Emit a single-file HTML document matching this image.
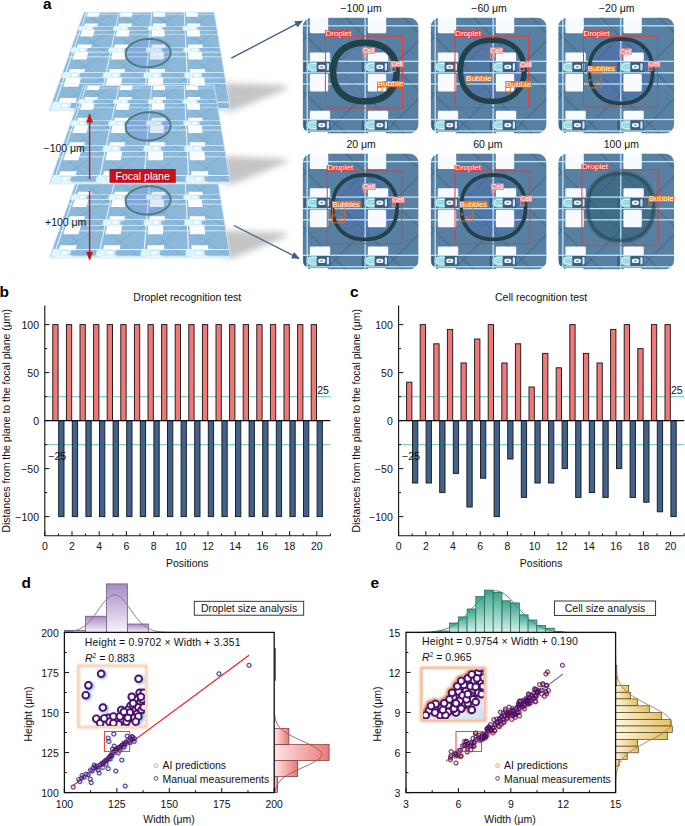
<!DOCTYPE html>
<html><head><meta charset="utf-8"><style>
html,body{margin:0;padding:0;background:#fff;}
#root{position:relative;width:685px;height:826px;overflow:hidden;background:#fff;font-family:"Liberation Sans",sans-serif;}
svg{position:absolute;left:0;top:0;}
</style></head><body><div id="root">
<svg width="685" height="826" viewBox="0 0 685 826" font-family="Liberation Sans">
<line x1="44.80" y1="396.60" x2="330.40" y2="396.60" stroke="#7fd3c4" stroke-width="1.1"/>
<line x1="44.80" y1="444.60" x2="330.40" y2="444.60" stroke="#7fd3c4" stroke-width="1.1"/>
<rect x="52.80" y="324.60" width="5.30" height="96.00" fill="#f07878" stroke="#1a1a1a" stroke-width="0.95"/>
<rect x="58.70" y="420.60" width="5.30" height="96.00" fill="#40628c" stroke="#1a1a1a" stroke-width="0.95"/>
<rect x="66.40" y="324.60" width="5.30" height="96.00" fill="#f07878" stroke="#1a1a1a" stroke-width="0.95"/>
<rect x="72.30" y="420.60" width="5.30" height="96.00" fill="#40628c" stroke="#1a1a1a" stroke-width="0.95"/>
<rect x="80.00" y="324.60" width="5.30" height="96.00" fill="#f07878" stroke="#1a1a1a" stroke-width="0.95"/>
<rect x="85.90" y="420.60" width="5.30" height="96.00" fill="#40628c" stroke="#1a1a1a" stroke-width="0.95"/>
<rect x="93.60" y="324.60" width="5.30" height="96.00" fill="#f07878" stroke="#1a1a1a" stroke-width="0.95"/>
<rect x="99.50" y="420.60" width="5.30" height="96.00" fill="#40628c" stroke="#1a1a1a" stroke-width="0.95"/>
<rect x="107.20" y="324.60" width="5.30" height="96.00" fill="#f07878" stroke="#1a1a1a" stroke-width="0.95"/>
<rect x="113.10" y="420.60" width="5.30" height="96.00" fill="#40628c" stroke="#1a1a1a" stroke-width="0.95"/>
<rect x="120.80" y="324.60" width="5.30" height="96.00" fill="#f07878" stroke="#1a1a1a" stroke-width="0.95"/>
<rect x="126.70" y="420.60" width="5.30" height="96.00" fill="#40628c" stroke="#1a1a1a" stroke-width="0.95"/>
<rect x="134.40" y="324.60" width="5.30" height="96.00" fill="#f07878" stroke="#1a1a1a" stroke-width="0.95"/>
<rect x="140.30" y="420.60" width="5.30" height="96.00" fill="#40628c" stroke="#1a1a1a" stroke-width="0.95"/>
<rect x="148.00" y="324.60" width="5.30" height="96.00" fill="#f07878" stroke="#1a1a1a" stroke-width="0.95"/>
<rect x="153.90" y="420.60" width="5.30" height="96.00" fill="#40628c" stroke="#1a1a1a" stroke-width="0.95"/>
<rect x="161.60" y="324.60" width="5.30" height="96.00" fill="#f07878" stroke="#1a1a1a" stroke-width="0.95"/>
<rect x="167.50" y="420.60" width="5.30" height="96.00" fill="#40628c" stroke="#1a1a1a" stroke-width="0.95"/>
<rect x="175.20" y="324.60" width="5.30" height="96.00" fill="#f07878" stroke="#1a1a1a" stroke-width="0.95"/>
<rect x="181.10" y="420.60" width="5.30" height="96.00" fill="#40628c" stroke="#1a1a1a" stroke-width="0.95"/>
<rect x="188.80" y="324.60" width="5.30" height="96.00" fill="#f07878" stroke="#1a1a1a" stroke-width="0.95"/>
<rect x="194.70" y="420.60" width="5.30" height="96.00" fill="#40628c" stroke="#1a1a1a" stroke-width="0.95"/>
<rect x="202.40" y="324.60" width="5.30" height="96.00" fill="#f07878" stroke="#1a1a1a" stroke-width="0.95"/>
<rect x="208.30" y="420.60" width="5.30" height="96.00" fill="#40628c" stroke="#1a1a1a" stroke-width="0.95"/>
<rect x="216.00" y="324.60" width="5.30" height="96.00" fill="#f07878" stroke="#1a1a1a" stroke-width="0.95"/>
<rect x="221.90" y="420.60" width="5.30" height="96.00" fill="#40628c" stroke="#1a1a1a" stroke-width="0.95"/>
<rect x="229.60" y="324.60" width="5.30" height="96.00" fill="#f07878" stroke="#1a1a1a" stroke-width="0.95"/>
<rect x="235.50" y="420.60" width="5.30" height="96.00" fill="#40628c" stroke="#1a1a1a" stroke-width="0.95"/>
<rect x="243.20" y="324.60" width="5.30" height="96.00" fill="#f07878" stroke="#1a1a1a" stroke-width="0.95"/>
<rect x="249.10" y="420.60" width="5.30" height="96.00" fill="#40628c" stroke="#1a1a1a" stroke-width="0.95"/>
<rect x="256.80" y="324.60" width="5.30" height="96.00" fill="#f07878" stroke="#1a1a1a" stroke-width="0.95"/>
<rect x="262.70" y="420.60" width="5.30" height="96.00" fill="#40628c" stroke="#1a1a1a" stroke-width="0.95"/>
<rect x="270.40" y="324.60" width="5.30" height="96.00" fill="#f07878" stroke="#1a1a1a" stroke-width="0.95"/>
<rect x="276.30" y="420.60" width="5.30" height="96.00" fill="#40628c" stroke="#1a1a1a" stroke-width="0.95"/>
<rect x="284.00" y="324.60" width="5.30" height="96.00" fill="#f07878" stroke="#1a1a1a" stroke-width="0.95"/>
<rect x="289.90" y="420.60" width="5.30" height="96.00" fill="#40628c" stroke="#1a1a1a" stroke-width="0.95"/>
<rect x="297.60" y="324.60" width="5.30" height="96.00" fill="#f07878" stroke="#1a1a1a" stroke-width="0.95"/>
<rect x="303.50" y="420.60" width="5.30" height="96.00" fill="#40628c" stroke="#1a1a1a" stroke-width="0.95"/>
<rect x="311.20" y="324.60" width="5.30" height="96.00" fill="#f07878" stroke="#1a1a1a" stroke-width="0.95"/>
<rect x="317.10" y="420.60" width="5.30" height="96.00" fill="#40628c" stroke="#1a1a1a" stroke-width="0.95"/>
<line x1="44.80" y1="420.60" x2="330.40" y2="420.60" stroke="#111" stroke-width="1.1"/>
<line x1="44.80" y1="305.40" x2="44.80" y2="535.80" stroke="#111" stroke-width="1.1"/>
<line x1="44.30" y1="535.80" x2="330.40" y2="535.80" stroke="#111" stroke-width="1.1"/>
<line x1="44.80" y1="516.60" x2="49.40" y2="516.60" stroke="#111" stroke-width="1"/>
<text transform="translate(39.00,520.80) scale(1.03,1)" font-size="10.2" text-anchor="end" font-weight="normal" fill="#111" letter-spacing="0" >−100</text>
<line x1="44.80" y1="492.60" x2="47.20" y2="492.60" stroke="#111" stroke-width="1"/>
<line x1="44.80" y1="468.60" x2="49.40" y2="468.60" stroke="#111" stroke-width="1"/>
<text transform="translate(39.00,472.80) scale(1.03,1)" font-size="10.2" text-anchor="end" font-weight="normal" fill="#111" letter-spacing="0" >−50</text>
<line x1="44.80" y1="444.60" x2="47.20" y2="444.60" stroke="#111" stroke-width="1"/>
<line x1="44.80" y1="420.60" x2="49.40" y2="420.60" stroke="#111" stroke-width="1"/>
<text transform="translate(39.00,424.80) scale(1.03,1)" font-size="10.2" text-anchor="end" font-weight="normal" fill="#111" letter-spacing="0" >0</text>
<line x1="44.80" y1="396.60" x2="47.20" y2="396.60" stroke="#111" stroke-width="1"/>
<line x1="44.80" y1="372.60" x2="49.40" y2="372.60" stroke="#111" stroke-width="1"/>
<text transform="translate(39.00,376.80) scale(1.03,1)" font-size="10.2" text-anchor="end" font-weight="normal" fill="#111" letter-spacing="0" >50</text>
<line x1="44.80" y1="348.60" x2="47.20" y2="348.60" stroke="#111" stroke-width="1"/>
<line x1="44.80" y1="324.60" x2="49.40" y2="324.60" stroke="#111" stroke-width="1"/>
<text transform="translate(39.00,328.80) scale(1.03,1)" font-size="10.2" text-anchor="end" font-weight="normal" fill="#111" letter-spacing="0" >100</text>
<line x1="44.80" y1="535.80" x2="44.80" y2="531.20" stroke="#111" stroke-width="1"/>
<text transform="translate(44.80,550.20) scale(1.03,1)" font-size="10.2" text-anchor="middle" font-weight="normal" fill="#111" letter-spacing="0" >0</text>
<line x1="58.40" y1="535.80" x2="58.40" y2="533.40" stroke="#111" stroke-width="1"/>
<line x1="72.00" y1="535.80" x2="72.00" y2="531.20" stroke="#111" stroke-width="1"/>
<text transform="translate(72.00,550.20) scale(1.03,1)" font-size="10.2" text-anchor="middle" font-weight="normal" fill="#111" letter-spacing="0" >2</text>
<line x1="85.60" y1="535.80" x2="85.60" y2="533.40" stroke="#111" stroke-width="1"/>
<line x1="99.20" y1="535.80" x2="99.20" y2="531.20" stroke="#111" stroke-width="1"/>
<text transform="translate(99.20,550.20) scale(1.03,1)" font-size="10.2" text-anchor="middle" font-weight="normal" fill="#111" letter-spacing="0" >4</text>
<line x1="112.80" y1="535.80" x2="112.80" y2="533.40" stroke="#111" stroke-width="1"/>
<line x1="126.40" y1="535.80" x2="126.40" y2="531.20" stroke="#111" stroke-width="1"/>
<text transform="translate(126.40,550.20) scale(1.03,1)" font-size="10.2" text-anchor="middle" font-weight="normal" fill="#111" letter-spacing="0" >6</text>
<line x1="140.00" y1="535.80" x2="140.00" y2="533.40" stroke="#111" stroke-width="1"/>
<line x1="153.60" y1="535.80" x2="153.60" y2="531.20" stroke="#111" stroke-width="1"/>
<text transform="translate(153.60,550.20) scale(1.03,1)" font-size="10.2" text-anchor="middle" font-weight="normal" fill="#111" letter-spacing="0" >8</text>
<line x1="167.20" y1="535.80" x2="167.20" y2="533.40" stroke="#111" stroke-width="1"/>
<line x1="180.80" y1="535.80" x2="180.80" y2="531.20" stroke="#111" stroke-width="1"/>
<text transform="translate(180.80,550.20) scale(1.03,1)" font-size="10.2" text-anchor="middle" font-weight="normal" fill="#111" letter-spacing="0" >10</text>
<line x1="194.40" y1="535.80" x2="194.40" y2="533.40" stroke="#111" stroke-width="1"/>
<line x1="208.00" y1="535.80" x2="208.00" y2="531.20" stroke="#111" stroke-width="1"/>
<text transform="translate(208.00,550.20) scale(1.03,1)" font-size="10.2" text-anchor="middle" font-weight="normal" fill="#111" letter-spacing="0" >12</text>
<line x1="221.60" y1="535.80" x2="221.60" y2="533.40" stroke="#111" stroke-width="1"/>
<line x1="235.20" y1="535.80" x2="235.20" y2="531.20" stroke="#111" stroke-width="1"/>
<text transform="translate(235.20,550.20) scale(1.03,1)" font-size="10.2" text-anchor="middle" font-weight="normal" fill="#111" letter-spacing="0" >14</text>
<line x1="248.80" y1="535.80" x2="248.80" y2="533.40" stroke="#111" stroke-width="1"/>
<line x1="262.40" y1="535.80" x2="262.40" y2="531.20" stroke="#111" stroke-width="1"/>
<text transform="translate(262.40,550.20) scale(1.03,1)" font-size="10.2" text-anchor="middle" font-weight="normal" fill="#111" letter-spacing="0" >16</text>
<line x1="276.00" y1="535.80" x2="276.00" y2="533.40" stroke="#111" stroke-width="1"/>
<line x1="289.60" y1="535.80" x2="289.60" y2="531.20" stroke="#111" stroke-width="1"/>
<text transform="translate(289.60,550.20) scale(1.03,1)" font-size="10.2" text-anchor="middle" font-weight="normal" fill="#111" letter-spacing="0" >18</text>
<line x1="303.20" y1="535.80" x2="303.20" y2="533.40" stroke="#111" stroke-width="1"/>
<line x1="316.80" y1="535.80" x2="316.80" y2="531.20" stroke="#111" stroke-width="1"/>
<text transform="translate(316.80,550.20) scale(1.03,1)" font-size="10.2" text-anchor="middle" font-weight="normal" fill="#111" letter-spacing="0" >20</text>
<line x1="330.40" y1="535.80" x2="330.40" y2="533.40" stroke="#111" stroke-width="1"/>
<text transform="translate(328.90,394.10) scale(1.03,1)" font-size="10.2" text-anchor="end" font-weight="normal" fill="#111" letter-spacing="0" >25</text>
<text transform="translate(48.40,460.20) scale(1.03,1)" font-size="10.2" text-anchor="start" font-weight="normal" fill="#111" letter-spacing="0" >−25</text>
<text transform="translate(187.30,301.20) scale(1.03,1)" font-size="10.2" text-anchor="middle" font-weight="normal" fill="#111" letter-spacing="0" >Droplet recognition test</text>
<text transform="translate(187.30,566.80) scale(1.03,1)" font-size="10.2" text-anchor="middle" font-weight="normal" fill="#111" letter-spacing="0" >Positions</text>
<text transform="translate(-0.60,297.10) scale(1.03,1)" font-size="15" text-anchor="start" font-weight="bold" fill="#000" letter-spacing="0" >b</text>
<text transform="translate(9.60,420.80) rotate(-90) scale(1.03,1)" font-size="10.2" text-anchor="middle" fill="#111" letter-spacing="0">Distances from the plane to the focal plane (μm)</text>
<line x1="398.60" y1="396.60" x2="684.20" y2="396.60" stroke="#7fd3c4" stroke-width="1.1"/>
<line x1="398.60" y1="444.60" x2="684.20" y2="444.60" stroke="#7fd3c4" stroke-width="1.1"/>
<rect x="406.60" y="382.20" width="5.30" height="38.40" fill="#f07878" stroke="#1a1a1a" stroke-width="0.95"/>
<rect x="412.50" y="420.60" width="5.30" height="62.40" fill="#40628c" stroke="#1a1a1a" stroke-width="0.95"/>
<rect x="420.20" y="324.60" width="5.30" height="96.00" fill="#f07878" stroke="#1a1a1a" stroke-width="0.95"/>
<rect x="426.10" y="420.60" width="5.30" height="62.40" fill="#40628c" stroke="#1a1a1a" stroke-width="0.95"/>
<rect x="433.80" y="343.80" width="5.30" height="76.80" fill="#f07878" stroke="#1a1a1a" stroke-width="0.95"/>
<rect x="439.70" y="420.60" width="5.30" height="72.00" fill="#40628c" stroke="#1a1a1a" stroke-width="0.95"/>
<rect x="447.40" y="329.40" width="5.30" height="91.20" fill="#f07878" stroke="#1a1a1a" stroke-width="0.95"/>
<rect x="453.30" y="420.60" width="5.30" height="52.80" fill="#40628c" stroke="#1a1a1a" stroke-width="0.95"/>
<rect x="461.00" y="363.00" width="5.30" height="57.60" fill="#f07878" stroke="#1a1a1a" stroke-width="0.95"/>
<rect x="466.90" y="420.60" width="5.30" height="86.40" fill="#40628c" stroke="#1a1a1a" stroke-width="0.95"/>
<rect x="474.60" y="339.00" width="5.30" height="81.60" fill="#f07878" stroke="#1a1a1a" stroke-width="0.95"/>
<rect x="480.50" y="420.60" width="5.30" height="57.60" fill="#40628c" stroke="#1a1a1a" stroke-width="0.95"/>
<rect x="488.20" y="324.60" width="5.30" height="96.00" fill="#f07878" stroke="#1a1a1a" stroke-width="0.95"/>
<rect x="494.10" y="420.60" width="5.30" height="96.00" fill="#40628c" stroke="#1a1a1a" stroke-width="0.95"/>
<rect x="501.80" y="363.00" width="5.30" height="57.60" fill="#f07878" stroke="#1a1a1a" stroke-width="0.95"/>
<rect x="507.70" y="420.60" width="5.30" height="38.40" fill="#40628c" stroke="#1a1a1a" stroke-width="0.95"/>
<rect x="515.40" y="343.80" width="5.30" height="76.80" fill="#f07878" stroke="#1a1a1a" stroke-width="0.95"/>
<rect x="521.30" y="420.60" width="5.30" height="76.80" fill="#40628c" stroke="#1a1a1a" stroke-width="0.95"/>
<rect x="529.00" y="387.00" width="5.30" height="33.60" fill="#f07878" stroke="#1a1a1a" stroke-width="0.95"/>
<rect x="534.90" y="420.60" width="5.30" height="62.40" fill="#40628c" stroke="#1a1a1a" stroke-width="0.95"/>
<rect x="542.60" y="353.40" width="5.30" height="67.20" fill="#f07878" stroke="#1a1a1a" stroke-width="0.95"/>
<rect x="548.50" y="420.60" width="5.30" height="62.40" fill="#40628c" stroke="#1a1a1a" stroke-width="0.95"/>
<rect x="556.20" y="367.80" width="5.30" height="52.80" fill="#f07878" stroke="#1a1a1a" stroke-width="0.95"/>
<rect x="562.10" y="420.60" width="5.30" height="48.00" fill="#40628c" stroke="#1a1a1a" stroke-width="0.95"/>
<rect x="569.80" y="324.60" width="5.30" height="96.00" fill="#f07878" stroke="#1a1a1a" stroke-width="0.95"/>
<rect x="575.70" y="420.60" width="5.30" height="76.80" fill="#40628c" stroke="#1a1a1a" stroke-width="0.95"/>
<rect x="583.40" y="353.40" width="5.30" height="67.20" fill="#f07878" stroke="#1a1a1a" stroke-width="0.95"/>
<rect x="589.30" y="420.60" width="5.30" height="72.00" fill="#40628c" stroke="#1a1a1a" stroke-width="0.95"/>
<rect x="597.00" y="363.00" width="5.30" height="57.60" fill="#f07878" stroke="#1a1a1a" stroke-width="0.95"/>
<rect x="602.90" y="420.60" width="5.30" height="76.80" fill="#40628c" stroke="#1a1a1a" stroke-width="0.95"/>
<rect x="610.60" y="329.40" width="5.30" height="91.20" fill="#f07878" stroke="#1a1a1a" stroke-width="0.95"/>
<rect x="616.50" y="420.60" width="5.30" height="48.00" fill="#40628c" stroke="#1a1a1a" stroke-width="0.95"/>
<rect x="624.20" y="324.60" width="5.30" height="96.00" fill="#f07878" stroke="#1a1a1a" stroke-width="0.95"/>
<rect x="630.10" y="420.60" width="5.30" height="76.80" fill="#40628c" stroke="#1a1a1a" stroke-width="0.95"/>
<rect x="637.80" y="348.60" width="5.30" height="72.00" fill="#f07878" stroke="#1a1a1a" stroke-width="0.95"/>
<rect x="643.70" y="420.60" width="5.30" height="81.60" fill="#40628c" stroke="#1a1a1a" stroke-width="0.95"/>
<rect x="651.40" y="324.60" width="5.30" height="96.00" fill="#f07878" stroke="#1a1a1a" stroke-width="0.95"/>
<rect x="657.30" y="420.60" width="5.30" height="91.20" fill="#40628c" stroke="#1a1a1a" stroke-width="0.95"/>
<rect x="665.00" y="324.60" width="5.30" height="96.00" fill="#f07878" stroke="#1a1a1a" stroke-width="0.95"/>
<rect x="670.90" y="420.60" width="5.30" height="96.00" fill="#40628c" stroke="#1a1a1a" stroke-width="0.95"/>
<line x1="398.60" y1="420.60" x2="684.20" y2="420.60" stroke="#111" stroke-width="1.1"/>
<line x1="398.60" y1="305.40" x2="398.60" y2="535.80" stroke="#111" stroke-width="1.1"/>
<line x1="398.10" y1="535.80" x2="684.20" y2="535.80" stroke="#111" stroke-width="1.1"/>
<line x1="398.60" y1="516.60" x2="403.20" y2="516.60" stroke="#111" stroke-width="1"/>
<text transform="translate(392.80,520.80) scale(1.03,1)" font-size="10.2" text-anchor="end" font-weight="normal" fill="#111" letter-spacing="0" >−100</text>
<line x1="398.60" y1="492.60" x2="401.00" y2="492.60" stroke="#111" stroke-width="1"/>
<line x1="398.60" y1="468.60" x2="403.20" y2="468.60" stroke="#111" stroke-width="1"/>
<text transform="translate(392.80,472.80) scale(1.03,1)" font-size="10.2" text-anchor="end" font-weight="normal" fill="#111" letter-spacing="0" >−50</text>
<line x1="398.60" y1="444.60" x2="401.00" y2="444.60" stroke="#111" stroke-width="1"/>
<line x1="398.60" y1="420.60" x2="403.20" y2="420.60" stroke="#111" stroke-width="1"/>
<text transform="translate(392.80,424.80) scale(1.03,1)" font-size="10.2" text-anchor="end" font-weight="normal" fill="#111" letter-spacing="0" >0</text>
<line x1="398.60" y1="396.60" x2="401.00" y2="396.60" stroke="#111" stroke-width="1"/>
<line x1="398.60" y1="372.60" x2="403.20" y2="372.60" stroke="#111" stroke-width="1"/>
<text transform="translate(392.80,376.80) scale(1.03,1)" font-size="10.2" text-anchor="end" font-weight="normal" fill="#111" letter-spacing="0" >50</text>
<line x1="398.60" y1="348.60" x2="401.00" y2="348.60" stroke="#111" stroke-width="1"/>
<line x1="398.60" y1="324.60" x2="403.20" y2="324.60" stroke="#111" stroke-width="1"/>
<text transform="translate(392.80,328.80) scale(1.03,1)" font-size="10.2" text-anchor="end" font-weight="normal" fill="#111" letter-spacing="0" >100</text>
<line x1="398.60" y1="535.80" x2="398.60" y2="531.20" stroke="#111" stroke-width="1"/>
<text transform="translate(398.60,550.20) scale(1.03,1)" font-size="10.2" text-anchor="middle" font-weight="normal" fill="#111" letter-spacing="0" >0</text>
<line x1="412.20" y1="535.80" x2="412.20" y2="533.40" stroke="#111" stroke-width="1"/>
<line x1="425.80" y1="535.80" x2="425.80" y2="531.20" stroke="#111" stroke-width="1"/>
<text transform="translate(425.80,550.20) scale(1.03,1)" font-size="10.2" text-anchor="middle" font-weight="normal" fill="#111" letter-spacing="0" >2</text>
<line x1="439.40" y1="535.80" x2="439.40" y2="533.40" stroke="#111" stroke-width="1"/>
<line x1="453.00" y1="535.80" x2="453.00" y2="531.20" stroke="#111" stroke-width="1"/>
<text transform="translate(453.00,550.20) scale(1.03,1)" font-size="10.2" text-anchor="middle" font-weight="normal" fill="#111" letter-spacing="0" >4</text>
<line x1="466.60" y1="535.80" x2="466.60" y2="533.40" stroke="#111" stroke-width="1"/>
<line x1="480.20" y1="535.80" x2="480.20" y2="531.20" stroke="#111" stroke-width="1"/>
<text transform="translate(480.20,550.20) scale(1.03,1)" font-size="10.2" text-anchor="middle" font-weight="normal" fill="#111" letter-spacing="0" >6</text>
<line x1="493.80" y1="535.80" x2="493.80" y2="533.40" stroke="#111" stroke-width="1"/>
<line x1="507.40" y1="535.80" x2="507.40" y2="531.20" stroke="#111" stroke-width="1"/>
<text transform="translate(507.40,550.20) scale(1.03,1)" font-size="10.2" text-anchor="middle" font-weight="normal" fill="#111" letter-spacing="0" >8</text>
<line x1="521.00" y1="535.80" x2="521.00" y2="533.40" stroke="#111" stroke-width="1"/>
<line x1="534.60" y1="535.80" x2="534.60" y2="531.20" stroke="#111" stroke-width="1"/>
<text transform="translate(534.60,550.20) scale(1.03,1)" font-size="10.2" text-anchor="middle" font-weight="normal" fill="#111" letter-spacing="0" >10</text>
<line x1="548.20" y1="535.80" x2="548.20" y2="533.40" stroke="#111" stroke-width="1"/>
<line x1="561.80" y1="535.80" x2="561.80" y2="531.20" stroke="#111" stroke-width="1"/>
<text transform="translate(561.80,550.20) scale(1.03,1)" font-size="10.2" text-anchor="middle" font-weight="normal" fill="#111" letter-spacing="0" >12</text>
<line x1="575.40" y1="535.80" x2="575.40" y2="533.40" stroke="#111" stroke-width="1"/>
<line x1="589.00" y1="535.80" x2="589.00" y2="531.20" stroke="#111" stroke-width="1"/>
<text transform="translate(589.00,550.20) scale(1.03,1)" font-size="10.2" text-anchor="middle" font-weight="normal" fill="#111" letter-spacing="0" >14</text>
<line x1="602.60" y1="535.80" x2="602.60" y2="533.40" stroke="#111" stroke-width="1"/>
<line x1="616.20" y1="535.80" x2="616.20" y2="531.20" stroke="#111" stroke-width="1"/>
<text transform="translate(616.20,550.20) scale(1.03,1)" font-size="10.2" text-anchor="middle" font-weight="normal" fill="#111" letter-spacing="0" >16</text>
<line x1="629.80" y1="535.80" x2="629.80" y2="533.40" stroke="#111" stroke-width="1"/>
<line x1="643.40" y1="535.80" x2="643.40" y2="531.20" stroke="#111" stroke-width="1"/>
<text transform="translate(643.40,550.20) scale(1.03,1)" font-size="10.2" text-anchor="middle" font-weight="normal" fill="#111" letter-spacing="0" >18</text>
<line x1="657.00" y1="535.80" x2="657.00" y2="533.40" stroke="#111" stroke-width="1"/>
<line x1="670.60" y1="535.80" x2="670.60" y2="531.20" stroke="#111" stroke-width="1"/>
<text transform="translate(670.60,550.20) scale(1.03,1)" font-size="10.2" text-anchor="middle" font-weight="normal" fill="#111" letter-spacing="0" >20</text>
<line x1="684.20" y1="535.80" x2="684.20" y2="533.40" stroke="#111" stroke-width="1"/>
<text transform="translate(682.70,394.10) scale(1.03,1)" font-size="10.2" text-anchor="end" font-weight="normal" fill="#111" letter-spacing="0" >25</text>
<text transform="translate(402.20,460.20) scale(1.03,1)" font-size="10.2" text-anchor="start" font-weight="normal" fill="#111" letter-spacing="0" >−25</text>
<text transform="translate(541.10,301.20) scale(1.03,1)" font-size="10.2" text-anchor="middle" font-weight="normal" fill="#111" letter-spacing="0" >Cell recognition test</text>
<text transform="translate(541.10,566.80) scale(1.03,1)" font-size="10.2" text-anchor="middle" font-weight="normal" fill="#111" letter-spacing="0" >Positions</text>
<text transform="translate(350.00,297.10) scale(1.03,1)" font-size="15" text-anchor="start" font-weight="bold" fill="#000" letter-spacing="0" >c</text>
<text transform="translate(360.00,420.80) rotate(-90) scale(1.03,1)" font-size="10.2" text-anchor="middle" fill="#111" letter-spacing="0">Distances from the plane to the focal plane (μm)</text>
<defs>
<linearGradient id="pdtop" x1="0" y1="1" x2="0" y2="0"><stop offset="0" stop-color="#f7f2fa"/><stop offset="1" stop-color="#a68bc3"/></linearGradient>
<linearGradient id="pdrt" x1="0" y1="0" x2="1" y2="0"><stop offset="0" stop-color="#fde6e6"/><stop offset="1" stop-color="#e77a78"/></linearGradient>
<filter id="pdblur" x="-50%" y="-50%" width="200%" height="200%"><feGaussianBlur stdDeviation="1.2"/></filter>
<filter id="pdbblur" x="-20%" y="-20%" width="140%" height="140%"><feGaussianBlur stdDeviation="0.8"/></filter>
<clipPath id="pdinclip"><rect x="79.9" y="667.2" width="65.0" height="58.5"/></clipPath>
</defs>
<rect x="64.40" y="630.40" width="20.98" height="2.00" fill="url(#pdtop)" stroke="#5e4a72" stroke-width="0.7"/>
<rect x="85.38" y="616.20" width="20.98" height="16.20" fill="url(#pdtop)" stroke="#5e4a72" stroke-width="0.7"/>
<rect x="106.36" y="583.90" width="20.98" height="48.50" fill="url(#pdtop)" stroke="#5e4a72" stroke-width="0.7"/>
<rect x="127.34" y="624.00" width="20.98" height="8.40" fill="url(#pdtop)" stroke="#5e4a72" stroke-width="0.7"/>
<polyline points="64.40,632.13 65.40,632.07 66.40,632.00 67.40,631.92 68.40,631.82 69.40,631.70 70.40,631.57 71.40,631.42 72.40,631.24 73.40,631.03 74.40,630.80 75.40,630.53 76.40,630.23 77.40,629.88 78.40,629.49 79.40,629.06 80.40,628.57 81.40,628.03 82.40,627.44 83.40,626.78 84.40,626.07 85.40,625.29 86.40,624.44 87.40,623.54 88.40,622.56 89.40,621.52 90.40,620.42 91.40,619.26 92.40,618.04 93.40,616.77 94.40,615.45 95.40,614.10 96.40,612.71 97.40,611.30 98.40,609.88 99.40,608.46 100.40,607.04 101.40,605.65 102.40,604.29 103.40,602.97 104.40,601.71 105.40,600.53 106.40,599.43 107.40,598.42 108.40,597.52 109.40,596.73 110.40,596.07 111.40,595.54 112.40,595.15 113.40,594.91 114.40,594.80 115.40,594.85 116.40,595.04 117.40,595.37 118.40,595.85 119.40,596.45 120.40,597.19 121.40,598.05 122.40,599.01 123.40,600.08 124.40,601.23 125.40,602.46 126.40,603.75 127.40,605.10 128.40,606.48 129.40,607.89 130.40,609.31 131.40,610.73 132.40,612.15 133.40,613.55 134.40,614.92 135.40,616.25 136.40,617.54 137.40,618.78 138.40,619.96 139.40,621.09 140.40,622.15 141.40,623.15 142.40,624.09 143.40,624.96 144.40,625.76 145.40,626.50 146.40,627.18 147.40,627.80 148.40,628.36 149.40,628.87 150.40,629.32 151.40,629.73 152.40,630.09 153.40,630.41 154.40,630.70 155.40,630.94 156.40,631.16 157.40,631.35 158.40,631.51 159.40,631.65 160.40,631.77 161.40,631.88 162.40,631.97 163.40,632.04 164.40,632.10 165.40,632.16 166.40,632.20 167.40,632.24 168.40,632.27 169.40,632.29 170.40,632.31 171.40,632.33 172.40,632.34 173.40,632.36 174.40,632.37 175.40,632.37 176.40,632.38 177.40,632.38 178.40,632.39 179.40,632.39 180.40,632.39 181.40,632.39 182.40,632.40 183.40,632.40 184.40,632.40" fill="none" stroke="#7a6590" stroke-width="0.9"/>
<rect x="274.20" y="776.58" width="3.20" height="16.02" fill="url(#pdrt)" stroke="#7a3030" stroke-width="0.7"/>
<rect x="274.20" y="760.56" width="23.50" height="16.02" fill="url(#pdrt)" stroke="#7a3030" stroke-width="0.7"/>
<rect x="274.20" y="744.54" width="54.90" height="16.02" fill="url(#pdrt)" stroke="#7a3030" stroke-width="0.7"/>
<rect x="274.20" y="728.52" width="14.70" height="16.02" fill="url(#pdrt)" stroke="#7a3030" stroke-width="0.7"/>
<rect x="274.20" y="664.44" width="1.30" height="16.02" fill="url(#pdrt)" stroke="#7a3030" stroke-width="0.7"/>
<rect x="274.20" y="648.42" width="1.30" height="16.02" fill="url(#pdrt)" stroke="#7a3030" stroke-width="0.7"/>
<polyline points="274.20,690.00 274.20,691.00 274.20,692.00 274.20,693.00 274.20,694.00 274.20,695.00 274.20,696.00 274.20,697.00 274.20,698.00 274.21,699.00 274.21,700.00 274.21,701.00 274.21,702.00 274.22,703.00 274.23,704.00 274.23,705.00 274.25,706.00 274.26,707.00 274.28,708.00 274.31,709.00 274.34,710.00 274.38,711.00 274.43,712.00 274.50,713.00 274.58,714.00 274.68,715.00 274.81,716.00 274.96,717.00 275.14,718.00 275.37,719.00 275.63,720.00 275.95,721.00 276.33,722.00 276.77,723.00 277.28,724.00 277.88,725.00 278.57,726.00 279.35,727.00 280.24,728.00 281.24,729.00 282.36,730.00 283.60,731.00 284.96,732.00 286.45,733.00 288.07,734.00 289.80,735.00 291.65,736.00 293.59,737.00 295.63,738.00 297.75,739.00 299.92,740.00 302.12,741.00 304.34,742.00 306.54,743.00 308.69,744.00 310.77,745.00 312.75,746.00 314.60,747.00 316.28,748.00 317.77,749.00 319.06,750.00 320.10,751.00 320.90,752.00 321.43,753.00 321.68,754.00 321.65,755.00 321.34,756.00 320.76,757.00 319.91,758.00 318.82,759.00 317.49,760.00 315.96,761.00 314.24,762.00 312.36,763.00 310.36,764.00 308.27,765.00 306.10,766.00 303.90,767.00 301.68,768.00 299.48,769.00 297.32,770.00 295.22,771.00 293.20,772.00 291.27,773.00 289.44,774.00 287.73,775.00 286.15,776.00 284.68,777.00 283.34,778.00 282.13,779.00 281.03,780.00 280.06,781.00 279.19,782.00 278.42,783.00 277.76,784.00 277.18,785.00 276.68,786.00 276.25,787.00 275.88,788.00 275.58,789.00 275.32,790.00 275.10,791.00 274.92,792.00" fill="none" stroke="#a85050" stroke-width="0.9"/>
<rect x="64.4" y="632.4" width="209.79999999999998" height="160.20000000000005" fill="#fff"/>
<line x1="72.79" y1="785.79" x2="249.02" y2="655.23" stroke="#f01c1c" stroke-width="1.1"/>
<circle cx="73.90" cy="787.30" r="2.0" fill="none" stroke="#6aaee6" stroke-width="0.85"/>
<circle cx="79.50" cy="779.70" r="2.0" fill="none" stroke="#6aaee6" stroke-width="0.85"/>
<circle cx="80.50" cy="781.90" r="2.0" fill="none" stroke="#6aaee6" stroke-width="0.85"/>
<circle cx="82.90" cy="775.70" r="2.0" fill="none" stroke="#6aaee6" stroke-width="0.85"/>
<circle cx="82.50" cy="778.30" r="2.0" fill="none" stroke="#6aaee6" stroke-width="0.85"/>
<circle cx="88.90" cy="774.90" r="2.0" fill="none" stroke="#6aaee6" stroke-width="0.85"/>
<circle cx="90.90" cy="779.30" r="2.0" fill="none" stroke="#6aaee6" stroke-width="0.85"/>
<circle cx="91.90" cy="782.90" r="2.0" fill="none" stroke="#6aaee6" stroke-width="0.85"/>
<circle cx="91.30" cy="770.30" r="2.0" fill="none" stroke="#6aaee6" stroke-width="0.85"/>
<circle cx="92.90" cy="771.30" r="2.0" fill="none" stroke="#6aaee6" stroke-width="0.85"/>
<circle cx="94.90" cy="765.30" r="2.0" fill="none" stroke="#6aaee6" stroke-width="0.85"/>
<circle cx="96.90" cy="768.30" r="2.0" fill="none" stroke="#6aaee6" stroke-width="0.85"/>
<circle cx="98.90" cy="770.30" r="2.0" fill="none" stroke="#6aaee6" stroke-width="0.85"/>
<circle cx="99.90" cy="773.30" r="2.0" fill="none" stroke="#6aaee6" stroke-width="0.85"/>
<circle cx="100.90" cy="765.30" r="2.0" fill="none" stroke="#6aaee6" stroke-width="0.85"/>
<circle cx="102.90" cy="763.30" r="2.0" fill="none" stroke="#6aaee6" stroke-width="0.85"/>
<circle cx="104.90" cy="762.30" r="2.0" fill="none" stroke="#6aaee6" stroke-width="0.85"/>
<circle cx="106.90" cy="761.30" r="2.0" fill="none" stroke="#6aaee6" stroke-width="0.85"/>
<circle cx="108.90" cy="759.30" r="2.0" fill="none" stroke="#6aaee6" stroke-width="0.85"/>
<circle cx="109.90" cy="757.30" r="2.0" fill="none" stroke="#6aaee6" stroke-width="0.85"/>
<circle cx="111.90" cy="755.30" r="2.0" fill="none" stroke="#6aaee6" stroke-width="0.85"/>
<circle cx="112.90" cy="753.30" r="2.0" fill="none" stroke="#6aaee6" stroke-width="0.85"/>
<circle cx="114.90" cy="751.30" r="2.0" fill="none" stroke="#6aaee6" stroke-width="0.85"/>
<circle cx="116.90" cy="749.30" r="2.0" fill="none" stroke="#6aaee6" stroke-width="0.85"/>
<circle cx="118.90" cy="748.30" r="2.0" fill="none" stroke="#6aaee6" stroke-width="0.85"/>
<circle cx="120.90" cy="747.30" r="2.0" fill="none" stroke="#6aaee6" stroke-width="0.85"/>
<circle cx="122.90" cy="745.30" r="2.0" fill="none" stroke="#6aaee6" stroke-width="0.85"/>
<circle cx="124.90" cy="743.30" r="2.0" fill="none" stroke="#6aaee6" stroke-width="0.85"/>
<circle cx="126.90" cy="742.30" r="2.0" fill="none" stroke="#6aaee6" stroke-width="0.85"/>
<circle cx="128.90" cy="740.30" r="2.0" fill="none" stroke="#6aaee6" stroke-width="0.85"/>
<circle cx="130.90" cy="738.30" r="2.0" fill="none" stroke="#6aaee6" stroke-width="0.85"/>
<circle cx="132.90" cy="737.30" r="2.0" fill="none" stroke="#6aaee6" stroke-width="0.85"/>
<circle cx="133.90" cy="739.30" r="2.0" fill="none" stroke="#6aaee6" stroke-width="0.85"/>
<circle cx="134.90" cy="741.70" r="2.0" fill="none" stroke="#6aaee6" stroke-width="0.85"/>
<circle cx="108.90" cy="768.90" r="2.0" fill="none" stroke="#6aaee6" stroke-width="0.85"/>
<circle cx="116.50" cy="771.30" r="2.0" fill="none" stroke="#6aaee6" stroke-width="0.85"/>
<circle cx="122.50" cy="760.30" r="2.0" fill="none" stroke="#6aaee6" stroke-width="0.85"/>
<circle cx="125.90" cy="786.30" r="2.0" fill="none" stroke="#6aaee6" stroke-width="0.85"/>
<circle cx="108.90" cy="738.30" r="2.0" fill="none" stroke="#6aaee6" stroke-width="0.85"/>
<circle cx="109.50" cy="741.70" r="2.0" fill="none" stroke="#6aaee6" stroke-width="0.85"/>
<circle cx="114.50" cy="734.30" r="2.0" fill="none" stroke="#6aaee6" stroke-width="0.85"/>
<circle cx="114.90" cy="746.30" r="2.0" fill="none" stroke="#6aaee6" stroke-width="0.85"/>
<circle cx="127.90" cy="736.30" r="2.0" fill="none" stroke="#6aaee6" stroke-width="0.85"/>
<circle cx="132.90" cy="736.70" r="2.0" fill="none" stroke="#6aaee6" stroke-width="0.85"/>
<circle cx="95.90" cy="766.90" r="2.0" fill="none" stroke="#6aaee6" stroke-width="0.85"/>
<circle cx="97.90" cy="766.30" r="2.0" fill="none" stroke="#6aaee6" stroke-width="0.85"/>
<circle cx="101.90" cy="764.90" r="2.0" fill="none" stroke="#6aaee6" stroke-width="0.85"/>
<circle cx="103.90" cy="763.70" r="2.0" fill="none" stroke="#6aaee6" stroke-width="0.85"/>
<circle cx="105.90" cy="760.90" r="2.0" fill="none" stroke="#6aaee6" stroke-width="0.85"/>
<circle cx="107.90" cy="759.70" r="2.0" fill="none" stroke="#6aaee6" stroke-width="0.85"/>
<circle cx="110.90" cy="756.90" r="2.0" fill="none" stroke="#6aaee6" stroke-width="0.85"/>
<circle cx="112.50" cy="756.50" r="2.0" fill="none" stroke="#6aaee6" stroke-width="0.85"/>
<circle cx="113.90" cy="752.90" r="2.0" fill="none" stroke="#6aaee6" stroke-width="0.85"/>
<circle cx="115.90" cy="750.30" r="2.0" fill="none" stroke="#6aaee6" stroke-width="0.85"/>
<circle cx="117.90" cy="749.70" r="2.0" fill="none" stroke="#6aaee6" stroke-width="0.85"/>
<circle cx="119.90" cy="747.70" r="2.0" fill="none" stroke="#6aaee6" stroke-width="0.85"/>
<circle cx="121.90" cy="746.30" r="2.0" fill="none" stroke="#6aaee6" stroke-width="0.85"/>
<circle cx="123.90" cy="744.90" r="2.0" fill="none" stroke="#6aaee6" stroke-width="0.85"/>
<circle cx="125.90" cy="744.30" r="2.0" fill="none" stroke="#6aaee6" stroke-width="0.85"/>
<circle cx="129.90" cy="741.70" r="2.0" fill="none" stroke="#6aaee6" stroke-width="0.85"/>
<circle cx="131.90" cy="739.70" r="2.0" fill="none" stroke="#6aaee6" stroke-width="0.85"/>
<circle cx="113.30" cy="749.30" r="2.0" fill="none" stroke="#6aaee6" stroke-width="0.85"/>
<circle cx="118.90" cy="753.30" r="2.0" fill="none" stroke="#6aaee6" stroke-width="0.85"/>
<circle cx="120.90" cy="750.30" r="2.0" fill="none" stroke="#6aaee6" stroke-width="0.85"/>
<circle cx="124.90" cy="747.30" r="2.0" fill="none" stroke="#6aaee6" stroke-width="0.85"/>
<circle cx="110.90" cy="759.30" r="2.0" fill="none" stroke="#6aaee6" stroke-width="0.85"/>
<circle cx="106.90" cy="764.30" r="2.0" fill="none" stroke="#6aaee6" stroke-width="0.85"/>
<circle cx="103.30" cy="767.70" r="2.0" fill="none" stroke="#6aaee6" stroke-width="0.85"/>
<circle cx="130.90" cy="742.90" r="2.0" fill="none" stroke="#6aaee6" stroke-width="0.85"/>
<circle cx="135.30" cy="738.90" r="2.0" fill="none" stroke="#6aaee6" stroke-width="0.85"/>
<circle cx="84.90" cy="777.30" r="2.0" fill="none" stroke="#6aaee6" stroke-width="0.85"/>
<circle cx="86.90" cy="774.30" r="2.0" fill="none" stroke="#6aaee6" stroke-width="0.85"/>
<circle cx="93.90" cy="768.30" r="2.0" fill="none" stroke="#6aaee6" stroke-width="0.85"/>
<circle cx="219.71" cy="674.03" r="2.0" fill="none" stroke="#6aaee6" stroke-width="0.85"/>
<circle cx="249.71" cy="665.54" r="2.0" fill="none" stroke="#6aaee6" stroke-width="0.85"/>
<circle cx="73.00" cy="787.00" r="2.0" fill="none" stroke="#4b0f6e" stroke-width="0.85"/>
<circle cx="78.60" cy="779.40" r="2.0" fill="none" stroke="#4b0f6e" stroke-width="0.85"/>
<circle cx="79.60" cy="781.60" r="2.0" fill="none" stroke="#4b0f6e" stroke-width="0.85"/>
<circle cx="82.00" cy="775.40" r="2.0" fill="none" stroke="#4b0f6e" stroke-width="0.85"/>
<circle cx="81.60" cy="778.00" r="2.0" fill="none" stroke="#4b0f6e" stroke-width="0.85"/>
<circle cx="88.00" cy="774.60" r="2.0" fill="none" stroke="#4b0f6e" stroke-width="0.85"/>
<circle cx="90.00" cy="779.00" r="2.0" fill="none" stroke="#4b0f6e" stroke-width="0.85"/>
<circle cx="91.00" cy="782.60" r="2.0" fill="none" stroke="#4b0f6e" stroke-width="0.85"/>
<circle cx="90.40" cy="770.00" r="2.0" fill="none" stroke="#4b0f6e" stroke-width="0.85"/>
<circle cx="92.00" cy="771.00" r="2.0" fill="none" stroke="#4b0f6e" stroke-width="0.85"/>
<circle cx="94.00" cy="765.00" r="2.0" fill="none" stroke="#4b0f6e" stroke-width="0.85"/>
<circle cx="96.00" cy="768.00" r="2.0" fill="none" stroke="#4b0f6e" stroke-width="0.85"/>
<circle cx="98.00" cy="770.00" r="2.0" fill="none" stroke="#4b0f6e" stroke-width="0.85"/>
<circle cx="99.00" cy="773.00" r="2.0" fill="none" stroke="#4b0f6e" stroke-width="0.85"/>
<circle cx="100.00" cy="765.00" r="2.0" fill="none" stroke="#4b0f6e" stroke-width="0.85"/>
<circle cx="102.00" cy="763.00" r="2.0" fill="none" stroke="#4b0f6e" stroke-width="0.85"/>
<circle cx="104.00" cy="762.00" r="2.0" fill="none" stroke="#4b0f6e" stroke-width="0.85"/>
<circle cx="106.00" cy="761.00" r="2.0" fill="none" stroke="#4b0f6e" stroke-width="0.85"/>
<circle cx="108.00" cy="759.00" r="2.0" fill="none" stroke="#4b0f6e" stroke-width="0.85"/>
<circle cx="109.00" cy="757.00" r="2.0" fill="none" stroke="#4b0f6e" stroke-width="0.85"/>
<circle cx="111.00" cy="755.00" r="2.0" fill="none" stroke="#4b0f6e" stroke-width="0.85"/>
<circle cx="112.00" cy="753.00" r="2.0" fill="none" stroke="#4b0f6e" stroke-width="0.85"/>
<circle cx="114.00" cy="751.00" r="2.0" fill="none" stroke="#4b0f6e" stroke-width="0.85"/>
<circle cx="116.00" cy="749.00" r="2.0" fill="none" stroke="#4b0f6e" stroke-width="0.85"/>
<circle cx="118.00" cy="748.00" r="2.0" fill="none" stroke="#4b0f6e" stroke-width="0.85"/>
<circle cx="120.00" cy="747.00" r="2.0" fill="none" stroke="#4b0f6e" stroke-width="0.85"/>
<circle cx="122.00" cy="745.00" r="2.0" fill="none" stroke="#4b0f6e" stroke-width="0.85"/>
<circle cx="124.00" cy="743.00" r="2.0" fill="none" stroke="#4b0f6e" stroke-width="0.85"/>
<circle cx="126.00" cy="742.00" r="2.0" fill="none" stroke="#4b0f6e" stroke-width="0.85"/>
<circle cx="128.00" cy="740.00" r="2.0" fill="none" stroke="#4b0f6e" stroke-width="0.85"/>
<circle cx="130.00" cy="738.00" r="2.0" fill="none" stroke="#4b0f6e" stroke-width="0.85"/>
<circle cx="132.00" cy="737.00" r="2.0" fill="none" stroke="#4b0f6e" stroke-width="0.85"/>
<circle cx="133.00" cy="739.00" r="2.0" fill="none" stroke="#4b0f6e" stroke-width="0.85"/>
<circle cx="134.00" cy="741.40" r="2.0" fill="none" stroke="#4b0f6e" stroke-width="0.85"/>
<circle cx="108.00" cy="768.60" r="2.0" fill="none" stroke="#4b0f6e" stroke-width="0.85"/>
<circle cx="115.60" cy="771.00" r="2.0" fill="none" stroke="#4b0f6e" stroke-width="0.85"/>
<circle cx="121.60" cy="760.00" r="2.0" fill="none" stroke="#4b0f6e" stroke-width="0.85"/>
<circle cx="125.00" cy="786.00" r="2.0" fill="none" stroke="#4b0f6e" stroke-width="0.85"/>
<circle cx="108.00" cy="738.00" r="2.0" fill="none" stroke="#4b0f6e" stroke-width="0.85"/>
<circle cx="108.60" cy="741.40" r="2.0" fill="none" stroke="#4b0f6e" stroke-width="0.85"/>
<circle cx="113.60" cy="734.00" r="2.0" fill="none" stroke="#4b0f6e" stroke-width="0.85"/>
<circle cx="114.00" cy="746.00" r="2.0" fill="none" stroke="#4b0f6e" stroke-width="0.85"/>
<circle cx="127.00" cy="736.00" r="2.0" fill="none" stroke="#4b0f6e" stroke-width="0.85"/>
<circle cx="132.00" cy="736.40" r="2.0" fill="none" stroke="#4b0f6e" stroke-width="0.85"/>
<circle cx="95.00" cy="766.60" r="2.0" fill="none" stroke="#4b0f6e" stroke-width="0.85"/>
<circle cx="97.00" cy="766.00" r="2.0" fill="none" stroke="#4b0f6e" stroke-width="0.85"/>
<circle cx="101.00" cy="764.60" r="2.0" fill="none" stroke="#4b0f6e" stroke-width="0.85"/>
<circle cx="103.00" cy="763.40" r="2.0" fill="none" stroke="#4b0f6e" stroke-width="0.85"/>
<circle cx="105.00" cy="760.60" r="2.0" fill="none" stroke="#4b0f6e" stroke-width="0.85"/>
<circle cx="107.00" cy="759.40" r="2.0" fill="none" stroke="#4b0f6e" stroke-width="0.85"/>
<circle cx="110.00" cy="756.60" r="2.0" fill="none" stroke="#4b0f6e" stroke-width="0.85"/>
<circle cx="111.60" cy="756.20" r="2.0" fill="none" stroke="#4b0f6e" stroke-width="0.85"/>
<circle cx="113.00" cy="752.60" r="2.0" fill="none" stroke="#4b0f6e" stroke-width="0.85"/>
<circle cx="115.00" cy="750.00" r="2.0" fill="none" stroke="#4b0f6e" stroke-width="0.85"/>
<circle cx="117.00" cy="749.40" r="2.0" fill="none" stroke="#4b0f6e" stroke-width="0.85"/>
<circle cx="119.00" cy="747.40" r="2.0" fill="none" stroke="#4b0f6e" stroke-width="0.85"/>
<circle cx="121.00" cy="746.00" r="2.0" fill="none" stroke="#4b0f6e" stroke-width="0.85"/>
<circle cx="123.00" cy="744.60" r="2.0" fill="none" stroke="#4b0f6e" stroke-width="0.85"/>
<circle cx="125.00" cy="744.00" r="2.0" fill="none" stroke="#4b0f6e" stroke-width="0.85"/>
<circle cx="129.00" cy="741.40" r="2.0" fill="none" stroke="#4b0f6e" stroke-width="0.85"/>
<circle cx="131.00" cy="739.40" r="2.0" fill="none" stroke="#4b0f6e" stroke-width="0.85"/>
<circle cx="112.40" cy="749.00" r="2.0" fill="none" stroke="#4b0f6e" stroke-width="0.85"/>
<circle cx="118.00" cy="753.00" r="2.0" fill="none" stroke="#4b0f6e" stroke-width="0.85"/>
<circle cx="120.00" cy="750.00" r="2.0" fill="none" stroke="#4b0f6e" stroke-width="0.85"/>
<circle cx="124.00" cy="747.00" r="2.0" fill="none" stroke="#4b0f6e" stroke-width="0.85"/>
<circle cx="110.00" cy="759.00" r="2.0" fill="none" stroke="#4b0f6e" stroke-width="0.85"/>
<circle cx="106.00" cy="764.00" r="2.0" fill="none" stroke="#4b0f6e" stroke-width="0.85"/>
<circle cx="102.40" cy="767.40" r="2.0" fill="none" stroke="#4b0f6e" stroke-width="0.85"/>
<circle cx="130.00" cy="742.60" r="2.0" fill="none" stroke="#4b0f6e" stroke-width="0.85"/>
<circle cx="134.40" cy="738.60" r="2.0" fill="none" stroke="#4b0f6e" stroke-width="0.85"/>
<circle cx="84.00" cy="777.00" r="2.0" fill="none" stroke="#4b0f6e" stroke-width="0.85"/>
<circle cx="86.00" cy="774.00" r="2.0" fill="none" stroke="#4b0f6e" stroke-width="0.85"/>
<circle cx="93.00" cy="768.00" r="2.0" fill="none" stroke="#4b0f6e" stroke-width="0.85"/>
<circle cx="218.81" cy="673.73" r="2.0" fill="none" stroke="#4b0f6e" stroke-width="0.85"/>
<circle cx="248.81" cy="665.24" r="2.0" fill="none" stroke="#4b0f6e" stroke-width="0.85"/>
<rect x="104.4" y="731.6" width="25.299999999999983" height="19.799999999999955" fill="none" stroke="#e8282a" stroke-width="0.9"/>
<rect x="78.55" y="665.90" width="67.65" height="61.10" fill="#ffffff" stroke="#f7c8a6" stroke-width="2.70" filter="url(#pdbblur)"/>
<g clip-path="url(#pdinclip)">

<circle cx="102.34" cy="674.60" r="4.9" fill="#8cc0ee" opacity="0.9" filter="url(#pdblur)"/>
<circle cx="89.59" cy="686.16" r="4.9" fill="#8cc0ee" opacity="0.9" filter="url(#pdblur)"/>
<circle cx="86.97" cy="696.01" r="4.9" fill="#8cc0ee" opacity="0.9" filter="url(#pdblur)"/>
<circle cx="139.78" cy="679.59" r="4.9" fill="#8cc0ee" opacity="0.9" filter="url(#pdblur)"/>
<circle cx="104.05" cy="708.36" r="4.9" fill="#8cc0ee" opacity="0.9" filter="url(#pdblur)"/>
<circle cx="97.48" cy="719.53" r="4.9" fill="#8cc0ee" opacity="0.9" filter="url(#pdblur)"/>
<circle cx="109.30" cy="718.61" r="4.9" fill="#8cc0ee" opacity="0.9" filter="url(#pdblur)"/>
<circle cx="118.50" cy="719.92" r="4.9" fill="#8cc0ee" opacity="0.9" filter="url(#pdblur)"/>
<circle cx="122.44" cy="710.73" r="4.9" fill="#8cc0ee" opacity="0.9" filter="url(#pdblur)"/>
<circle cx="131.64" cy="706.79" r="4.9" fill="#8cc0ee" opacity="0.9" filter="url(#pdblur)"/>
<circle cx="136.89" cy="700.22" r="4.9" fill="#8cc0ee" opacity="0.9" filter="url(#pdblur)"/>
<circle cx="141.49" cy="702.84" r="4.9" fill="#8cc0ee" opacity="0.9" filter="url(#pdblur)"/>
<circle cx="140.84" cy="693.65" r="4.9" fill="#8cc0ee" opacity="0.9" filter="url(#pdblur)"/>
<circle cx="144.78" cy="693.65" r="4.9" fill="#8cc0ee" opacity="0.9" filter="url(#pdblur)"/>
<circle cx="134.27" cy="715.98" r="4.9" fill="#8cc0ee" opacity="0.9" filter="url(#pdblur)"/>
<circle cx="132.95" cy="725.18" r="4.9" fill="#8cc0ee" opacity="0.9" filter="url(#pdblur)"/>
<circle cx="106.67" cy="724.52" r="4.9" fill="#8cc0ee" opacity="0.9" filter="url(#pdblur)"/>
<circle cx="117.19" cy="722.55" r="4.9" fill="#8cc0ee" opacity="0.9" filter="url(#pdblur)"/>
<circle cx="126.38" cy="715.98" r="4.9" fill="#8cc0ee" opacity="0.9" filter="url(#pdblur)"/>
<circle cx="129.01" cy="710.73" r="4.9" fill="#8cc0ee" opacity="0.9" filter="url(#pdblur)"/>
<circle cx="136.89" cy="710.73" r="4.9" fill="#8cc0ee" opacity="0.9" filter="url(#pdblur)"/>
<circle cx="139.52" cy="708.10" r="4.9" fill="#8cc0ee" opacity="0.9" filter="url(#pdblur)"/>
<circle cx="143.46" cy="700.22" r="4.9" fill="#8cc0ee" opacity="0.9" filter="url(#pdblur)"/>
<circle cx="138.21" cy="714.67" r="4.9" fill="#8cc0ee" opacity="0.9" filter="url(#pdblur)"/>
<circle cx="123.76" cy="721.24" r="4.9" fill="#8cc0ee" opacity="0.9" filter="url(#pdblur)"/>
<circle cx="114.56" cy="717.30" r="4.9" fill="#8cc0ee" opacity="0.9" filter="url(#pdblur)"/>
<circle cx="110.62" cy="722.55" r="4.9" fill="#8cc0ee" opacity="0.9" filter="url(#pdblur)"/>
<circle cx="101.42" cy="723.87" r="4.9" fill="#8cc0ee" opacity="0.9" filter="url(#pdblur)"/>
<circle cx="134.27" cy="704.16" r="4.9" fill="#8cc0ee" opacity="0.9" filter="url(#pdblur)"/>
<circle cx="142.15" cy="697.59" r="4.9" fill="#8cc0ee" opacity="0.9" filter="url(#pdblur)"/>
<circle cx="127.70" cy="722.55" r="4.9" fill="#8cc0ee" opacity="0.9" filter="url(#pdblur)"/>
<circle cx="121.13" cy="717.30" r="4.9" fill="#8cc0ee" opacity="0.9" filter="url(#pdblur)"/>
<circle cx="130.98" cy="713.36" r="4.9" fill="#8cc0ee" opacity="0.9" filter="url(#pdblur)"/>
<circle cx="135.58" cy="718.61" r="4.9" fill="#8cc0ee" opacity="0.9" filter="url(#pdblur)"/>
<circle cx="139.52" cy="717.30" r="4.9" fill="#8cc0ee" opacity="0.9" filter="url(#pdblur)"/>
<circle cx="142.81" cy="710.73" r="4.9" fill="#8cc0ee" opacity="0.9" filter="url(#pdblur)"/>
<circle cx="125.07" cy="712.70" r="4.9" fill="#8cc0ee" opacity="0.9" filter="url(#pdblur)"/>
<circle cx="119.81" cy="725.18" r="4.9" fill="#8cc0ee" opacity="0.9" filter="url(#pdblur)"/>
<circle cx="114.56" cy="723.87" r="4.9" fill="#8cc0ee" opacity="0.9" filter="url(#pdblur)"/>
<circle cx="105.36" cy="719.27" r="4.9" fill="#8cc0ee" opacity="0.9" filter="url(#pdblur)"/>
<circle cx="129.01" cy="718.61" r="4.9" fill="#8cc0ee" opacity="0.9" filter="url(#pdblur)"/>
<circle cx="136.89" cy="722.55" r="4.9" fill="#8cc0ee" opacity="0.9" filter="url(#pdblur)"/>
<circle cx="144.78" cy="708.10" r="4.9" fill="#8cc0ee" opacity="0.9" filter="url(#pdblur)"/>
<circle cx="132.95" cy="697.59" r="4.9" fill="#8cc0ee" opacity="0.9" filter="url(#pdblur)"/>
<circle cx="101.14" cy="673.80" r="3.35" fill="#fff" stroke="#4b0f6e" stroke-width="1.9"/>
<circle cx="88.39" cy="685.36" r="3.35" fill="#fff" stroke="#4b0f6e" stroke-width="1.9"/>
<circle cx="85.77" cy="695.21" r="3.35" fill="#fff" stroke="#4b0f6e" stroke-width="1.9"/>
<circle cx="138.58" cy="678.79" r="3.35" fill="#fff" stroke="#4b0f6e" stroke-width="1.9"/>
<circle cx="102.85" cy="707.56" r="3.35" fill="#fff" stroke="#4b0f6e" stroke-width="1.9"/>
<circle cx="96.28" cy="718.73" r="3.35" fill="#fff" stroke="#4b0f6e" stroke-width="1.9"/>
<circle cx="108.10" cy="717.81" r="3.35" fill="#fff" stroke="#4b0f6e" stroke-width="1.9"/>
<circle cx="117.30" cy="719.12" r="3.35" fill="#fff" stroke="#4b0f6e" stroke-width="1.9"/>
<circle cx="121.24" cy="709.93" r="3.35" fill="#fff" stroke="#4b0f6e" stroke-width="1.9"/>
<circle cx="130.44" cy="705.99" r="3.35" fill="#fff" stroke="#4b0f6e" stroke-width="1.9"/>
<circle cx="135.69" cy="699.42" r="3.35" fill="#fff" stroke="#4b0f6e" stroke-width="1.9"/>
<circle cx="140.29" cy="702.04" r="3.35" fill="#fff" stroke="#4b0f6e" stroke-width="1.9"/>
<circle cx="139.64" cy="692.85" r="3.35" fill="#fff" stroke="#4b0f6e" stroke-width="1.9"/>
<circle cx="143.58" cy="692.85" r="3.35" fill="#fff" stroke="#4b0f6e" stroke-width="1.9"/>
<circle cx="133.07" cy="715.18" r="3.35" fill="#fff" stroke="#4b0f6e" stroke-width="1.9"/>
<circle cx="131.75" cy="724.38" r="3.35" fill="#fff" stroke="#4b0f6e" stroke-width="1.9"/>
<circle cx="105.47" cy="723.72" r="3.35" fill="#fff" stroke="#4b0f6e" stroke-width="1.9"/>
<circle cx="115.99" cy="721.75" r="3.35" fill="#fff" stroke="#4b0f6e" stroke-width="1.9"/>
<circle cx="125.18" cy="715.18" r="3.35" fill="#fff" stroke="#4b0f6e" stroke-width="1.9"/>
<circle cx="127.81" cy="709.93" r="3.35" fill="#fff" stroke="#4b0f6e" stroke-width="1.9"/>
<circle cx="135.69" cy="709.93" r="3.35" fill="#fff" stroke="#4b0f6e" stroke-width="1.9"/>
<circle cx="138.32" cy="707.30" r="3.35" fill="#fff" stroke="#4b0f6e" stroke-width="1.9"/>
<circle cx="142.26" cy="699.42" r="3.35" fill="#fff" stroke="#4b0f6e" stroke-width="1.9"/>
<circle cx="137.01" cy="713.87" r="3.35" fill="#fff" stroke="#4b0f6e" stroke-width="1.9"/>
<circle cx="122.56" cy="720.44" r="3.35" fill="#fff" stroke="#4b0f6e" stroke-width="1.9"/>
<circle cx="113.36" cy="716.50" r="3.35" fill="#fff" stroke="#4b0f6e" stroke-width="1.9"/>
<circle cx="109.42" cy="721.75" r="3.35" fill="#fff" stroke="#4b0f6e" stroke-width="1.9"/>
<circle cx="100.22" cy="723.07" r="3.35" fill="#fff" stroke="#4b0f6e" stroke-width="1.9"/>
<circle cx="133.07" cy="703.36" r="3.35" fill="#fff" stroke="#4b0f6e" stroke-width="1.9"/>
<circle cx="140.95" cy="696.79" r="3.35" fill="#fff" stroke="#4b0f6e" stroke-width="1.9"/>
<circle cx="126.50" cy="721.75" r="3.35" fill="#fff" stroke="#4b0f6e" stroke-width="1.9"/>
<circle cx="119.93" cy="716.50" r="3.35" fill="#fff" stroke="#4b0f6e" stroke-width="1.9"/>
<circle cx="129.78" cy="712.56" r="3.35" fill="#fff" stroke="#4b0f6e" stroke-width="1.9"/>
<circle cx="134.38" cy="717.81" r="3.35" fill="#fff" stroke="#4b0f6e" stroke-width="1.9"/>
<circle cx="138.32" cy="716.50" r="3.35" fill="#fff" stroke="#4b0f6e" stroke-width="1.9"/>
<circle cx="141.61" cy="709.93" r="3.35" fill="#fff" stroke="#4b0f6e" stroke-width="1.9"/>
<circle cx="123.87" cy="711.90" r="3.35" fill="#fff" stroke="#4b0f6e" stroke-width="1.9"/>
<circle cx="118.61" cy="724.38" r="3.35" fill="#fff" stroke="#4b0f6e" stroke-width="1.9"/>
<circle cx="113.36" cy="723.07" r="3.35" fill="#fff" stroke="#4b0f6e" stroke-width="1.9"/>
<circle cx="104.16" cy="718.47" r="3.35" fill="#fff" stroke="#4b0f6e" stroke-width="1.9"/>
<circle cx="127.81" cy="717.81" r="3.35" fill="#fff" stroke="#4b0f6e" stroke-width="1.9"/>
<circle cx="135.69" cy="721.75" r="3.35" fill="#fff" stroke="#4b0f6e" stroke-width="1.9"/>
<circle cx="143.58" cy="707.30" r="3.35" fill="#fff" stroke="#4b0f6e" stroke-width="1.9"/>
<circle cx="131.75" cy="696.79" r="3.35" fill="#fff" stroke="#4b0f6e" stroke-width="1.9"/>
</g>
<rect x="64.4" y="632.4" width="209.79999999999998" height="160.20000000000005" fill="none" stroke="#111" stroke-width="1.3"/>
<line x1="64.40" y1="792.60" x2="64.40" y2="788.00" stroke="#111" stroke-width="1"/>
<text transform="translate(64.40,807.70) scale(1.03,1)" font-size="10.2" text-anchor="middle" font-weight="normal" fill="#111" letter-spacing="0" >100</text>
<line x1="90.62" y1="792.60" x2="90.62" y2="790.20" stroke="#111" stroke-width="1"/>
<line x1="116.85" y1="792.60" x2="116.85" y2="788.00" stroke="#111" stroke-width="1"/>
<text transform="translate(116.85,807.70) scale(1.03,1)" font-size="10.2" text-anchor="middle" font-weight="normal" fill="#111" letter-spacing="0" >125</text>
<line x1="143.07" y1="792.60" x2="143.07" y2="790.20" stroke="#111" stroke-width="1"/>
<line x1="169.30" y1="792.60" x2="169.30" y2="788.00" stroke="#111" stroke-width="1"/>
<text transform="translate(169.30,807.70) scale(1.03,1)" font-size="10.2" text-anchor="middle" font-weight="normal" fill="#111" letter-spacing="0" >150</text>
<line x1="195.52" y1="792.60" x2="195.52" y2="790.20" stroke="#111" stroke-width="1"/>
<line x1="221.75" y1="792.60" x2="221.75" y2="788.00" stroke="#111" stroke-width="1"/>
<text transform="translate(221.75,807.70) scale(1.03,1)" font-size="10.2" text-anchor="middle" font-weight="normal" fill="#111" letter-spacing="0" >175</text>
<line x1="247.97" y1="792.60" x2="247.97" y2="790.20" stroke="#111" stroke-width="1"/>
<line x1="274.20" y1="792.60" x2="274.20" y2="788.00" stroke="#111" stroke-width="1"/>
<text transform="translate(274.20,807.70) scale(1.03,1)" font-size="10.2" text-anchor="middle" font-weight="normal" fill="#111" letter-spacing="0" >200</text>
<line x1="64.40" y1="792.60" x2="69.00" y2="792.60" stroke="#111" stroke-width="1"/>
<text transform="translate(58.80,796.70) scale(1.03,1)" font-size="10.2" text-anchor="end" font-weight="normal" fill="#111" letter-spacing="0" >100</text>
<line x1="64.40" y1="772.58" x2="66.80" y2="772.58" stroke="#111" stroke-width="1"/>
<line x1="64.40" y1="752.55" x2="69.00" y2="752.55" stroke="#111" stroke-width="1"/>
<text transform="translate(58.80,756.65) scale(1.03,1)" font-size="10.2" text-anchor="end" font-weight="normal" fill="#111" letter-spacing="0" >125</text>
<line x1="64.40" y1="732.52" x2="66.80" y2="732.52" stroke="#111" stroke-width="1"/>
<line x1="64.40" y1="712.50" x2="69.00" y2="712.50" stroke="#111" stroke-width="1"/>
<text transform="translate(58.80,716.60) scale(1.03,1)" font-size="10.2" text-anchor="end" font-weight="normal" fill="#111" letter-spacing="0" >150</text>
<line x1="64.40" y1="692.48" x2="66.80" y2="692.48" stroke="#111" stroke-width="1"/>
<line x1="64.40" y1="672.45" x2="69.00" y2="672.45" stroke="#111" stroke-width="1"/>
<text transform="translate(58.80,676.55) scale(1.03,1)" font-size="10.2" text-anchor="end" font-weight="normal" fill="#111" letter-spacing="0" >175</text>
<line x1="64.40" y1="652.42" x2="66.80" y2="652.42" stroke="#111" stroke-width="1"/>
<line x1="64.40" y1="632.40" x2="69.00" y2="632.40" stroke="#111" stroke-width="1"/>
<text transform="translate(58.80,636.50) scale(1.03,1)" font-size="10.2" text-anchor="end" font-weight="normal" fill="#111" letter-spacing="0" >200</text>
<text transform="translate(84.80,646.00) scale(1.03,1)" font-size="10.2" text-anchor="start" font-weight="normal" fill="#111" letter-spacing="0.14" >Height = 0.9702 × Width + 3.351</text>
<text transform="translate(85.00,662.00) scale(1.03,1)" font-size="10.2" fill="#111"><tspan font-style="italic">R</tspan><tspan font-size="6.5" dy="-3.8">2</tspan><tspan dy="3.8"> = 0.883</tspan></text>
<circle cx="156.00" cy="765.60" r="1.9" fill="none" stroke="#6aaee6" stroke-width="0.8"/>
<circle cx="156.00" cy="778.40" r="1.9" fill="none" stroke="#4b0f6e" stroke-width="0.8"/>
<text transform="translate(162.50,769.10) scale(1.03,1)" font-size="10.2" text-anchor="start" font-weight="normal" fill="#111" letter-spacing="0" >AI predictions</text>
<text transform="translate(162.50,782.60) scale(1.03,1)" font-size="10.2" text-anchor="start" font-weight="normal" fill="#111" letter-spacing="0" >Manual measurements</text>
<text transform="translate(169.00,823.00) scale(1.03,1)" font-size="10.2" text-anchor="middle" font-weight="normal" fill="#111" letter-spacing="0" >Width (μm)</text>
<text transform="translate(31.50,714.00) rotate(-90) scale(1.03,1)" font-size="10.2" text-anchor="middle" fill="#111" letter-spacing="0">Height (μm)</text>
<rect x="194.3" y="601.3" width="109.39999999999998" height="13.900000000000091" fill="#fff" stroke="#222" stroke-width="0.9"/>
<text transform="translate(249.00,611.60) scale(1.03,1)" font-size="10.2" text-anchor="middle" font-weight="normal" fill="#111" letter-spacing="0" >Droplet size analysis</text>
<text transform="translate(21.40,587.70) scale(1.03,1)" font-size="15" text-anchor="start" font-weight="bold" fill="#000" letter-spacing="0" >d</text>
<defs>
<linearGradient id="petop" x1="0" y1="1" x2="0" y2="0"><stop offset="0" stop-color="#d8f3ec"/><stop offset="1" stop-color="#3aa78e"/></linearGradient>
<linearGradient id="pert" x1="0" y1="0" x2="1" y2="0"><stop offset="0" stop-color="#fff7e4"/><stop offset="1" stop-color="#e6bf5e"/></linearGradient>
<filter id="peblur" x="-50%" y="-50%" width="200%" height="200%"><feGaussianBlur stdDeviation="1.2"/></filter>
<filter id="pebblur" x="-20%" y="-20%" width="140%" height="140%"><feGaussianBlur stdDeviation="0.8"/></filter>
<clipPath id="peinclip"><rect x="423.1" y="669.5" width="60.5" height="49.60000000000002"/></clipPath>
</defs>
<rect x="440.90" y="631.00" width="8.70" height="1.40" fill="url(#petop)" stroke="#2e5a50" stroke-width="0.7"/>
<rect x="449.60" y="623.00" width="8.70" height="9.40" fill="url(#petop)" stroke="#2e5a50" stroke-width="0.7"/>
<rect x="458.30" y="616.90" width="8.80" height="15.50" fill="url(#petop)" stroke="#2e5a50" stroke-width="0.7"/>
<rect x="467.10" y="609.00" width="8.70" height="23.40" fill="url(#petop)" stroke="#2e5a50" stroke-width="0.7"/>
<rect x="475.80" y="596.60" width="8.70" height="35.80" fill="url(#petop)" stroke="#2e5a50" stroke-width="0.7"/>
<rect x="484.50" y="590.10" width="8.70" height="42.30" fill="url(#petop)" stroke="#2e5a50" stroke-width="0.7"/>
<rect x="493.20" y="592.40" width="8.80" height="40.00" fill="url(#petop)" stroke="#2e5a50" stroke-width="0.7"/>
<rect x="502.00" y="600.80" width="8.70" height="31.60" fill="url(#petop)" stroke="#2e5a50" stroke-width="0.7"/>
<rect x="510.70" y="602.90" width="8.70" height="29.50" fill="url(#petop)" stroke="#2e5a50" stroke-width="0.7"/>
<rect x="519.40" y="614.80" width="8.70" height="17.60" fill="url(#petop)" stroke="#2e5a50" stroke-width="0.7"/>
<rect x="528.10" y="620.00" width="8.80" height="12.40" fill="url(#petop)" stroke="#2e5a50" stroke-width="0.7"/>
<rect x="536.90" y="625.40" width="8.70" height="7.00" fill="url(#petop)" stroke="#2e5a50" stroke-width="0.7"/>
<rect x="545.60" y="628.20" width="8.70" height="4.20" fill="url(#petop)" stroke="#2e5a50" stroke-width="0.7"/>
<rect x="554.30" y="631.40" width="8.70" height="1.00" fill="url(#petop)" stroke="#2e5a50" stroke-width="0.7"/>
<rect x="432.20" y="631.60" width="8.70" height="0.80" fill="url(#petop)" stroke="#2e5a50" stroke-width="0.7"/>
<polyline points="406.00,632.39 407.00,632.38 408.00,632.38 409.00,632.38 410.00,632.37 411.00,632.37 412.00,632.36 413.00,632.35 414.00,632.35 415.00,632.34 416.00,632.33 417.00,632.31 418.00,632.30 419.00,632.28 420.00,632.26 421.00,632.24 422.00,632.22 423.00,632.19 424.00,632.15 425.00,632.11 426.00,632.07 427.00,632.02 428.00,631.97 429.00,631.91 430.00,631.84 431.00,631.76 432.00,631.67 433.00,631.57 434.00,631.46 435.00,631.34 436.00,631.20 437.00,631.05 438.00,630.89 439.00,630.70 440.00,630.50 441.00,630.28 442.00,630.03 443.00,629.77 444.00,629.48 445.00,629.16 446.00,628.82 447.00,628.45 448.00,628.05 449.00,627.62 450.00,627.16 451.00,626.67 452.00,626.14 453.00,625.58 454.00,624.98 455.00,624.34 456.00,623.67 457.00,622.95 458.00,622.21 459.00,621.42 460.00,620.60 461.00,619.74 462.00,618.85 463.00,617.92 464.00,616.96 465.00,615.97 466.00,614.96 467.00,613.91 468.00,612.84 469.00,611.76 470.00,610.65 471.00,609.54 472.00,608.41 473.00,607.28 474.00,606.15 475.00,605.02 476.00,603.91 477.00,602.80 478.00,601.72 479.00,600.66 480.00,599.63 481.00,598.63 482.00,597.67 483.00,596.76 484.00,595.90 485.00,595.09 486.00,594.34 487.00,593.65 488.00,593.03 489.00,592.48 490.00,592.00 491.00,591.60 492.00,591.28 493.00,591.04 494.00,590.88 495.00,590.81 496.00,590.82 497.00,590.91 498.00,591.08 499.00,591.34 500.00,591.68 501.00,592.09 502.00,592.58 503.00,593.15 504.00,593.78 505.00,594.48 506.00,595.24 507.00,596.06 508.00,596.94 509.00,597.86 510.00,598.83 511.00,599.83 512.00,600.87 513.00,601.93 514.00,603.02 515.00,604.13 516.00,605.25 517.00,606.38 518.00,607.51 519.00,608.64 520.00,609.76 521.00,610.88 522.00,611.98 523.00,613.06 524.00,614.12 525.00,615.16 526.00,616.17 527.00,617.16 528.00,618.11 529.00,619.03 530.00,619.92 531.00,620.77 532.00,621.58 533.00,622.36 534.00,623.10 535.00,623.80 536.00,624.47 537.00,625.10 538.00,625.69 539.00,626.25 540.00,626.77 541.00,627.26 542.00,627.71 543.00,628.14 544.00,628.53 545.00,628.89 546.00,629.23 547.00,629.54 548.00,629.82 549.00,630.08 550.00,630.32 551.00,630.54 552.00,630.74 553.00,630.92 554.00,631.08 555.00,631.23 556.00,631.36 557.00,631.48 558.00,631.59 559.00,631.69 560.00,631.77 561.00,631.85 562.00,631.92 563.00,631.98 564.00,632.03 565.00,632.08 566.00,632.12 567.00,632.16 568.00,632.19 569.00,632.22 570.00,632.25 571.00,632.27 572.00,632.29 573.00,632.30 574.00,632.32 575.00,632.33 576.00,632.34 577.00,632.35 578.00,632.36 579.00,632.36 580.00,632.37 581.00,632.37 582.00,632.38 583.00,632.38 584.00,632.38 585.00,632.39 586.00,632.39 587.00,632.39 588.00,632.39 589.00,632.39 590.00,632.39 591.00,632.40 592.00,632.40 593.00,632.40 594.00,632.40 595.00,632.40 596.00,632.40 597.00,632.40 598.00,632.40 599.00,632.40 600.00,632.40 601.00,632.40 602.00,632.40 603.00,632.40 604.00,632.40 605.00,632.40 606.00,632.40 607.00,632.40 608.00,632.40 609.00,632.40 610.00,632.40" fill="none" stroke="#2f8f7b" stroke-width="0.9"/>
<rect x="615.60" y="685.40" width="13.10" height="6.90" fill="url(#pert)" stroke="#4e4128" stroke-width="0.7"/>
<rect x="615.60" y="692.30" width="15.00" height="6.60" fill="url(#pert)" stroke="#4e4128" stroke-width="0.7"/>
<rect x="615.60" y="698.90" width="21.90" height="6.90" fill="url(#pert)" stroke="#4e4128" stroke-width="0.7"/>
<rect x="615.60" y="705.80" width="33.70" height="6.70" fill="url(#pert)" stroke="#4e4128" stroke-width="0.7"/>
<rect x="615.60" y="712.50" width="45.90" height="7.00" fill="url(#pert)" stroke="#4e4128" stroke-width="0.7"/>
<rect x="615.60" y="719.50" width="55.30" height="6.50" fill="url(#pert)" stroke="#4e4128" stroke-width="0.7"/>
<rect x="615.60" y="726.00" width="56.70" height="6.60" fill="url(#pert)" stroke="#4e4128" stroke-width="0.7"/>
<rect x="615.60" y="732.60" width="52.10" height="6.90" fill="url(#pert)" stroke="#4e4128" stroke-width="0.7"/>
<rect x="615.60" y="739.50" width="21.90" height="6.70" fill="url(#pert)" stroke="#4e4128" stroke-width="0.7"/>
<rect x="615.60" y="746.20" width="23.00" height="6.60" fill="url(#pert)" stroke="#4e4128" stroke-width="0.7"/>
<rect x="615.60" y="752.80" width="11.60" height="6.60" fill="url(#pert)" stroke="#4e4128" stroke-width="0.7"/>
<rect x="615.60" y="759.40" width="3.50" height="6.70" fill="url(#pert)" stroke="#4e4128" stroke-width="0.7"/>
<rect x="615.60" y="665.40" width="1.20" height="6.70" fill="url(#pert)" stroke="#4e4128" stroke-width="0.7"/>
<rect x="615.60" y="672.10" width="1.20" height="6.70" fill="url(#pert)" stroke="#4e4128" stroke-width="0.7"/>
<rect x="615.60" y="678.80" width="1.20" height="6.60" fill="url(#pert)" stroke="#4e4128" stroke-width="0.7"/>
<polyline points="615.63,655.00 615.64,656.00 615.65,657.00 615.66,658.00 615.67,659.00 615.69,660.00 615.71,661.00 615.73,662.00 615.76,663.00 615.79,664.00 615.83,665.00 615.88,666.00 615.93,667.00 616.00,668.00 616.08,669.00 616.17,670.00 616.28,671.00 616.40,672.00 616.55,673.00 616.71,674.00 616.90,675.00 617.12,676.00 617.37,677.00 617.65,678.00 617.97,679.00 618.34,680.00 618.74,681.00 619.20,682.00 619.71,683.00 620.27,684.00 620.90,685.00 621.59,686.00 622.35,687.00 623.18,688.00 624.08,689.00 625.06,690.00 626.12,691.00 627.26,692.00 628.48,693.00 629.79,694.00 631.17,695.00 632.63,696.00 634.17,697.00 635.79,698.00 637.47,699.00 639.21,700.00 641.01,701.00 642.86,702.00 644.75,703.00 646.66,704.00 648.60,705.00 650.54,706.00 652.47,707.00 654.38,708.00 656.26,709.00 658.10,710.00 659.87,711.00 661.56,712.00 663.16,713.00 664.66,714.00 666.04,715.00 667.29,716.00 668.40,717.00 669.36,718.00 670.16,719.00 670.78,720.00 671.24,721.00 671.51,722.00 671.60,723.00 671.51,724.00 671.24,725.00 670.78,726.00 670.16,727.00 669.36,728.00 668.40,729.00 667.29,730.00 666.04,731.00 664.66,732.00 663.16,733.00 661.56,734.00 659.87,735.00 658.10,736.00 656.26,737.00 654.38,738.00 652.47,739.00 650.54,740.00 648.60,741.00 646.66,742.00 644.75,743.00 642.86,744.00 641.01,745.00 639.21,746.00 637.47,747.00 635.79,748.00 634.17,749.00 632.63,750.00 631.17,751.00 629.79,752.00 628.48,753.00 627.26,754.00 626.12,755.00 625.06,756.00 624.08,757.00 623.18,758.00 622.35,759.00 621.59,760.00 620.90,761.00 620.27,762.00 619.71,763.00 619.20,764.00 618.74,765.00 618.34,766.00 617.97,767.00 617.65,768.00 617.37,769.00 617.12,770.00 616.90,771.00 616.71,772.00 616.55,773.00 616.40,774.00 616.28,775.00 616.17,776.00 616.08,777.00 616.00,778.00 615.93,779.00 615.88,780.00 615.83,781.00 615.79,782.00 615.76,783.00 615.73,784.00 615.71,785.00 615.69,786.00 615.67,787.00 615.66,788.00 615.65,789.00 615.64,790.00 615.63,791.00 615.62,792.00" fill="none" stroke="#9c8640" stroke-width="0.9"/>
<rect x="406.0" y="632.4" width="209.60000000000002" height="160.20000000000005" fill="#fff"/>
<line x1="446.17" y1="761.10" x2="562.85" y2="674.11" stroke="#3c6ea8" stroke-width="1.1"/>
<circle cx="503.65" cy="723.02" r="2.0" fill="none" stroke="#e88a5a" stroke-width="0.85"/>
<circle cx="521.71" cy="705.24" r="2.0" fill="none" stroke="#e88a5a" stroke-width="0.85"/>
<circle cx="500.65" cy="721.70" r="2.0" fill="none" stroke="#e88a5a" stroke-width="0.85"/>
<circle cx="515.74" cy="717.77" r="2.0" fill="none" stroke="#e88a5a" stroke-width="0.85"/>
<circle cx="513.26" cy="710.72" r="2.0" fill="none" stroke="#e88a5a" stroke-width="0.85"/>
<circle cx="512.84" cy="709.16" r="2.0" fill="none" stroke="#e88a5a" stroke-width="0.85"/>
<circle cx="478.80" cy="738.52" r="2.0" fill="none" stroke="#e88a5a" stroke-width="0.85"/>
<circle cx="491.90" cy="730.91" r="2.0" fill="none" stroke="#e88a5a" stroke-width="0.85"/>
<circle cx="536.20" cy="696.86" r="2.0" fill="none" stroke="#e88a5a" stroke-width="0.85"/>
<circle cx="521.34" cy="701.52" r="2.0" fill="none" stroke="#e88a5a" stroke-width="0.85"/>
<circle cx="474.38" cy="746.80" r="2.0" fill="none" stroke="#e88a5a" stroke-width="0.85"/>
<circle cx="543.30" cy="685.32" r="2.0" fill="none" stroke="#e88a5a" stroke-width="0.85"/>
<circle cx="509.22" cy="713.90" r="2.0" fill="none" stroke="#e88a5a" stroke-width="0.85"/>
<circle cx="546.33" cy="692.65" r="2.0" fill="none" stroke="#e88a5a" stroke-width="0.85"/>
<circle cx="499.91" cy="719.89" r="2.0" fill="none" stroke="#e88a5a" stroke-width="0.85"/>
<circle cx="484.07" cy="738.46" r="2.0" fill="none" stroke="#e88a5a" stroke-width="0.85"/>
<circle cx="483.85" cy="737.88" r="2.0" fill="none" stroke="#e88a5a" stroke-width="0.85"/>
<circle cx="451.65" cy="752.10" r="2.0" fill="none" stroke="#e88a5a" stroke-width="0.85"/>
<circle cx="535.71" cy="695.74" r="2.0" fill="none" stroke="#e88a5a" stroke-width="0.85"/>
<circle cx="523.51" cy="707.42" r="2.0" fill="none" stroke="#e88a5a" stroke-width="0.85"/>
<circle cx="509.54" cy="707.57" r="2.0" fill="none" stroke="#e88a5a" stroke-width="0.85"/>
<circle cx="497.38" cy="722.55" r="2.0" fill="none" stroke="#e88a5a" stroke-width="0.85"/>
<circle cx="508.93" cy="715.47" r="2.0" fill="none" stroke="#e88a5a" stroke-width="0.85"/>
<circle cx="488.19" cy="729.60" r="2.0" fill="none" stroke="#e88a5a" stroke-width="0.85"/>
<circle cx="526.40" cy="701.49" r="2.0" fill="none" stroke="#e88a5a" stroke-width="0.85"/>
<circle cx="494.28" cy="720.16" r="2.0" fill="none" stroke="#e88a5a" stroke-width="0.85"/>
<circle cx="537.76" cy="692.09" r="2.0" fill="none" stroke="#e88a5a" stroke-width="0.85"/>
<circle cx="456.32" cy="755.08" r="2.0" fill="none" stroke="#e88a5a" stroke-width="0.85"/>
<circle cx="513.94" cy="711.11" r="2.0" fill="none" stroke="#e88a5a" stroke-width="0.85"/>
<circle cx="510.36" cy="713.64" r="2.0" fill="none" stroke="#e88a5a" stroke-width="0.85"/>
<circle cx="504.73" cy="722.44" r="2.0" fill="none" stroke="#e88a5a" stroke-width="0.85"/>
<circle cx="495.16" cy="731.33" r="2.0" fill="none" stroke="#e88a5a" stroke-width="0.85"/>
<circle cx="495.07" cy="730.88" r="2.0" fill="none" stroke="#e88a5a" stroke-width="0.85"/>
<circle cx="487.68" cy="735.45" r="2.0" fill="none" stroke="#e88a5a" stroke-width="0.85"/>
<circle cx="498.11" cy="723.16" r="2.0" fill="none" stroke="#e88a5a" stroke-width="0.85"/>
<circle cx="518.34" cy="713.35" r="2.0" fill="none" stroke="#e88a5a" stroke-width="0.85"/>
<circle cx="490.58" cy="729.71" r="2.0" fill="none" stroke="#e88a5a" stroke-width="0.85"/>
<circle cx="530.33" cy="698.71" r="2.0" fill="none" stroke="#e88a5a" stroke-width="0.85"/>
<circle cx="528.83" cy="698.45" r="2.0" fill="none" stroke="#e88a5a" stroke-width="0.85"/>
<circle cx="517.34" cy="712.86" r="2.0" fill="none" stroke="#e88a5a" stroke-width="0.85"/>
<circle cx="527.61" cy="700.03" r="2.0" fill="none" stroke="#e88a5a" stroke-width="0.85"/>
<circle cx="500.29" cy="718.84" r="2.0" fill="none" stroke="#e88a5a" stroke-width="0.85"/>
<circle cx="508.56" cy="716.33" r="2.0" fill="none" stroke="#e88a5a" stroke-width="0.85"/>
<circle cx="485.39" cy="734.38" r="2.0" fill="none" stroke="#e88a5a" stroke-width="0.85"/>
<circle cx="519.30" cy="708.84" r="2.0" fill="none" stroke="#e88a5a" stroke-width="0.85"/>
<circle cx="520.17" cy="701.86" r="2.0" fill="none" stroke="#e88a5a" stroke-width="0.85"/>
<circle cx="504.13" cy="719.98" r="2.0" fill="none" stroke="#e88a5a" stroke-width="0.85"/>
<circle cx="514.15" cy="711.28" r="2.0" fill="none" stroke="#e88a5a" stroke-width="0.85"/>
<circle cx="519.24" cy="705.10" r="2.0" fill="none" stroke="#e88a5a" stroke-width="0.85"/>
<circle cx="481.14" cy="739.89" r="2.0" fill="none" stroke="#e88a5a" stroke-width="0.85"/>
<circle cx="535.19" cy="689.22" r="2.0" fill="none" stroke="#e88a5a" stroke-width="0.85"/>
<circle cx="482.63" cy="739.85" r="2.0" fill="none" stroke="#e88a5a" stroke-width="0.85"/>
<circle cx="471.32" cy="750.15" r="2.0" fill="none" stroke="#e88a5a" stroke-width="0.85"/>
<circle cx="502.17" cy="717.76" r="2.0" fill="none" stroke="#e88a5a" stroke-width="0.85"/>
<circle cx="537.53" cy="692.73" r="2.0" fill="none" stroke="#e88a5a" stroke-width="0.85"/>
<circle cx="515.95" cy="714.68" r="2.0" fill="none" stroke="#e88a5a" stroke-width="0.85"/>
<circle cx="461.66" cy="756.25" r="2.0" fill="none" stroke="#e88a5a" stroke-width="0.85"/>
<circle cx="528.94" cy="700.93" r="2.0" fill="none" stroke="#e88a5a" stroke-width="0.85"/>
<circle cx="491.05" cy="725.03" r="2.0" fill="none" stroke="#e88a5a" stroke-width="0.85"/>
<circle cx="541.78" cy="690.65" r="2.0" fill="none" stroke="#e88a5a" stroke-width="0.85"/>
<circle cx="501.00" cy="712.68" r="2.0" fill="none" stroke="#e88a5a" stroke-width="0.85"/>
<circle cx="544.78" cy="696.71" r="2.0" fill="none" stroke="#e88a5a" stroke-width="0.85"/>
<circle cx="505.73" cy="711.22" r="2.0" fill="none" stroke="#e88a5a" stroke-width="0.85"/>
<circle cx="484.89" cy="737.42" r="2.0" fill="none" stroke="#e88a5a" stroke-width="0.85"/>
<circle cx="483.07" cy="734.43" r="2.0" fill="none" stroke="#e88a5a" stroke-width="0.85"/>
<circle cx="507.61" cy="718.02" r="2.0" fill="none" stroke="#e88a5a" stroke-width="0.85"/>
<circle cx="540.06" cy="685.05" r="2.0" fill="none" stroke="#e88a5a" stroke-width="0.85"/>
<circle cx="542.11" cy="694.55" r="2.0" fill="none" stroke="#e88a5a" stroke-width="0.85"/>
<circle cx="495.90" cy="725.38" r="2.0" fill="none" stroke="#e88a5a" stroke-width="0.85"/>
<circle cx="508.22" cy="712.91" r="2.0" fill="none" stroke="#e88a5a" stroke-width="0.85"/>
<circle cx="476.00" cy="740.56" r="2.0" fill="none" stroke="#e88a5a" stroke-width="0.85"/>
<circle cx="483.37" cy="736.79" r="2.0" fill="none" stroke="#e88a5a" stroke-width="0.85"/>
<circle cx="535.81" cy="702.24" r="2.0" fill="none" stroke="#e88a5a" stroke-width="0.85"/>
<circle cx="468.51" cy="744.49" r="2.0" fill="none" stroke="#e88a5a" stroke-width="0.85"/>
<circle cx="531.27" cy="695.34" r="2.0" fill="none" stroke="#e88a5a" stroke-width="0.85"/>
<circle cx="534.57" cy="693.67" r="2.0" fill="none" stroke="#e88a5a" stroke-width="0.85"/>
<circle cx="512.20" cy="719.92" r="2.0" fill="none" stroke="#e88a5a" stroke-width="0.85"/>
<circle cx="516.36" cy="708.84" r="2.0" fill="none" stroke="#e88a5a" stroke-width="0.85"/>
<circle cx="501.94" cy="724.59" r="2.0" fill="none" stroke="#e88a5a" stroke-width="0.85"/>
<circle cx="511.13" cy="712.38" r="2.0" fill="none" stroke="#e88a5a" stroke-width="0.85"/>
<circle cx="461.15" cy="750.97" r="2.0" fill="none" stroke="#e88a5a" stroke-width="0.85"/>
<circle cx="547.26" cy="685.75" r="2.0" fill="none" stroke="#e88a5a" stroke-width="0.85"/>
<circle cx="480.52" cy="737.89" r="2.0" fill="none" stroke="#e88a5a" stroke-width="0.85"/>
<circle cx="484.11" cy="737.08" r="2.0" fill="none" stroke="#e88a5a" stroke-width="0.85"/>
<circle cx="467.88" cy="750.21" r="2.0" fill="none" stroke="#e88a5a" stroke-width="0.85"/>
<circle cx="461.06" cy="757.02" r="2.0" fill="none" stroke="#e88a5a" stroke-width="0.85"/>
<circle cx="456.61" cy="756.53" r="2.0" fill="none" stroke="#e88a5a" stroke-width="0.85"/>
<circle cx="486.34" cy="737.75" r="2.0" fill="none" stroke="#e88a5a" stroke-width="0.85"/>
<circle cx="529.68" cy="704.16" r="2.0" fill="none" stroke="#e88a5a" stroke-width="0.85"/>
<circle cx="479.25" cy="735.88" r="2.0" fill="none" stroke="#e88a5a" stroke-width="0.85"/>
<circle cx="519.73" cy="712.72" r="2.0" fill="none" stroke="#e88a5a" stroke-width="0.85"/>
<circle cx="473.35" cy="738.93" r="2.0" fill="none" stroke="#e88a5a" stroke-width="0.85"/>
<circle cx="518.95" cy="704.10" r="2.0" fill="none" stroke="#e88a5a" stroke-width="0.85"/>
<circle cx="537.64" cy="692.13" r="2.0" fill="none" stroke="#e88a5a" stroke-width="0.85"/>
<circle cx="465.04" cy="742.00" r="2.0" fill="none" stroke="#e88a5a" stroke-width="0.85"/>
<circle cx="497.23" cy="719.62" r="2.0" fill="none" stroke="#e88a5a" stroke-width="0.85"/>
<circle cx="530.90" cy="703.36" r="2.0" fill="none" stroke="#e88a5a" stroke-width="0.85"/>
<circle cx="458.75" cy="756.00" r="2.0" fill="none" stroke="#e88a5a" stroke-width="0.85"/>
<circle cx="467.08" cy="742.31" r="2.0" fill="none" stroke="#e88a5a" stroke-width="0.85"/>
<circle cx="463.06" cy="746.34" r="2.0" fill="none" stroke="#e88a5a" stroke-width="0.85"/>
<circle cx="508.75" cy="715.01" r="2.0" fill="none" stroke="#e88a5a" stroke-width="0.85"/>
<circle cx="537.72" cy="693.52" r="2.0" fill="none" stroke="#e88a5a" stroke-width="0.85"/>
<circle cx="503.64" cy="713.72" r="2.0" fill="none" stroke="#e88a5a" stroke-width="0.85"/>
<circle cx="529.39" cy="695.01" r="2.0" fill="none" stroke="#e88a5a" stroke-width="0.85"/>
<circle cx="451.15" cy="758.11" r="2.0" fill="none" stroke="#e88a5a" stroke-width="0.85"/>
<circle cx="493.29" cy="733.35" r="2.0" fill="none" stroke="#e88a5a" stroke-width="0.85"/>
<circle cx="524.40" cy="704.28" r="2.0" fill="none" stroke="#e88a5a" stroke-width="0.85"/>
<circle cx="517.81" cy="707.41" r="2.0" fill="none" stroke="#e88a5a" stroke-width="0.85"/>
<circle cx="507.14" cy="719.33" r="2.0" fill="none" stroke="#e88a5a" stroke-width="0.85"/>
<circle cx="473.84" cy="746.52" r="2.0" fill="none" stroke="#e88a5a" stroke-width="0.85"/>
<circle cx="485.75" cy="737.11" r="2.0" fill="none" stroke="#e88a5a" stroke-width="0.85"/>
<circle cx="484.01" cy="735.40" r="2.0" fill="none" stroke="#e88a5a" stroke-width="0.85"/>
<circle cx="547.10" cy="686.09" r="2.0" fill="none" stroke="#e88a5a" stroke-width="0.85"/>
<circle cx="524.24" cy="700.68" r="2.0" fill="none" stroke="#e88a5a" stroke-width="0.85"/>
<circle cx="528.62" cy="702.90" r="2.0" fill="none" stroke="#e88a5a" stroke-width="0.85"/>
<circle cx="513.66" cy="716.13" r="2.0" fill="none" stroke="#e88a5a" stroke-width="0.85"/>
<circle cx="505.20" cy="716.69" r="2.0" fill="none" stroke="#e88a5a" stroke-width="0.85"/>
<circle cx="522.90" cy="707.36" r="2.0" fill="none" stroke="#e88a5a" stroke-width="0.85"/>
<circle cx="521.35" cy="704.87" r="2.0" fill="none" stroke="#e88a5a" stroke-width="0.85"/>
<circle cx="507.85" cy="713.26" r="2.0" fill="none" stroke="#e88a5a" stroke-width="0.85"/>
<circle cx="472.05" cy="746.44" r="2.0" fill="none" stroke="#e88a5a" stroke-width="0.85"/>
<circle cx="519.97" cy="716.37" r="2.0" fill="none" stroke="#e88a5a" stroke-width="0.85"/>
<circle cx="535.00" cy="698.65" r="2.0" fill="none" stroke="#e88a5a" stroke-width="0.85"/>
<circle cx="450.86" cy="760.25" r="2.0" fill="none" stroke="#e88a5a" stroke-width="0.85"/>
<circle cx="487.30" cy="729.71" r="2.0" fill="none" stroke="#e88a5a" stroke-width="0.85"/>
<circle cx="526.95" cy="698.58" r="2.0" fill="none" stroke="#e88a5a" stroke-width="0.85"/>
<circle cx="548.94" cy="690.90" r="2.0" fill="none" stroke="#e88a5a" stroke-width="0.85"/>
<circle cx="533.07" cy="696.67" r="2.0" fill="none" stroke="#e88a5a" stroke-width="0.85"/>
<circle cx="474.81" cy="742.41" r="2.0" fill="none" stroke="#e88a5a" stroke-width="0.85"/>
<circle cx="513.43" cy="715.18" r="2.0" fill="none" stroke="#e88a5a" stroke-width="0.85"/>
<circle cx="523.87" cy="705.33" r="2.0" fill="none" stroke="#e88a5a" stroke-width="0.85"/>
<circle cx="472.30" cy="743.88" r="2.0" fill="none" stroke="#e88a5a" stroke-width="0.85"/>
<circle cx="465.81" cy="745.69" r="2.0" fill="none" stroke="#e88a5a" stroke-width="0.85"/>
<circle cx="474.72" cy="743.23" r="2.0" fill="none" stroke="#e88a5a" stroke-width="0.85"/>
<circle cx="519.91" cy="701.75" r="2.0" fill="none" stroke="#e88a5a" stroke-width="0.85"/>
<circle cx="536.16" cy="701.73" r="2.0" fill="none" stroke="#e88a5a" stroke-width="0.85"/>
<circle cx="491.40" cy="728.65" r="2.0" fill="none" stroke="#e88a5a" stroke-width="0.85"/>
<circle cx="533.00" cy="699.10" r="2.0" fill="none" stroke="#e88a5a" stroke-width="0.85"/>
<circle cx="484.65" cy="738.72" r="2.0" fill="none" stroke="#e88a5a" stroke-width="0.85"/>
<circle cx="482.44" cy="738.02" r="2.0" fill="none" stroke="#e88a5a" stroke-width="0.85"/>
<circle cx="497.74" cy="722.38" r="2.0" fill="none" stroke="#e88a5a" stroke-width="0.85"/>
<circle cx="528.35" cy="704.77" r="2.0" fill="none" stroke="#e88a5a" stroke-width="0.85"/>
<circle cx="476.36" cy="736.47" r="2.0" fill="none" stroke="#e88a5a" stroke-width="0.85"/>
<circle cx="535.24" cy="690.31" r="2.0" fill="none" stroke="#e88a5a" stroke-width="0.85"/>
<circle cx="543.53" cy="684.11" r="2.0" fill="none" stroke="#e88a5a" stroke-width="0.85"/>
<circle cx="526.77" cy="701.91" r="2.0" fill="none" stroke="#e88a5a" stroke-width="0.85"/>
<circle cx="480.19" cy="740.90" r="2.0" fill="none" stroke="#e88a5a" stroke-width="0.85"/>
<circle cx="524.92" cy="709.41" r="2.0" fill="none" stroke="#e88a5a" stroke-width="0.85"/>
<circle cx="486.05" cy="736.81" r="2.0" fill="none" stroke="#e88a5a" stroke-width="0.85"/>
<circle cx="498.55" cy="726.91" r="2.0" fill="none" stroke="#e88a5a" stroke-width="0.85"/>
<circle cx="528.12" cy="703.38" r="2.0" fill="none" stroke="#e88a5a" stroke-width="0.85"/>
<circle cx="493.34" cy="728.69" r="2.0" fill="none" stroke="#e88a5a" stroke-width="0.85"/>
<circle cx="488.72" cy="731.58" r="2.0" fill="none" stroke="#e88a5a" stroke-width="0.85"/>
<circle cx="489.53" cy="727.56" r="2.0" fill="none" stroke="#e88a5a" stroke-width="0.85"/>
<circle cx="514.99" cy="715.01" r="2.0" fill="none" stroke="#e88a5a" stroke-width="0.85"/>
<circle cx="482.57" cy="738.36" r="2.0" fill="none" stroke="#e88a5a" stroke-width="0.85"/>
<circle cx="455.47" cy="754.31" r="2.0" fill="none" stroke="#e88a5a" stroke-width="0.85"/>
<circle cx="499.97" cy="727.05" r="2.0" fill="none" stroke="#e88a5a" stroke-width="0.85"/>
<circle cx="487.86" cy="728.63" r="2.0" fill="none" stroke="#e88a5a" stroke-width="0.85"/>
<circle cx="536.91" cy="689.92" r="2.0" fill="none" stroke="#e88a5a" stroke-width="0.85"/>
<circle cx="526.41" cy="701.08" r="2.0" fill="none" stroke="#e88a5a" stroke-width="0.85"/>
<circle cx="482.24" cy="739.36" r="2.0" fill="none" stroke="#e88a5a" stroke-width="0.85"/>
<circle cx="515.36" cy="715.24" r="2.0" fill="none" stroke="#e88a5a" stroke-width="0.85"/>
<circle cx="475.92" cy="733.77" r="2.0" fill="none" stroke="#e88a5a" stroke-width="0.85"/>
<circle cx="459.94" cy="750.72" r="2.0" fill="none" stroke="#e88a5a" stroke-width="0.85"/>
<circle cx="467.68" cy="752.46" r="2.0" fill="none" stroke="#e88a5a" stroke-width="0.85"/>
<circle cx="523.82" cy="701.59" r="2.0" fill="none" stroke="#e88a5a" stroke-width="0.85"/>
<circle cx="464.61" cy="745.96" r="2.0" fill="none" stroke="#e88a5a" stroke-width="0.85"/>
<circle cx="501.97" cy="717.34" r="2.0" fill="none" stroke="#e88a5a" stroke-width="0.85"/>
<circle cx="504.28" cy="715.92" r="2.0" fill="none" stroke="#e88a5a" stroke-width="0.85"/>
<circle cx="539.38" cy="691.30" r="2.0" fill="none" stroke="#e88a5a" stroke-width="0.85"/>
<circle cx="520.37" cy="708.06" r="2.0" fill="none" stroke="#e88a5a" stroke-width="0.85"/>
<circle cx="471.28" cy="746.26" r="2.0" fill="none" stroke="#e88a5a" stroke-width="0.85"/>
<circle cx="491.75" cy="731.29" r="2.0" fill="none" stroke="#e88a5a" stroke-width="0.85"/>
<circle cx="468.53" cy="744.94" r="2.0" fill="none" stroke="#e88a5a" stroke-width="0.85"/>
<circle cx="538.12" cy="693.49" r="2.0" fill="none" stroke="#e88a5a" stroke-width="0.85"/>
<circle cx="471.56" cy="742.97" r="2.0" fill="none" stroke="#e88a5a" stroke-width="0.85"/>
<circle cx="468.12" cy="746.87" r="2.0" fill="none" stroke="#e88a5a" stroke-width="0.85"/>
<circle cx="513.96" cy="711.81" r="2.0" fill="none" stroke="#e88a5a" stroke-width="0.85"/>
<circle cx="505.86" cy="709.48" r="2.0" fill="none" stroke="#e88a5a" stroke-width="0.85"/>
<circle cx="528.79" cy="702.70" r="2.0" fill="none" stroke="#e88a5a" stroke-width="0.85"/>
<circle cx="519.55" cy="706.26" r="2.0" fill="none" stroke="#e88a5a" stroke-width="0.85"/>
<circle cx="456.41" cy="763.48" r="2.0" fill="none" stroke="#e88a5a" stroke-width="0.85"/>
<circle cx="536.71" cy="696.88" r="2.0" fill="none" stroke="#e88a5a" stroke-width="0.85"/>
<circle cx="528.99" cy="694.48" r="2.0" fill="none" stroke="#e88a5a" stroke-width="0.85"/>
<circle cx="531.47" cy="701.37" r="2.0" fill="none" stroke="#e88a5a" stroke-width="0.85"/>
<circle cx="476.34" cy="733.62" r="2.0" fill="none" stroke="#e88a5a" stroke-width="0.85"/>
<circle cx="514.86" cy="714.22" r="2.0" fill="none" stroke="#e88a5a" stroke-width="0.85"/>
<circle cx="488.31" cy="730.55" r="2.0" fill="none" stroke="#e88a5a" stroke-width="0.85"/>
<circle cx="456.42" cy="753.78" r="2.0" fill="none" stroke="#e88a5a" stroke-width="0.85"/>
<circle cx="519.36" cy="705.33" r="2.0" fill="none" stroke="#e88a5a" stroke-width="0.85"/>
<circle cx="491.28" cy="730.54" r="2.0" fill="none" stroke="#e88a5a" stroke-width="0.85"/>
<circle cx="525.22" cy="705.97" r="2.0" fill="none" stroke="#e88a5a" stroke-width="0.85"/>
<circle cx="466.81" cy="741.60" r="2.0" fill="none" stroke="#e88a5a" stroke-width="0.85"/>
<circle cx="486.10" cy="736.15" r="2.0" fill="none" stroke="#e88a5a" stroke-width="0.85"/>
<circle cx="508.95" cy="715.30" r="2.0" fill="none" stroke="#e88a5a" stroke-width="0.85"/>
<circle cx="527.86" cy="700.96" r="2.0" fill="none" stroke="#e88a5a" stroke-width="0.85"/>
<circle cx="495.12" cy="724.73" r="2.0" fill="none" stroke="#e88a5a" stroke-width="0.85"/>
<circle cx="489.42" cy="727.32" r="2.0" fill="none" stroke="#e88a5a" stroke-width="0.85"/>
<circle cx="451.30" cy="756.45" r="2.0" fill="none" stroke="#e88a5a" stroke-width="0.85"/>
<circle cx="562.93" cy="665.71" r="2.0" fill="none" stroke="#e88a5a" stroke-width="0.85"/>
<circle cx="546.33" cy="674.38" r="2.0" fill="none" stroke="#e88a5a" stroke-width="0.85"/>
<circle cx="548.08" cy="672.38" r="2.0" fill="none" stroke="#e88a5a" stroke-width="0.85"/>
<circle cx="546.33" cy="691.74" r="2.0" fill="none" stroke="#e88a5a" stroke-width="0.85"/>
<circle cx="547.21" cy="694.41" r="2.0" fill="none" stroke="#e88a5a" stroke-width="0.85"/>
<circle cx="503.05" cy="722.42" r="2.0" fill="none" stroke="#4b0f6e" stroke-width="0.85"/>
<circle cx="521.11" cy="704.64" r="2.0" fill="none" stroke="#4b0f6e" stroke-width="0.85"/>
<circle cx="500.05" cy="721.10" r="2.0" fill="none" stroke="#4b0f6e" stroke-width="0.85"/>
<circle cx="515.14" cy="717.17" r="2.0" fill="none" stroke="#4b0f6e" stroke-width="0.85"/>
<circle cx="512.66" cy="710.12" r="2.0" fill="none" stroke="#4b0f6e" stroke-width="0.85"/>
<circle cx="512.24" cy="708.56" r="2.0" fill="none" stroke="#4b0f6e" stroke-width="0.85"/>
<circle cx="478.20" cy="737.92" r="2.0" fill="none" stroke="#4b0f6e" stroke-width="0.85"/>
<circle cx="491.30" cy="730.31" r="2.0" fill="none" stroke="#4b0f6e" stroke-width="0.85"/>
<circle cx="535.60" cy="696.26" r="2.0" fill="none" stroke="#4b0f6e" stroke-width="0.85"/>
<circle cx="520.74" cy="700.92" r="2.0" fill="none" stroke="#4b0f6e" stroke-width="0.85"/>
<circle cx="473.78" cy="746.20" r="2.0" fill="none" stroke="#4b0f6e" stroke-width="0.85"/>
<circle cx="542.70" cy="684.72" r="2.0" fill="none" stroke="#4b0f6e" stroke-width="0.85"/>
<circle cx="508.62" cy="713.30" r="2.0" fill="none" stroke="#4b0f6e" stroke-width="0.85"/>
<circle cx="545.73" cy="692.05" r="2.0" fill="none" stroke="#4b0f6e" stroke-width="0.85"/>
<circle cx="499.31" cy="719.29" r="2.0" fill="none" stroke="#4b0f6e" stroke-width="0.85"/>
<circle cx="483.47" cy="737.86" r="2.0" fill="none" stroke="#4b0f6e" stroke-width="0.85"/>
<circle cx="483.25" cy="737.28" r="2.0" fill="none" stroke="#4b0f6e" stroke-width="0.85"/>
<circle cx="451.05" cy="751.50" r="2.0" fill="none" stroke="#4b0f6e" stroke-width="0.85"/>
<circle cx="535.11" cy="695.14" r="2.0" fill="none" stroke="#4b0f6e" stroke-width="0.85"/>
<circle cx="522.91" cy="706.82" r="2.0" fill="none" stroke="#4b0f6e" stroke-width="0.85"/>
<circle cx="508.94" cy="706.97" r="2.0" fill="none" stroke="#4b0f6e" stroke-width="0.85"/>
<circle cx="496.78" cy="721.95" r="2.0" fill="none" stroke="#4b0f6e" stroke-width="0.85"/>
<circle cx="508.33" cy="714.87" r="2.0" fill="none" stroke="#4b0f6e" stroke-width="0.85"/>
<circle cx="487.59" cy="729.00" r="2.0" fill="none" stroke="#4b0f6e" stroke-width="0.85"/>
<circle cx="525.80" cy="700.89" r="2.0" fill="none" stroke="#4b0f6e" stroke-width="0.85"/>
<circle cx="493.68" cy="719.56" r="2.0" fill="none" stroke="#4b0f6e" stroke-width="0.85"/>
<circle cx="537.16" cy="691.49" r="2.0" fill="none" stroke="#4b0f6e" stroke-width="0.85"/>
<circle cx="455.72" cy="754.48" r="2.0" fill="none" stroke="#4b0f6e" stroke-width="0.85"/>
<circle cx="513.34" cy="710.51" r="2.0" fill="none" stroke="#4b0f6e" stroke-width="0.85"/>
<circle cx="509.76" cy="713.04" r="2.0" fill="none" stroke="#4b0f6e" stroke-width="0.85"/>
<circle cx="504.13" cy="721.84" r="2.0" fill="none" stroke="#4b0f6e" stroke-width="0.85"/>
<circle cx="494.56" cy="730.73" r="2.0" fill="none" stroke="#4b0f6e" stroke-width="0.85"/>
<circle cx="494.47" cy="730.28" r="2.0" fill="none" stroke="#4b0f6e" stroke-width="0.85"/>
<circle cx="487.08" cy="734.85" r="2.0" fill="none" stroke="#4b0f6e" stroke-width="0.85"/>
<circle cx="497.51" cy="722.56" r="2.0" fill="none" stroke="#4b0f6e" stroke-width="0.85"/>
<circle cx="517.74" cy="712.75" r="2.0" fill="none" stroke="#4b0f6e" stroke-width="0.85"/>
<circle cx="489.98" cy="729.11" r="2.0" fill="none" stroke="#4b0f6e" stroke-width="0.85"/>
<circle cx="529.73" cy="698.11" r="2.0" fill="none" stroke="#4b0f6e" stroke-width="0.85"/>
<circle cx="528.23" cy="697.85" r="2.0" fill="none" stroke="#4b0f6e" stroke-width="0.85"/>
<circle cx="516.74" cy="712.26" r="2.0" fill="none" stroke="#4b0f6e" stroke-width="0.85"/>
<circle cx="527.01" cy="699.43" r="2.0" fill="none" stroke="#4b0f6e" stroke-width="0.85"/>
<circle cx="499.69" cy="718.24" r="2.0" fill="none" stroke="#4b0f6e" stroke-width="0.85"/>
<circle cx="507.96" cy="715.73" r="2.0" fill="none" stroke="#4b0f6e" stroke-width="0.85"/>
<circle cx="484.79" cy="733.78" r="2.0" fill="none" stroke="#4b0f6e" stroke-width="0.85"/>
<circle cx="518.70" cy="708.24" r="2.0" fill="none" stroke="#4b0f6e" stroke-width="0.85"/>
<circle cx="519.57" cy="701.26" r="2.0" fill="none" stroke="#4b0f6e" stroke-width="0.85"/>
<circle cx="503.53" cy="719.38" r="2.0" fill="none" stroke="#4b0f6e" stroke-width="0.85"/>
<circle cx="513.55" cy="710.68" r="2.0" fill="none" stroke="#4b0f6e" stroke-width="0.85"/>
<circle cx="518.64" cy="704.50" r="2.0" fill="none" stroke="#4b0f6e" stroke-width="0.85"/>
<circle cx="480.54" cy="739.29" r="2.0" fill="none" stroke="#4b0f6e" stroke-width="0.85"/>
<circle cx="534.59" cy="688.62" r="2.0" fill="none" stroke="#4b0f6e" stroke-width="0.85"/>
<circle cx="482.03" cy="739.25" r="2.0" fill="none" stroke="#4b0f6e" stroke-width="0.85"/>
<circle cx="470.72" cy="749.55" r="2.0" fill="none" stroke="#4b0f6e" stroke-width="0.85"/>
<circle cx="501.57" cy="717.16" r="2.0" fill="none" stroke="#4b0f6e" stroke-width="0.85"/>
<circle cx="536.93" cy="692.13" r="2.0" fill="none" stroke="#4b0f6e" stroke-width="0.85"/>
<circle cx="515.35" cy="714.08" r="2.0" fill="none" stroke="#4b0f6e" stroke-width="0.85"/>
<circle cx="461.06" cy="755.65" r="2.0" fill="none" stroke="#4b0f6e" stroke-width="0.85"/>
<circle cx="528.34" cy="700.33" r="2.0" fill="none" stroke="#4b0f6e" stroke-width="0.85"/>
<circle cx="490.45" cy="724.43" r="2.0" fill="none" stroke="#4b0f6e" stroke-width="0.85"/>
<circle cx="541.18" cy="690.05" r="2.0" fill="none" stroke="#4b0f6e" stroke-width="0.85"/>
<circle cx="500.40" cy="712.08" r="2.0" fill="none" stroke="#4b0f6e" stroke-width="0.85"/>
<circle cx="544.18" cy="696.11" r="2.0" fill="none" stroke="#4b0f6e" stroke-width="0.85"/>
<circle cx="505.13" cy="710.62" r="2.0" fill="none" stroke="#4b0f6e" stroke-width="0.85"/>
<circle cx="484.29" cy="736.82" r="2.0" fill="none" stroke="#4b0f6e" stroke-width="0.85"/>
<circle cx="482.47" cy="733.83" r="2.0" fill="none" stroke="#4b0f6e" stroke-width="0.85"/>
<circle cx="507.01" cy="717.42" r="2.0" fill="none" stroke="#4b0f6e" stroke-width="0.85"/>
<circle cx="539.46" cy="684.45" r="2.0" fill="none" stroke="#4b0f6e" stroke-width="0.85"/>
<circle cx="541.51" cy="693.95" r="2.0" fill="none" stroke="#4b0f6e" stroke-width="0.85"/>
<circle cx="495.30" cy="724.78" r="2.0" fill="none" stroke="#4b0f6e" stroke-width="0.85"/>
<circle cx="507.62" cy="712.31" r="2.0" fill="none" stroke="#4b0f6e" stroke-width="0.85"/>
<circle cx="475.40" cy="739.96" r="2.0" fill="none" stroke="#4b0f6e" stroke-width="0.85"/>
<circle cx="482.77" cy="736.19" r="2.0" fill="none" stroke="#4b0f6e" stroke-width="0.85"/>
<circle cx="535.21" cy="701.64" r="2.0" fill="none" stroke="#4b0f6e" stroke-width="0.85"/>
<circle cx="467.91" cy="743.89" r="2.0" fill="none" stroke="#4b0f6e" stroke-width="0.85"/>
<circle cx="530.67" cy="694.74" r="2.0" fill="none" stroke="#4b0f6e" stroke-width="0.85"/>
<circle cx="533.97" cy="693.07" r="2.0" fill="none" stroke="#4b0f6e" stroke-width="0.85"/>
<circle cx="511.60" cy="719.32" r="2.0" fill="none" stroke="#4b0f6e" stroke-width="0.85"/>
<circle cx="515.76" cy="708.24" r="2.0" fill="none" stroke="#4b0f6e" stroke-width="0.85"/>
<circle cx="501.34" cy="723.99" r="2.0" fill="none" stroke="#4b0f6e" stroke-width="0.85"/>
<circle cx="510.53" cy="711.78" r="2.0" fill="none" stroke="#4b0f6e" stroke-width="0.85"/>
<circle cx="460.55" cy="750.37" r="2.0" fill="none" stroke="#4b0f6e" stroke-width="0.85"/>
<circle cx="546.66" cy="685.15" r="2.0" fill="none" stroke="#4b0f6e" stroke-width="0.85"/>
<circle cx="479.92" cy="737.29" r="2.0" fill="none" stroke="#4b0f6e" stroke-width="0.85"/>
<circle cx="483.51" cy="736.48" r="2.0" fill="none" stroke="#4b0f6e" stroke-width="0.85"/>
<circle cx="467.28" cy="749.61" r="2.0" fill="none" stroke="#4b0f6e" stroke-width="0.85"/>
<circle cx="460.46" cy="756.42" r="2.0" fill="none" stroke="#4b0f6e" stroke-width="0.85"/>
<circle cx="456.01" cy="755.93" r="2.0" fill="none" stroke="#4b0f6e" stroke-width="0.85"/>
<circle cx="485.74" cy="737.15" r="2.0" fill="none" stroke="#4b0f6e" stroke-width="0.85"/>
<circle cx="529.08" cy="703.56" r="2.0" fill="none" stroke="#4b0f6e" stroke-width="0.85"/>
<circle cx="478.65" cy="735.28" r="2.0" fill="none" stroke="#4b0f6e" stroke-width="0.85"/>
<circle cx="519.13" cy="712.12" r="2.0" fill="none" stroke="#4b0f6e" stroke-width="0.85"/>
<circle cx="472.75" cy="738.33" r="2.0" fill="none" stroke="#4b0f6e" stroke-width="0.85"/>
<circle cx="518.35" cy="703.50" r="2.0" fill="none" stroke="#4b0f6e" stroke-width="0.85"/>
<circle cx="537.04" cy="691.53" r="2.0" fill="none" stroke="#4b0f6e" stroke-width="0.85"/>
<circle cx="464.44" cy="741.40" r="2.0" fill="none" stroke="#4b0f6e" stroke-width="0.85"/>
<circle cx="496.63" cy="719.02" r="2.0" fill="none" stroke="#4b0f6e" stroke-width="0.85"/>
<circle cx="530.30" cy="702.76" r="2.0" fill="none" stroke="#4b0f6e" stroke-width="0.85"/>
<circle cx="458.15" cy="755.40" r="2.0" fill="none" stroke="#4b0f6e" stroke-width="0.85"/>
<circle cx="466.48" cy="741.71" r="2.0" fill="none" stroke="#4b0f6e" stroke-width="0.85"/>
<circle cx="462.46" cy="745.74" r="2.0" fill="none" stroke="#4b0f6e" stroke-width="0.85"/>
<circle cx="508.15" cy="714.41" r="2.0" fill="none" stroke="#4b0f6e" stroke-width="0.85"/>
<circle cx="537.12" cy="692.92" r="2.0" fill="none" stroke="#4b0f6e" stroke-width="0.85"/>
<circle cx="503.04" cy="713.12" r="2.0" fill="none" stroke="#4b0f6e" stroke-width="0.85"/>
<circle cx="528.79" cy="694.41" r="2.0" fill="none" stroke="#4b0f6e" stroke-width="0.85"/>
<circle cx="450.55" cy="757.51" r="2.0" fill="none" stroke="#4b0f6e" stroke-width="0.85"/>
<circle cx="492.69" cy="732.75" r="2.0" fill="none" stroke="#4b0f6e" stroke-width="0.85"/>
<circle cx="523.80" cy="703.68" r="2.0" fill="none" stroke="#4b0f6e" stroke-width="0.85"/>
<circle cx="517.21" cy="706.81" r="2.0" fill="none" stroke="#4b0f6e" stroke-width="0.85"/>
<circle cx="506.54" cy="718.73" r="2.0" fill="none" stroke="#4b0f6e" stroke-width="0.85"/>
<circle cx="473.24" cy="745.92" r="2.0" fill="none" stroke="#4b0f6e" stroke-width="0.85"/>
<circle cx="485.15" cy="736.51" r="2.0" fill="none" stroke="#4b0f6e" stroke-width="0.85"/>
<circle cx="483.41" cy="734.80" r="2.0" fill="none" stroke="#4b0f6e" stroke-width="0.85"/>
<circle cx="546.50" cy="685.49" r="2.0" fill="none" stroke="#4b0f6e" stroke-width="0.85"/>
<circle cx="523.64" cy="700.08" r="2.0" fill="none" stroke="#4b0f6e" stroke-width="0.85"/>
<circle cx="528.02" cy="702.30" r="2.0" fill="none" stroke="#4b0f6e" stroke-width="0.85"/>
<circle cx="513.06" cy="715.53" r="2.0" fill="none" stroke="#4b0f6e" stroke-width="0.85"/>
<circle cx="504.60" cy="716.09" r="2.0" fill="none" stroke="#4b0f6e" stroke-width="0.85"/>
<circle cx="522.30" cy="706.76" r="2.0" fill="none" stroke="#4b0f6e" stroke-width="0.85"/>
<circle cx="520.75" cy="704.27" r="2.0" fill="none" stroke="#4b0f6e" stroke-width="0.85"/>
<circle cx="507.25" cy="712.66" r="2.0" fill="none" stroke="#4b0f6e" stroke-width="0.85"/>
<circle cx="471.45" cy="745.84" r="2.0" fill="none" stroke="#4b0f6e" stroke-width="0.85"/>
<circle cx="519.37" cy="715.77" r="2.0" fill="none" stroke="#4b0f6e" stroke-width="0.85"/>
<circle cx="534.40" cy="698.05" r="2.0" fill="none" stroke="#4b0f6e" stroke-width="0.85"/>
<circle cx="450.26" cy="759.65" r="2.0" fill="none" stroke="#4b0f6e" stroke-width="0.85"/>
<circle cx="486.70" cy="729.11" r="2.0" fill="none" stroke="#4b0f6e" stroke-width="0.85"/>
<circle cx="526.35" cy="697.98" r="2.0" fill="none" stroke="#4b0f6e" stroke-width="0.85"/>
<circle cx="548.34" cy="690.30" r="2.0" fill="none" stroke="#4b0f6e" stroke-width="0.85"/>
<circle cx="532.47" cy="696.07" r="2.0" fill="none" stroke="#4b0f6e" stroke-width="0.85"/>
<circle cx="474.21" cy="741.81" r="2.0" fill="none" stroke="#4b0f6e" stroke-width="0.85"/>
<circle cx="512.83" cy="714.58" r="2.0" fill="none" stroke="#4b0f6e" stroke-width="0.85"/>
<circle cx="523.27" cy="704.73" r="2.0" fill="none" stroke="#4b0f6e" stroke-width="0.85"/>
<circle cx="471.70" cy="743.28" r="2.0" fill="none" stroke="#4b0f6e" stroke-width="0.85"/>
<circle cx="465.21" cy="745.09" r="2.0" fill="none" stroke="#4b0f6e" stroke-width="0.85"/>
<circle cx="474.12" cy="742.63" r="2.0" fill="none" stroke="#4b0f6e" stroke-width="0.85"/>
<circle cx="519.31" cy="701.15" r="2.0" fill="none" stroke="#4b0f6e" stroke-width="0.85"/>
<circle cx="535.56" cy="701.13" r="2.0" fill="none" stroke="#4b0f6e" stroke-width="0.85"/>
<circle cx="490.80" cy="728.05" r="2.0" fill="none" stroke="#4b0f6e" stroke-width="0.85"/>
<circle cx="532.40" cy="698.50" r="2.0" fill="none" stroke="#4b0f6e" stroke-width="0.85"/>
<circle cx="484.05" cy="738.12" r="2.0" fill="none" stroke="#4b0f6e" stroke-width="0.85"/>
<circle cx="481.84" cy="737.42" r="2.0" fill="none" stroke="#4b0f6e" stroke-width="0.85"/>
<circle cx="497.14" cy="721.78" r="2.0" fill="none" stroke="#4b0f6e" stroke-width="0.85"/>
<circle cx="527.75" cy="704.17" r="2.0" fill="none" stroke="#4b0f6e" stroke-width="0.85"/>
<circle cx="475.76" cy="735.87" r="2.0" fill="none" stroke="#4b0f6e" stroke-width="0.85"/>
<circle cx="534.64" cy="689.71" r="2.0" fill="none" stroke="#4b0f6e" stroke-width="0.85"/>
<circle cx="542.93" cy="683.51" r="2.0" fill="none" stroke="#4b0f6e" stroke-width="0.85"/>
<circle cx="526.17" cy="701.31" r="2.0" fill="none" stroke="#4b0f6e" stroke-width="0.85"/>
<circle cx="479.59" cy="740.30" r="2.0" fill="none" stroke="#4b0f6e" stroke-width="0.85"/>
<circle cx="524.32" cy="708.81" r="2.0" fill="none" stroke="#4b0f6e" stroke-width="0.85"/>
<circle cx="485.45" cy="736.21" r="2.0" fill="none" stroke="#4b0f6e" stroke-width="0.85"/>
<circle cx="497.95" cy="726.31" r="2.0" fill="none" stroke="#4b0f6e" stroke-width="0.85"/>
<circle cx="527.52" cy="702.78" r="2.0" fill="none" stroke="#4b0f6e" stroke-width="0.85"/>
<circle cx="492.74" cy="728.09" r="2.0" fill="none" stroke="#4b0f6e" stroke-width="0.85"/>
<circle cx="488.12" cy="730.98" r="2.0" fill="none" stroke="#4b0f6e" stroke-width="0.85"/>
<circle cx="488.93" cy="726.96" r="2.0" fill="none" stroke="#4b0f6e" stroke-width="0.85"/>
<circle cx="514.39" cy="714.41" r="2.0" fill="none" stroke="#4b0f6e" stroke-width="0.85"/>
<circle cx="481.97" cy="737.76" r="2.0" fill="none" stroke="#4b0f6e" stroke-width="0.85"/>
<circle cx="454.87" cy="753.71" r="2.0" fill="none" stroke="#4b0f6e" stroke-width="0.85"/>
<circle cx="499.37" cy="726.45" r="2.0" fill="none" stroke="#4b0f6e" stroke-width="0.85"/>
<circle cx="487.26" cy="728.03" r="2.0" fill="none" stroke="#4b0f6e" stroke-width="0.85"/>
<circle cx="536.31" cy="689.32" r="2.0" fill="none" stroke="#4b0f6e" stroke-width="0.85"/>
<circle cx="525.81" cy="700.48" r="2.0" fill="none" stroke="#4b0f6e" stroke-width="0.85"/>
<circle cx="481.64" cy="738.76" r="2.0" fill="none" stroke="#4b0f6e" stroke-width="0.85"/>
<circle cx="514.76" cy="714.64" r="2.0" fill="none" stroke="#4b0f6e" stroke-width="0.85"/>
<circle cx="475.32" cy="733.17" r="2.0" fill="none" stroke="#4b0f6e" stroke-width="0.85"/>
<circle cx="459.34" cy="750.12" r="2.0" fill="none" stroke="#4b0f6e" stroke-width="0.85"/>
<circle cx="467.08" cy="751.86" r="2.0" fill="none" stroke="#4b0f6e" stroke-width="0.85"/>
<circle cx="523.22" cy="700.99" r="2.0" fill="none" stroke="#4b0f6e" stroke-width="0.85"/>
<circle cx="464.01" cy="745.36" r="2.0" fill="none" stroke="#4b0f6e" stroke-width="0.85"/>
<circle cx="501.37" cy="716.74" r="2.0" fill="none" stroke="#4b0f6e" stroke-width="0.85"/>
<circle cx="503.68" cy="715.32" r="2.0" fill="none" stroke="#4b0f6e" stroke-width="0.85"/>
<circle cx="538.78" cy="690.70" r="2.0" fill="none" stroke="#4b0f6e" stroke-width="0.85"/>
<circle cx="519.77" cy="707.46" r="2.0" fill="none" stroke="#4b0f6e" stroke-width="0.85"/>
<circle cx="470.68" cy="745.66" r="2.0" fill="none" stroke="#4b0f6e" stroke-width="0.85"/>
<circle cx="491.15" cy="730.69" r="2.0" fill="none" stroke="#4b0f6e" stroke-width="0.85"/>
<circle cx="467.93" cy="744.34" r="2.0" fill="none" stroke="#4b0f6e" stroke-width="0.85"/>
<circle cx="537.52" cy="692.89" r="2.0" fill="none" stroke="#4b0f6e" stroke-width="0.85"/>
<circle cx="470.96" cy="742.37" r="2.0" fill="none" stroke="#4b0f6e" stroke-width="0.85"/>
<circle cx="467.52" cy="746.27" r="2.0" fill="none" stroke="#4b0f6e" stroke-width="0.85"/>
<circle cx="513.36" cy="711.21" r="2.0" fill="none" stroke="#4b0f6e" stroke-width="0.85"/>
<circle cx="505.26" cy="708.88" r="2.0" fill="none" stroke="#4b0f6e" stroke-width="0.85"/>
<circle cx="528.19" cy="702.10" r="2.0" fill="none" stroke="#4b0f6e" stroke-width="0.85"/>
<circle cx="518.95" cy="705.66" r="2.0" fill="none" stroke="#4b0f6e" stroke-width="0.85"/>
<circle cx="455.81" cy="762.88" r="2.0" fill="none" stroke="#4b0f6e" stroke-width="0.85"/>
<circle cx="536.11" cy="696.28" r="2.0" fill="none" stroke="#4b0f6e" stroke-width="0.85"/>
<circle cx="528.39" cy="693.88" r="2.0" fill="none" stroke="#4b0f6e" stroke-width="0.85"/>
<circle cx="530.87" cy="700.77" r="2.0" fill="none" stroke="#4b0f6e" stroke-width="0.85"/>
<circle cx="475.74" cy="733.02" r="2.0" fill="none" stroke="#4b0f6e" stroke-width="0.85"/>
<circle cx="514.26" cy="713.62" r="2.0" fill="none" stroke="#4b0f6e" stroke-width="0.85"/>
<circle cx="487.71" cy="729.95" r="2.0" fill="none" stroke="#4b0f6e" stroke-width="0.85"/>
<circle cx="455.82" cy="753.18" r="2.0" fill="none" stroke="#4b0f6e" stroke-width="0.85"/>
<circle cx="518.76" cy="704.73" r="2.0" fill="none" stroke="#4b0f6e" stroke-width="0.85"/>
<circle cx="490.68" cy="729.94" r="2.0" fill="none" stroke="#4b0f6e" stroke-width="0.85"/>
<circle cx="524.62" cy="705.37" r="2.0" fill="none" stroke="#4b0f6e" stroke-width="0.85"/>
<circle cx="466.21" cy="741.00" r="2.0" fill="none" stroke="#4b0f6e" stroke-width="0.85"/>
<circle cx="485.50" cy="735.55" r="2.0" fill="none" stroke="#4b0f6e" stroke-width="0.85"/>
<circle cx="508.35" cy="714.70" r="2.0" fill="none" stroke="#4b0f6e" stroke-width="0.85"/>
<circle cx="527.26" cy="700.36" r="2.0" fill="none" stroke="#4b0f6e" stroke-width="0.85"/>
<circle cx="494.52" cy="724.13" r="2.0" fill="none" stroke="#4b0f6e" stroke-width="0.85"/>
<circle cx="488.82" cy="726.72" r="2.0" fill="none" stroke="#4b0f6e" stroke-width="0.85"/>
<circle cx="450.70" cy="755.85" r="2.0" fill="none" stroke="#4b0f6e" stroke-width="0.85"/>
<circle cx="562.33" cy="665.11" r="2.0" fill="none" stroke="#4b0f6e" stroke-width="0.85"/>
<circle cx="545.73" cy="673.78" r="2.0" fill="none" stroke="#4b0f6e" stroke-width="0.85"/>
<circle cx="547.48" cy="671.78" r="2.0" fill="none" stroke="#4b0f6e" stroke-width="0.85"/>
<circle cx="545.73" cy="691.14" r="2.0" fill="none" stroke="#4b0f6e" stroke-width="0.85"/>
<circle cx="546.61" cy="693.81" r="2.0" fill="none" stroke="#4b0f6e" stroke-width="0.85"/>
<rect x="456.0" y="731.6" width="25.600000000000023" height="19.799999999999955" fill="none" stroke="#e8282a" stroke-width="0.9"/>
<rect x="421.50" y="668.05" width="63.40" height="52.40" fill="#ffffff" stroke="#f2b48c" stroke-width="3.20" filter="url(#pebblur)"/>
<g clip-path="url(#peinclip)">
<defs><linearGradient id="eing" x1="0" y1="0" x2="1" y2="1"><stop offset="0.3" stop-color="#ffffff"/><stop offset="1" stop-color="#c9dcef"/></linearGradient></defs><rect x="419" y="666" width="70" height="58" fill="url(#eing)"/>
<circle cx="428.05" cy="709.58" r="4.9" fill="#e0884e" opacity="0.9" filter="url(#peblur)"/>
<circle cx="434.62" cy="703.02" r="4.9" fill="#e0884e" opacity="0.9" filter="url(#peblur)"/>
<circle cx="440.53" cy="706.96" r="4.9" fill="#e0884e" opacity="0.9" filter="url(#peblur)"/>
<circle cx="447.10" cy="704.33" r="4.9" fill="#e0884e" opacity="0.9" filter="url(#peblur)"/>
<circle cx="447.10" cy="710.90" r="4.9" fill="#e0884e" opacity="0.9" filter="url(#peblur)"/>
<circle cx="452.36" cy="696.45" r="4.9" fill="#e0884e" opacity="0.9" filter="url(#peblur)"/>
<circle cx="457.61" cy="690.53" r="4.9" fill="#e0884e" opacity="0.9" filter="url(#peblur)"/>
<circle cx="458.93" cy="699.73" r="4.9" fill="#e0884e" opacity="0.9" filter="url(#peblur)"/>
<circle cx="464.18" cy="703.67" r="4.9" fill="#e0884e" opacity="0.9" filter="url(#peblur)"/>
<circle cx="460.24" cy="707.61" r="4.9" fill="#e0884e" opacity="0.9" filter="url(#peblur)"/>
<circle cx="466.81" cy="702.36" r="4.9" fill="#e0884e" opacity="0.9" filter="url(#peblur)"/>
<circle cx="470.75" cy="708.93" r="4.9" fill="#e0884e" opacity="0.9" filter="url(#peblur)"/>
<circle cx="464.84" cy="689.88" r="4.9" fill="#e0884e" opacity="0.9" filter="url(#peblur)"/>
<circle cx="469.44" cy="685.28" r="4.9" fill="#e0884e" opacity="0.9" filter="url(#peblur)"/>
<circle cx="472.72" cy="679.37" r="4.9" fill="#e0884e" opacity="0.9" filter="url(#peblur)"/>
<circle cx="474.69" cy="685.93" r="4.9" fill="#e0884e" opacity="0.9" filter="url(#peblur)"/>
<circle cx="479.95" cy="680.68" r="4.9" fill="#e0884e" opacity="0.9" filter="url(#peblur)"/>
<circle cx="480.61" cy="673.45" r="4.9" fill="#e0884e" opacity="0.9" filter="url(#peblur)"/>
<circle cx="477.32" cy="691.85" r="4.9" fill="#e0884e" opacity="0.9" filter="url(#peblur)"/>
<circle cx="480.61" cy="693.16" r="4.9" fill="#e0884e" opacity="0.9" filter="url(#peblur)"/>
<circle cx="462.87" cy="683.96" r="4.9" fill="#e0884e" opacity="0.9" filter="url(#peblur)"/>
<circle cx="454.99" cy="711.56" r="4.9" fill="#e0884e" opacity="0.9" filter="url(#peblur)"/>
<circle cx="453.02" cy="707.61" r="4.9" fill="#e0884e" opacity="0.9" filter="url(#peblur)"/>
<circle cx="439.22" cy="714.18" r="4.9" fill="#e0884e" opacity="0.9" filter="url(#peblur)"/>
<circle cx="444.47" cy="714.18" r="4.9" fill="#e0884e" opacity="0.9" filter="url(#peblur)"/>
<circle cx="477.32" cy="671.48" r="4.9" fill="#e0884e" opacity="0.9" filter="url(#peblur)"/>
<circle cx="482.58" cy="676.74" r="4.9" fill="#e0884e" opacity="0.9" filter="url(#peblur)"/>
<circle cx="469.44" cy="694.47" r="4.9" fill="#e0884e" opacity="0.9" filter="url(#peblur)"/>
<circle cx="472.07" cy="698.42" r="4.9" fill="#e0884e" opacity="0.9" filter="url(#peblur)"/>
<circle cx="461.56" cy="694.47" r="4.9" fill="#e0884e" opacity="0.9" filter="url(#peblur)"/>
<circle cx="454.99" cy="702.36" r="4.9" fill="#e0884e" opacity="0.9" filter="url(#peblur)"/>
<circle cx="448.42" cy="698.42" r="4.9" fill="#e0884e" opacity="0.9" filter="url(#peblur)"/>
<circle cx="443.16" cy="702.36" r="4.9" fill="#e0884e" opacity="0.9" filter="url(#peblur)"/>
<circle cx="433.96" cy="711.56" r="4.9" fill="#e0884e" opacity="0.9" filter="url(#peblur)"/>
<circle cx="424.77" cy="714.18" r="4.9" fill="#e0884e" opacity="0.9" filter="url(#peblur)"/>
<circle cx="466.81" cy="677.39" r="4.9" fill="#e0884e" opacity="0.9" filter="url(#peblur)"/>
<circle cx="470.75" cy="673.45" r="4.9" fill="#e0884e" opacity="0.9" filter="url(#peblur)"/>
<circle cx="478.64" cy="666.88" r="4.9" fill="#e0884e" opacity="0.9" filter="url(#peblur)"/>
<circle cx="481.92" cy="685.28" r="4.9" fill="#e0884e" opacity="0.9" filter="url(#peblur)"/>
<circle cx="474.69" cy="701.04" r="4.9" fill="#e0884e" opacity="0.9" filter="url(#peblur)"/>
<circle cx="465.50" cy="698.42" r="4.9" fill="#e0884e" opacity="0.9" filter="url(#peblur)"/>
<circle cx="451.04" cy="691.85" r="4.9" fill="#e0884e" opacity="0.9" filter="url(#peblur)"/>
<circle cx="456.30" cy="685.28" r="4.9" fill="#e0884e" opacity="0.9" filter="url(#peblur)"/>
<circle cx="460.24" cy="680.02" r="4.9" fill="#e0884e" opacity="0.9" filter="url(#peblur)"/>
<circle cx="441.85" cy="708.93" r="4.9" fill="#e0884e" opacity="0.9" filter="url(#peblur)"/>
<circle cx="430.02" cy="704.99" r="4.9" fill="#e0884e" opacity="0.9" filter="url(#peblur)"/>
<circle cx="466.81" cy="693.16" r="4.9" fill="#e0884e" opacity="0.9" filter="url(#peblur)"/>
<circle cx="476.01" cy="677.39" r="4.9" fill="#e0884e" opacity="0.9" filter="url(#peblur)"/>
<circle cx="429.05" cy="710.58" r="3.35" fill="#fff" stroke="#4b0f6e" stroke-width="1.9"/>
<circle cx="435.62" cy="704.02" r="3.35" fill="#fff" stroke="#4b0f6e" stroke-width="1.9"/>
<circle cx="441.53" cy="707.96" r="3.35" fill="#fff" stroke="#4b0f6e" stroke-width="1.9"/>
<circle cx="448.10" cy="705.33" r="3.35" fill="#fff" stroke="#4b0f6e" stroke-width="1.9"/>
<circle cx="448.10" cy="711.90" r="3.35" fill="#fff" stroke="#4b0f6e" stroke-width="1.9"/>
<circle cx="453.36" cy="697.45" r="3.35" fill="#fff" stroke="#4b0f6e" stroke-width="1.9"/>
<circle cx="458.61" cy="691.53" r="3.35" fill="#fff" stroke="#4b0f6e" stroke-width="1.9"/>
<circle cx="459.93" cy="700.73" r="3.35" fill="#fff" stroke="#4b0f6e" stroke-width="1.9"/>
<circle cx="465.18" cy="704.67" r="3.35" fill="#fff" stroke="#4b0f6e" stroke-width="1.9"/>
<circle cx="461.24" cy="708.61" r="3.35" fill="#fff" stroke="#4b0f6e" stroke-width="1.9"/>
<circle cx="467.81" cy="703.36" r="3.35" fill="#fff" stroke="#4b0f6e" stroke-width="1.9"/>
<circle cx="471.75" cy="709.93" r="3.35" fill="#fff" stroke="#4b0f6e" stroke-width="1.9"/>
<circle cx="465.84" cy="690.88" r="3.35" fill="#fff" stroke="#4b0f6e" stroke-width="1.9"/>
<circle cx="470.44" cy="686.28" r="3.35" fill="#fff" stroke="#4b0f6e" stroke-width="1.9"/>
<circle cx="473.72" cy="680.37" r="3.35" fill="#fff" stroke="#4b0f6e" stroke-width="1.9"/>
<circle cx="475.69" cy="686.93" r="3.35" fill="#fff" stroke="#4b0f6e" stroke-width="1.9"/>
<circle cx="480.95" cy="681.68" r="3.35" fill="#fff" stroke="#4b0f6e" stroke-width="1.9"/>
<circle cx="481.61" cy="674.45" r="3.35" fill="#fff" stroke="#4b0f6e" stroke-width="1.9"/>
<circle cx="478.32" cy="692.85" r="3.35" fill="#fff" stroke="#4b0f6e" stroke-width="1.9"/>
<circle cx="481.61" cy="694.16" r="3.35" fill="#fff" stroke="#4b0f6e" stroke-width="1.9"/>
<circle cx="463.87" cy="684.96" r="3.35" fill="#fff" stroke="#4b0f6e" stroke-width="1.9"/>
<circle cx="455.99" cy="712.56" r="3.35" fill="#fff" stroke="#4b0f6e" stroke-width="1.9"/>
<circle cx="454.02" cy="708.61" r="3.35" fill="#fff" stroke="#4b0f6e" stroke-width="1.9"/>
<circle cx="440.22" cy="715.18" r="3.35" fill="#fff" stroke="#4b0f6e" stroke-width="1.9"/>
<circle cx="445.47" cy="715.18" r="3.35" fill="#fff" stroke="#4b0f6e" stroke-width="1.9"/>
<circle cx="478.32" cy="672.48" r="3.35" fill="#fff" stroke="#4b0f6e" stroke-width="1.9"/>
<circle cx="483.58" cy="677.74" r="3.35" fill="#fff" stroke="#4b0f6e" stroke-width="1.9"/>
<circle cx="470.44" cy="695.47" r="3.35" fill="#fff" stroke="#4b0f6e" stroke-width="1.9"/>
<circle cx="473.07" cy="699.42" r="3.35" fill="#fff" stroke="#4b0f6e" stroke-width="1.9"/>
<circle cx="462.56" cy="695.47" r="3.35" fill="#fff" stroke="#4b0f6e" stroke-width="1.9"/>
<circle cx="455.99" cy="703.36" r="3.35" fill="#fff" stroke="#4b0f6e" stroke-width="1.9"/>
<circle cx="449.42" cy="699.42" r="3.35" fill="#fff" stroke="#4b0f6e" stroke-width="1.9"/>
<circle cx="444.16" cy="703.36" r="3.35" fill="#fff" stroke="#4b0f6e" stroke-width="1.9"/>
<circle cx="434.96" cy="712.56" r="3.35" fill="#fff" stroke="#4b0f6e" stroke-width="1.9"/>
<circle cx="425.77" cy="715.18" r="3.35" fill="#fff" stroke="#4b0f6e" stroke-width="1.9"/>
<circle cx="467.81" cy="678.39" r="3.35" fill="#fff" stroke="#4b0f6e" stroke-width="1.9"/>
<circle cx="471.75" cy="674.45" r="3.35" fill="#fff" stroke="#4b0f6e" stroke-width="1.9"/>
<circle cx="479.64" cy="667.88" r="3.35" fill="#fff" stroke="#4b0f6e" stroke-width="1.9"/>
<circle cx="482.92" cy="686.28" r="3.35" fill="#fff" stroke="#4b0f6e" stroke-width="1.9"/>
<circle cx="475.69" cy="702.04" r="3.35" fill="#fff" stroke="#4b0f6e" stroke-width="1.9"/>
<circle cx="466.50" cy="699.42" r="3.35" fill="#fff" stroke="#4b0f6e" stroke-width="1.9"/>
<circle cx="452.04" cy="692.85" r="3.35" fill="#fff" stroke="#4b0f6e" stroke-width="1.9"/>
<circle cx="457.30" cy="686.28" r="3.35" fill="#fff" stroke="#4b0f6e" stroke-width="1.9"/>
<circle cx="461.24" cy="681.02" r="3.35" fill="#fff" stroke="#4b0f6e" stroke-width="1.9"/>
<circle cx="442.85" cy="709.93" r="3.35" fill="#fff" stroke="#4b0f6e" stroke-width="1.9"/>
<circle cx="431.02" cy="705.99" r="3.35" fill="#fff" stroke="#4b0f6e" stroke-width="1.9"/>
<circle cx="467.81" cy="694.16" r="3.35" fill="#fff" stroke="#4b0f6e" stroke-width="1.9"/>
<circle cx="477.01" cy="678.39" r="3.35" fill="#fff" stroke="#4b0f6e" stroke-width="1.9"/>
</g>
<rect x="406.0" y="632.4" width="209.60000000000002" height="160.20000000000005" fill="none" stroke="#111" stroke-width="1.3"/>
<line x1="406.00" y1="792.60" x2="406.00" y2="788.00" stroke="#111" stroke-width="1"/>
<text transform="translate(406.00,807.70) scale(1.03,1)" font-size="10.2" text-anchor="middle" font-weight="normal" fill="#111" letter-spacing="0" >3</text>
<line x1="432.20" y1="792.60" x2="432.20" y2="790.20" stroke="#111" stroke-width="1"/>
<line x1="458.40" y1="792.60" x2="458.40" y2="788.00" stroke="#111" stroke-width="1"/>
<text transform="translate(458.40,807.70) scale(1.03,1)" font-size="10.2" text-anchor="middle" font-weight="normal" fill="#111" letter-spacing="0" >6</text>
<line x1="484.60" y1="792.60" x2="484.60" y2="790.20" stroke="#111" stroke-width="1"/>
<line x1="510.80" y1="792.60" x2="510.80" y2="788.00" stroke="#111" stroke-width="1"/>
<text transform="translate(510.80,807.70) scale(1.03,1)" font-size="10.2" text-anchor="middle" font-weight="normal" fill="#111" letter-spacing="0" >9</text>
<line x1="537.00" y1="792.60" x2="537.00" y2="790.20" stroke="#111" stroke-width="1"/>
<line x1="563.20" y1="792.60" x2="563.20" y2="788.00" stroke="#111" stroke-width="1"/>
<text transform="translate(563.20,807.70) scale(1.03,1)" font-size="10.2" text-anchor="middle" font-weight="normal" fill="#111" letter-spacing="0" >12</text>
<line x1="589.40" y1="792.60" x2="589.40" y2="790.20" stroke="#111" stroke-width="1"/>
<line x1="615.60" y1="792.60" x2="615.60" y2="788.00" stroke="#111" stroke-width="1"/>
<text transform="translate(615.60,807.70) scale(1.03,1)" font-size="10.2" text-anchor="middle" font-weight="normal" fill="#111" letter-spacing="0" >15</text>
<line x1="406.00" y1="792.60" x2="410.60" y2="792.60" stroke="#111" stroke-width="1"/>
<text transform="translate(400.40,796.70) scale(1.03,1)" font-size="10.2" text-anchor="end" font-weight="normal" fill="#111" letter-spacing="0" >3</text>
<line x1="406.00" y1="772.58" x2="408.40" y2="772.58" stroke="#111" stroke-width="1"/>
<line x1="406.00" y1="752.55" x2="410.60" y2="752.55" stroke="#111" stroke-width="1"/>
<text transform="translate(400.40,756.65) scale(1.03,1)" font-size="10.2" text-anchor="end" font-weight="normal" fill="#111" letter-spacing="0" >6</text>
<line x1="406.00" y1="732.52" x2="408.40" y2="732.52" stroke="#111" stroke-width="1"/>
<line x1="406.00" y1="712.50" x2="410.60" y2="712.50" stroke="#111" stroke-width="1"/>
<text transform="translate(400.40,716.60) scale(1.03,1)" font-size="10.2" text-anchor="end" font-weight="normal" fill="#111" letter-spacing="0" >9</text>
<line x1="406.00" y1="692.48" x2="408.40" y2="692.48" stroke="#111" stroke-width="1"/>
<line x1="406.00" y1="672.45" x2="410.60" y2="672.45" stroke="#111" stroke-width="1"/>
<text transform="translate(400.40,676.55) scale(1.03,1)" font-size="10.2" text-anchor="end" font-weight="normal" fill="#111" letter-spacing="0" >12</text>
<line x1="406.00" y1="652.42" x2="408.40" y2="652.42" stroke="#111" stroke-width="1"/>
<line x1="406.00" y1="632.40" x2="410.60" y2="632.40" stroke="#111" stroke-width="1"/>
<text transform="translate(400.40,636.50) scale(1.03,1)" font-size="10.2" text-anchor="end" font-weight="normal" fill="#111" letter-spacing="0" >15</text>
<text transform="translate(422.00,645.00) scale(1.03,1)" font-size="10.2" text-anchor="start" font-weight="normal" fill="#111" letter-spacing="0.14" >Height = 0.9754 × Width + 0.190</text>
<text transform="translate(422.00,661.00) scale(1.03,1)" font-size="10.2" fill="#111"><tspan font-style="italic">R</tspan><tspan font-size="6.5" dy="-3.8">2</tspan><tspan dy="3.8"> = 0.965</tspan></text>
<circle cx="497.60" cy="765.60" r="1.9" fill="none" stroke="#e88a5a" stroke-width="0.8"/>
<circle cx="497.60" cy="778.40" r="1.9" fill="none" stroke="#4b0f6e" stroke-width="0.8"/>
<text transform="translate(504.10,769.10) scale(1.03,1)" font-size="10.2" text-anchor="start" font-weight="normal" fill="#111" letter-spacing="0" >AI predictions</text>
<text transform="translate(504.10,782.60) scale(1.03,1)" font-size="10.2" text-anchor="start" font-weight="normal" fill="#111" letter-spacing="0" >Manual measurements</text>
<text transform="translate(510.00,823.00) scale(1.03,1)" font-size="10.2" text-anchor="middle" font-weight="normal" fill="#111" letter-spacing="0" >Width (μm)</text>
<text transform="translate(381.00,714.00) rotate(-90) scale(1.03,1)" font-size="10.2" text-anchor="middle" fill="#111" letter-spacing="0">Height (μm)</text>
<rect x="554.4" y="601.0" width="101.20000000000005" height="14.399999999999977" fill="#fff" stroke="#222" stroke-width="0.9"/>
<text transform="translate(605.00,611.80) scale(1.03,1)" font-size="10.2" text-anchor="middle" font-weight="normal" fill="#111" letter-spacing="0" >Cell size analysis</text>
<text transform="translate(370.40,588.00) scale(1.03,1)" font-size="15" text-anchor="start" font-weight="bold" fill="#000" letter-spacing="0" >e</text>
<defs>
<g id="tbg">
<rect x="0" y="0" width="116.0" height="116.0" fill="#5880a2"/>
<line x1="-141" y1="-10" x2="-5.0" y2="126.0" stroke="rgba(40,75,95,0.30)" stroke-width="1.4"/>
<line x1="-141" y1="-10" x2="-277.0" y2="126.0" stroke="rgba(40,75,95,0.30)" stroke-width="1.4"/>
<line x1="-83" y1="-10" x2="53.0" y2="126.0" stroke="rgba(40,75,95,0.30)" stroke-width="1.4"/>
<line x1="-83" y1="-10" x2="-219.0" y2="126.0" stroke="rgba(40,75,95,0.30)" stroke-width="1.4"/>
<line x1="-25" y1="-10" x2="111.0" y2="126.0" stroke="rgba(40,75,95,0.30)" stroke-width="1.4"/>
<line x1="-25" y1="-10" x2="-161.0" y2="126.0" stroke="rgba(40,75,95,0.30)" stroke-width="1.4"/>
<line x1="33" y1="-10" x2="169.0" y2="126.0" stroke="rgba(40,75,95,0.30)" stroke-width="1.4"/>
<line x1="33" y1="-10" x2="-103.0" y2="126.0" stroke="rgba(40,75,95,0.30)" stroke-width="1.4"/>
<line x1="91" y1="-10" x2="227.0" y2="126.0" stroke="rgba(40,75,95,0.30)" stroke-width="1.4"/>
<line x1="91" y1="-10" x2="-45.0" y2="126.0" stroke="rgba(40,75,95,0.30)" stroke-width="1.4"/>
<line x1="149" y1="-10" x2="285.0" y2="126.0" stroke="rgba(40,75,95,0.30)" stroke-width="1.4"/>
<line x1="149" y1="-10" x2="13.0" y2="126.0" stroke="rgba(40,75,95,0.30)" stroke-width="1.4"/>
<line x1="207" y1="-10" x2="343.0" y2="126.0" stroke="rgba(40,75,95,0.30)" stroke-width="1.4"/>
<line x1="207" y1="-10" x2="71.0" y2="126.0" stroke="rgba(40,75,95,0.30)" stroke-width="1.4"/>
<line x1="265" y1="-10" x2="401.0" y2="126.0" stroke="rgba(40,75,95,0.30)" stroke-width="1.4"/>
<line x1="265" y1="-10" x2="129.0" y2="126.0" stroke="rgba(40,75,95,0.30)" stroke-width="1.4"/>
<line x1="323" y1="-10" x2="459.0" y2="126.0" stroke="rgba(40,75,95,0.30)" stroke-width="1.4"/>
<line x1="323" y1="-10" x2="187.0" y2="126.0" stroke="rgba(40,75,95,0.30)" stroke-width="1.4"/>
</g>
<g id="tfg">
<rect x="1.10" y="-14.20" width="26.5" height="11" fill="#34546e" opacity="0.75"/>
<rect x="1.10" y="44.00" width="26.5" height="11" fill="#34546e" opacity="0.75"/>
<rect x="1.10" y="102.20" width="26.5" height="11" fill="#34546e" opacity="0.75"/>
<rect x="59.10" y="-14.20" width="26.5" height="11" fill="#34546e" opacity="0.75"/>
<rect x="59.10" y="44.00" width="26.5" height="11" fill="#34546e" opacity="0.75"/>
<rect x="59.10" y="102.20" width="26.5" height="11" fill="#34546e" opacity="0.75"/>
<rect x="3.95" y="0" width="1.3" height="116.0" fill="#b8e2fc"/>
<rect x="61.95" y="0" width="1.3" height="116.0" fill="#b8e2fc"/>
<rect x="0" y="-15.15" width="116.0" height="1.3" fill="#b8e2fc"/>
<rect x="0" y="-3.65" width="116.0" height="1.3" fill="#b8e2fc"/>
<rect x="0" y="7.55" width="116.0" height="1.3" fill="#b8e2fc"/>
<rect x="0" y="43.05" width="116.0" height="1.3" fill="#b8e2fc"/>
<rect x="0" y="54.55" width="116.0" height="1.3" fill="#b8e2fc"/>
<rect x="0" y="65.75" width="116.0" height="1.3" fill="#b8e2fc"/>
<rect x="0" y="101.25" width="116.0" height="1.3" fill="#b8e2fc"/>
<rect x="0" y="112.75" width="116.0" height="1.3" fill="#b8e2fc"/>
<rect x="0" y="123.95" width="116.0" height="1.3" fill="#b8e2fc"/>
<rect x="7.20" y="-23.30" width="20.4" height="8.6" rx="1.2" fill="#f7faff"/>
<rect x="7.20" y="-1.90" width="18.4" height="17.6" rx="1.2" fill="#f7faff"/>
<rect x="7.20" y="34.90" width="20.4" height="8.6" rx="1.2" fill="#f7faff"/>
<rect x="7.20" y="56.30" width="18.4" height="17.6" rx="1.2" fill="#f7faff"/>
<rect x="7.20" y="93.10" width="20.4" height="8.6" rx="1.2" fill="#f7faff"/>
<rect x="7.20" y="114.50" width="18.4" height="17.6" rx="1.2" fill="#f7faff"/>
<rect x="65.20" y="-23.30" width="20.4" height="8.6" rx="1.2" fill="#f7faff"/>
<rect x="65.20" y="-1.90" width="18.4" height="17.6" rx="1.2" fill="#f7faff"/>
<rect x="65.20" y="34.90" width="20.4" height="8.6" rx="1.2" fill="#f7faff"/>
<rect x="65.20" y="56.30" width="18.4" height="17.6" rx="1.2" fill="#f7faff"/>
<rect x="65.20" y="93.10" width="20.4" height="8.6" rx="1.2" fill="#f7faff"/>
<rect x="65.20" y="114.50" width="18.4" height="17.6" rx="1.2" fill="#f7faff"/>
<path d="M14.20,-13.90 h-5.4 a5,5 0 0 0 0,10 h5.4 z" fill="#95d8e2" opacity="0.9"/>
<path d="M13.80,-12.10 h-4.8 a3.2,3.2 0 0 0 0,6.4 h4.8" fill="none" stroke="#eaffff" stroke-width="1.0"/>
<path d="M13.40,-10.10 h-4.2 a1.2,1.2 0 0 0 0,2.4 h4.2" fill="none" stroke="#c8f4f8" stroke-width="0.8"/>
<rect x="15.60" y="-11.10" width="7.2" height="4.4" rx="2.2" fill="#f4faff"/>
<ellipse cx="19.20" cy="-8.90" rx="1.7" ry="0.9" fill="#7f9fc4"/>
<rect x="24.20" y="-12.70" width="2.2" height="7.6" rx="1.1" fill="#cfe6fc"/>
<path d="M14.20,44.30 h-5.4 a5,5 0 0 0 0,10 h5.4 z" fill="#95d8e2" opacity="0.9"/>
<path d="M13.80,46.10 h-4.8 a3.2,3.2 0 0 0 0,6.4 h4.8" fill="none" stroke="#eaffff" stroke-width="1.0"/>
<path d="M13.40,48.10 h-4.2 a1.2,1.2 0 0 0 0,2.4 h4.2" fill="none" stroke="#c8f4f8" stroke-width="0.8"/>
<rect x="15.60" y="47.10" width="7.2" height="4.4" rx="2.2" fill="#f4faff"/>
<ellipse cx="19.20" cy="49.30" rx="1.7" ry="0.9" fill="#7f9fc4"/>
<rect x="24.20" y="45.50" width="2.2" height="7.6" rx="1.1" fill="#cfe6fc"/>
<path d="M14.20,102.50 h-5.4 a5,5 0 0 0 0,10 h5.4 z" fill="#95d8e2" opacity="0.9"/>
<path d="M13.80,104.30 h-4.8 a3.2,3.2 0 0 0 0,6.4 h4.8" fill="none" stroke="#eaffff" stroke-width="1.0"/>
<path d="M13.40,106.30 h-4.2 a1.2,1.2 0 0 0 0,2.4 h4.2" fill="none" stroke="#c8f4f8" stroke-width="0.8"/>
<rect x="15.60" y="105.30" width="7.2" height="4.4" rx="2.2" fill="#f4faff"/>
<ellipse cx="19.20" cy="107.50" rx="1.7" ry="0.9" fill="#7f9fc4"/>
<rect x="24.20" y="103.70" width="2.2" height="7.6" rx="1.1" fill="#cfe6fc"/>
<path d="M72.20,-13.90 h-5.4 a5,5 0 0 0 0,10 h5.4 z" fill="#95d8e2" opacity="0.9"/>
<path d="M71.80,-12.10 h-4.8 a3.2,3.2 0 0 0 0,6.4 h4.8" fill="none" stroke="#eaffff" stroke-width="1.0"/>
<path d="M71.40,-10.10 h-4.2 a1.2,1.2 0 0 0 0,2.4 h4.2" fill="none" stroke="#c8f4f8" stroke-width="0.8"/>
<rect x="73.60" y="-11.10" width="7.2" height="4.4" rx="2.2" fill="#f4faff"/>
<ellipse cx="77.20" cy="-8.90" rx="1.7" ry="0.9" fill="#7f9fc4"/>
<rect x="82.20" y="-12.70" width="2.2" height="7.6" rx="1.1" fill="#cfe6fc"/>
<path d="M72.20,44.30 h-5.4 a5,5 0 0 0 0,10 h5.4 z" fill="#95d8e2" opacity="0.9"/>
<path d="M71.80,46.10 h-4.8 a3.2,3.2 0 0 0 0,6.4 h4.8" fill="none" stroke="#eaffff" stroke-width="1.0"/>
<path d="M71.40,48.10 h-4.2 a1.2,1.2 0 0 0 0,2.4 h4.2" fill="none" stroke="#c8f4f8" stroke-width="0.8"/>
<rect x="73.60" y="47.10" width="7.2" height="4.4" rx="2.2" fill="#f4faff"/>
<ellipse cx="77.20" cy="49.30" rx="1.7" ry="0.9" fill="#7f9fc4"/>
<rect x="82.20" y="45.50" width="2.2" height="7.6" rx="1.1" fill="#cfe6fc"/>
<path d="M72.20,102.50 h-5.4 a5,5 0 0 0 0,10 h5.4 z" fill="#95d8e2" opacity="0.9"/>
<path d="M71.80,104.30 h-4.8 a3.2,3.2 0 0 0 0,6.4 h4.8" fill="none" stroke="#eaffff" stroke-width="1.0"/>
<path d="M71.40,106.30 h-4.2 a1.2,1.2 0 0 0 0,2.4 h4.2" fill="none" stroke="#c8f4f8" stroke-width="0.8"/>
<rect x="73.60" y="105.30" width="7.2" height="4.4" rx="2.2" fill="#f4faff"/>
<ellipse cx="77.20" cy="107.50" rx="1.7" ry="0.9" fill="#7f9fc4"/>
<rect x="82.20" y="103.70" width="2.2" height="7.6" rx="1.1" fill="#cfe6fc"/>
</g>
<filter id="ringblur" x="-20%" y="-20%" width="140%" height="140%"><feGaussianBlur stdDeviation="0.6"/></filter>
<filter id="ringblur1" x="-20%" y="-20%" width="140%" height="140%"><feGaussianBlur stdDeviation="0.75"/></filter>
<filter id="ringblur2" x="-20%" y="-20%" width="140%" height="140%"><feGaussianBlur stdDeviation="0.9"/></filter>
<filter id="tblur" x="-5%" y="-5%" width="110%" height="110%"><feGaussianBlur stdDeviation="0.3"/></filter>
<clipPath id="tclip0"><rect x="302.6" y="17.6" width="116.0" height="116.0" rx="9.5"/></clipPath>
<clipPath id="tclip1"><rect x="430.6" y="17.6" width="116.0" height="116.0" rx="9.5"/></clipPath>
<clipPath id="tclip2"><rect x="558.2" y="17.6" width="116.0" height="116.0" rx="9.5"/></clipPath>
<clipPath id="tclip3"><rect x="302.6" y="153.4" width="116.0" height="116.0" rx="9.5"/></clipPath>
<clipPath id="tclip4"><rect x="430.6" y="153.4" width="116.0" height="116.0" rx="9.5"/></clipPath>
<clipPath id="tclip5"><rect x="558.2" y="153.4" width="116.0" height="116.0" rx="9.5"/></clipPath>
</defs>
<g clip-path="url(#tclip0)"><g filter="url(#tblur)">
<use href="#tbg" transform="translate(302.6,17.6)"/>
<path d="M396.55,72.05 L396.44,75.39 L396.12,78.21 L395.59,80.83 L394.84,83.30 L393.90,85.63 L392.75,87.82 L391.40,89.87 L389.86,91.76 L388.15,93.51 L386.25,95.09 L384.19,96.51 L381.97,97.75 L379.59,98.81 L377.06,99.68 L374.38,100.36 L371.54,100.86 L368.47,101.15 L364.85,101.25 L361.23,101.15 L358.16,100.86 L355.32,100.36 L352.64,99.68 L350.11,98.81 L347.73,97.75 L345.51,96.51 L343.45,95.09 L341.55,93.51 L339.84,91.76 L338.30,89.87 L336.95,87.82 L335.80,85.63 L334.86,83.30 L334.11,80.83 L333.58,78.21 L333.26,75.39 L333.15,72.05 L333.26,68.71 L333.58,65.89 L334.11,63.27 L334.86,60.80 L335.80,58.47 L336.95,56.28 L338.30,54.23 L339.84,52.34 L341.55,50.59 L343.45,49.01 L345.51,47.59 L347.73,46.35 L350.11,45.29 L352.64,44.42 L355.32,43.74 L358.16,43.24 L361.23,42.95 L364.85,42.85 L368.47,42.95 L371.54,43.24 L374.38,43.74 L377.06,44.42 L379.59,45.29 L381.97,46.35 L384.19,47.59 L386.25,49.01 L388.15,50.59 L389.86,52.34 L391.40,54.23 L392.75,56.28 L393.90,58.47 L394.84,60.80 L395.59,63.27 L396.12,65.89 L396.44,68.71 Z" fill="#6482b4" opacity="0.4"/>
<use href="#tfg" transform="translate(302.6,17.6)"/>
</g>
<path d="M396.55,72.05 L396.44,75.39 L396.12,78.21 L395.59,80.83 L394.84,83.30 L393.90,85.63 L392.75,87.82 L391.40,89.87 L389.86,91.76 L388.15,93.51 L386.25,95.09 L384.19,96.51 L381.97,97.75 L379.59,98.81 L377.06,99.68 L374.38,100.36 L371.54,100.86 L368.47,101.15 L364.85,101.25 L361.23,101.15 L358.16,100.86 L355.32,100.36 L352.64,99.68 L350.11,98.81 L347.73,97.75 L345.51,96.51 L343.45,95.09 L341.55,93.51 L339.84,91.76 L338.30,89.87 L336.95,87.82 L335.80,85.63 L334.86,83.30 L334.11,80.83 L333.58,78.21 L333.26,75.39 L333.15,72.05 L333.26,68.71 L333.58,65.89 L334.11,63.27 L334.86,60.80 L335.80,58.47 L336.95,56.28 L338.30,54.23 L339.84,52.34 L341.55,50.59 L343.45,49.01 L345.51,47.59 L347.73,46.35 L350.11,45.29 L352.64,44.42 L355.32,43.74 L358.16,43.24 L361.23,42.95 L364.85,42.85 L368.47,42.95 L371.54,43.24 L374.38,43.74 L377.06,44.42 L379.59,45.29 L381.97,46.35 L384.19,47.59 L386.25,49.01 L388.15,50.59 L389.86,52.34 L391.40,54.23 L392.75,56.28 L393.90,58.47 L394.84,60.80 L395.59,63.27 L396.12,65.89 L396.44,68.71 Z" fill="none" stroke="#23434b" stroke-width="6.6" filter="url(#ringblur1)"/>
</g>
<rect x="325.4" y="36.3" width="77.10" height="71.70" fill="none" stroke="#e23b3b" stroke-width="1.0"/>
<rect x="324.90" y="30.30" width="27.10" height="6.20" fill="#e53c3c"/>
<text x="325.50" y="35.60" font-size="7.6" fill="#fff" textLength="25.90" lengthAdjust="spacingAndGlyphs">Droplet</text>
<rect x="362.40" y="47.50" width="12.60" height="6.30" fill="#f08a8a"/>
<text x="363.00" y="52.90" font-size="7.2" fill="#fff" textLength="11.40" lengthAdjust="spacingAndGlyphs">Cell</text>
<rect x="363.10" y="53.80" width="3.50" height="4.00" fill="none" stroke="#f08a8a" stroke-width="0.9"/>
<rect x="390.70" y="61.20" width="12.70" height="6.00" fill="#f08a8a"/>
<text x="391.30" y="66.30" font-size="7.2" fill="#fff" textLength="11.50" lengthAdjust="spacingAndGlyphs">Cell</text>
<rect x="391.10" y="67.20" width="4.00" height="4.40" fill="none" stroke="#f08a8a" stroke-width="0.9"/>
<rect x="377.00" y="81.10" width="27.00" height="6.10" fill="#e8721f"/>
<text x="377.60" y="86.30" font-size="7.2" fill="#fff" textLength="25.80" lengthAdjust="spacingAndGlyphs">Bubble</text>
<rect x="377.40" y="87.20" width="4.70" height="4.40" fill="none" stroke="#e8721f" stroke-width="0.9"/>
<text transform="translate(361.10,12.40) scale(1.03,1)" font-size="10.2" text-anchor="middle" font-weight="normal" fill="#111" letter-spacing="0" >−100 μm</text>
<g clip-path="url(#tclip1)"><g filter="url(#tblur)">
<use href="#tbg" transform="translate(430.6,17.6)"/>
<path d="M524.15,70.70 L524.04,74.20 L523.72,77.15 L523.18,79.90 L522.44,82.49 L521.49,84.93 L520.33,87.22 L518.98,89.37 L517.44,91.36 L515.72,93.19 L513.82,94.85 L511.75,96.33 L509.52,97.63 L507.14,98.74 L504.60,99.65 L501.91,100.37 L499.06,100.89 L495.98,101.20 L492.35,101.30 L488.72,101.20 L485.64,100.89 L482.79,100.37 L480.10,99.65 L477.56,98.74 L475.18,97.63 L472.95,96.33 L470.88,94.85 L468.98,93.19 L467.26,91.36 L465.72,89.37 L464.37,87.22 L463.21,84.93 L462.26,82.49 L461.52,79.90 L460.98,77.15 L460.66,74.20 L460.55,70.70 L460.66,67.20 L460.98,64.25 L461.52,61.50 L462.26,58.91 L463.21,56.47 L464.37,54.18 L465.72,52.03 L467.26,50.04 L468.98,48.21 L470.88,46.55 L472.95,45.07 L475.18,43.77 L477.56,42.66 L480.10,41.75 L482.79,41.03 L485.64,40.51 L488.72,40.20 L492.35,40.10 L495.98,40.20 L499.06,40.51 L501.91,41.03 L504.60,41.75 L507.14,42.66 L509.52,43.77 L511.75,45.07 L513.82,46.55 L515.72,48.21 L517.44,50.04 L518.98,52.03 L520.33,54.18 L521.49,56.47 L522.44,58.91 L523.18,61.50 L523.72,64.25 L524.04,67.20 Z" fill="#4f6ca6" opacity="0.42"/>
<use href="#tfg" transform="translate(430.6,17.6)"/>
</g>
<path d="M524.15,70.70 L524.04,74.20 L523.72,77.15 L523.18,79.90 L522.44,82.49 L521.49,84.93 L520.33,87.22 L518.98,89.37 L517.44,91.36 L515.72,93.19 L513.82,94.85 L511.75,96.33 L509.52,97.63 L507.14,98.74 L504.60,99.65 L501.91,100.37 L499.06,100.89 L495.98,101.20 L492.35,101.30 L488.72,101.20 L485.64,100.89 L482.79,100.37 L480.10,99.65 L477.56,98.74 L475.18,97.63 L472.95,96.33 L470.88,94.85 L468.98,93.19 L467.26,91.36 L465.72,89.37 L464.37,87.22 L463.21,84.93 L462.26,82.49 L461.52,79.90 L460.98,77.15 L460.66,74.20 L460.55,70.70 L460.66,67.20 L460.98,64.25 L461.52,61.50 L462.26,58.91 L463.21,56.47 L464.37,54.18 L465.72,52.03 L467.26,50.04 L468.98,48.21 L470.88,46.55 L472.95,45.07 L475.18,43.77 L477.56,42.66 L480.10,41.75 L482.79,41.03 L485.64,40.51 L488.72,40.20 L492.35,40.10 L495.98,40.20 L499.06,40.51 L501.91,41.03 L504.60,41.75 L507.14,42.66 L509.52,43.77 L511.75,45.07 L513.82,46.55 L515.72,48.21 L517.44,50.04 L518.98,52.03 L520.33,54.18 L521.49,56.47 L522.44,58.91 L523.18,61.50 L523.72,64.25 L524.04,67.20 Z" fill="none" stroke="#23434b" stroke-width="5.4" filter="url(#ringblur1)"/>
</g>
<rect x="455.0" y="36.3" width="73.60" height="71.20" fill="none" stroke="#e23b3b" stroke-width="1.0"/>
<rect x="454.50" y="30.30" width="27.10" height="6.20" fill="#e53c3c"/>
<text x="455.10" y="35.60" font-size="7.6" fill="#fff" textLength="25.90" lengthAdjust="spacingAndGlyphs">Droplet</text>
<rect x="490.00" y="47.40" width="13.00" height="6.30" fill="#f08a8a"/>
<text x="490.60" y="52.80" font-size="7.2" fill="#fff" textLength="11.80" lengthAdjust="spacingAndGlyphs">Cell</text>
<rect x="490.40" y="53.70" width="4.20" height="4.30" fill="none" stroke="#f08a8a" stroke-width="0.9"/>
<rect x="519.30" y="61.20" width="12.70" height="6.20" fill="#f08a8a"/>
<text x="519.90" y="66.50" font-size="7.2" fill="#fff" textLength="11.50" lengthAdjust="spacingAndGlyphs">Cell</text>
<rect x="519.70" y="67.40" width="4.40" height="3.40" fill="none" stroke="#f08a8a" stroke-width="0.9"/>
<rect x="465.40" y="75.20" width="26.80" height="6.40" fill="#e8721f"/>
<text x="466.00" y="80.70" font-size="7.2" fill="#fff" textLength="25.60" lengthAdjust="spacingAndGlyphs">Bubble</text>
<rect x="465.80" y="81.60" width="2.40" height="2.00" fill="none" stroke="#e8721f" stroke-width="0.9"/>
<rect x="505.30" y="81.00" width="26.70" height="6.40" fill="#e8721f"/>
<text x="505.90" y="86.50" font-size="7.2" fill="#fff" textLength="25.50" lengthAdjust="spacingAndGlyphs">Bubble</text>
<rect x="505.70" y="87.40" width="4.90" height="4.50" fill="none" stroke="#e8721f" stroke-width="0.9"/>
<text transform="translate(489.10,12.40) scale(1.03,1)" font-size="10.2" text-anchor="middle" font-weight="normal" fill="#111" letter-spacing="0" >−60 μm</text>
<g clip-path="url(#tclip2)"><g filter="url(#tblur)">
<use href="#tbg" transform="translate(558.2,17.6)"/>
<path d="M652.65,71.15 L652.54,74.83 L652.22,77.94 L651.69,80.83 L650.94,83.56 L650.00,86.12 L648.85,88.54 L647.50,90.80 L645.96,92.89 L644.25,94.81 L642.35,96.56 L640.29,98.12 L638.07,99.49 L635.69,100.65 L633.16,101.62 L630.48,102.37 L627.64,102.91 L624.57,103.24 L620.95,103.35 L617.33,103.24 L614.26,102.91 L611.42,102.37 L608.74,101.62 L606.21,100.65 L603.83,99.49 L601.61,98.12 L599.55,96.56 L597.65,94.81 L595.94,92.89 L594.40,90.80 L593.05,88.54 L591.90,86.12 L590.96,83.56 L590.21,80.83 L589.68,77.94 L589.36,74.83 L589.25,71.15 L589.36,67.47 L589.68,64.36 L590.21,61.47 L590.96,58.74 L591.90,56.18 L593.05,53.76 L594.40,51.50 L595.94,49.41 L597.65,47.49 L599.55,45.74 L601.61,44.18 L603.83,42.81 L606.21,41.65 L608.74,40.68 L611.42,39.93 L614.26,39.39 L617.33,39.06 L620.95,38.95 L624.57,39.06 L627.64,39.39 L630.48,39.93 L633.16,40.68 L635.69,41.65 L638.07,42.81 L640.29,44.18 L642.35,45.74 L644.25,47.49 L645.96,49.41 L647.50,51.50 L648.85,53.76 L650.00,56.18 L650.94,58.74 L651.69,61.47 L652.22,64.36 L652.54,67.47 Z" fill="#4a66a6" opacity="0.45"/>
<use href="#tfg" transform="translate(558.2,17.6)"/>
</g>
<path d="M652.65,71.15 L652.54,74.83 L652.22,77.94 L651.69,80.83 L650.94,83.56 L650.00,86.12 L648.85,88.54 L647.50,90.80 L645.96,92.89 L644.25,94.81 L642.35,96.56 L640.29,98.12 L638.07,99.49 L635.69,100.65 L633.16,101.62 L630.48,102.37 L627.64,102.91 L624.57,103.24 L620.95,103.35 L617.33,103.24 L614.26,102.91 L611.42,102.37 L608.74,101.62 L606.21,100.65 L603.83,99.49 L601.61,98.12 L599.55,96.56 L597.65,94.81 L595.94,92.89 L594.40,90.80 L593.05,88.54 L591.90,86.12 L590.96,83.56 L590.21,80.83 L589.68,77.94 L589.36,74.83 L589.25,71.15 L589.36,67.47 L589.68,64.36 L590.21,61.47 L590.96,58.74 L591.90,56.18 L593.05,53.76 L594.40,51.50 L595.94,49.41 L597.65,47.49 L599.55,45.74 L601.61,44.18 L603.83,42.81 L606.21,41.65 L608.74,40.68 L611.42,39.93 L614.26,39.39 L617.33,39.06 L620.95,38.95 L624.57,39.06 L627.64,39.39 L630.48,39.93 L633.16,40.68 L635.69,41.65 L638.07,42.81 L640.29,44.18 L642.35,45.74 L644.25,47.49 L645.96,49.41 L647.50,51.50 L648.85,53.76 L650.00,56.18 L650.94,58.74 L651.69,61.47 L652.22,64.36 L652.54,67.47 Z" fill="none" stroke="#23434b" stroke-width="3.8" filter="url(#ringblur)"/>
</g>
<rect x="583.5" y="36.3" width="74.00" height="70.90" fill="none" stroke="#e23b3b" stroke-width="1.0"/>
<rect x="583.00" y="30.30" width="27.10" height="6.20" fill="#e53c3c"/>
<text x="583.60" y="35.60" font-size="7.6" fill="#fff" textLength="25.90" lengthAdjust="spacingAndGlyphs">Droplet</text>
<rect x="619.50" y="48.40" width="12.40" height="6.20" fill="#f08a8a"/>
<text x="620.10" y="53.70" font-size="7.2" fill="#fff" textLength="11.20" lengthAdjust="spacingAndGlyphs">Cell</text>
<rect x="619.90" y="54.60" width="2.10" height="2.30" fill="none" stroke="#f08a8a" stroke-width="0.9"/>
<rect x="648.00" y="61.10" width="12.30" height="6.20" fill="#f08a8a"/>
<text x="648.60" y="66.40" font-size="7.2" fill="#fff" textLength="11.10" lengthAdjust="spacingAndGlyphs">Cell</text>
<rect x="648.40" y="67.30" width="3.90" height="2.90" fill="none" stroke="#f08a8a" stroke-width="0.9"/>
<circle cx="590.14" cy="80.20" r="0.9" fill="none" stroke="#e8721f" stroke-width="0.8"/>
<circle cx="595.11" cy="84.25" r="1.1" fill="none" stroke="#e8721f" stroke-width="0.8"/>
<circle cx="597.95" cy="81.82" r="0.9" fill="none" stroke="#e8721f" stroke-width="0.8"/>
<circle cx="593.69" cy="74.04" r="0.7" fill="none" stroke="#e8721f" stroke-width="0.8"/>
<rect x="587.30" y="66.00" width="28.40" height="6.10" fill="#e8721f"/>
<text x="587.90" y="71.20" font-size="7.2" fill="#fff" textLength="27.20" lengthAdjust="spacingAndGlyphs">Bubbles</text>
<rect x="587.70" y="72.10" width="13.40" height="15.80" fill="none" stroke="#e8721f" stroke-width="0.9"/>
<text transform="translate(616.70,12.40) scale(1.03,1)" font-size="10.2" text-anchor="middle" font-weight="normal" fill="#111" letter-spacing="0" >−20 μm</text>
<g clip-path="url(#tclip3)"><g filter="url(#tblur)">
<use href="#tbg" transform="translate(302.6,153.4)"/>
<path d="M397.05,207.15 L396.94,210.83 L396.61,213.94 L396.07,216.83 L395.32,219.56 L394.35,222.12 L393.19,224.54 L391.82,226.80 L390.26,228.89 L388.51,230.81 L386.59,232.56 L384.50,234.12 L382.24,235.49 L379.82,236.65 L377.26,237.62 L374.53,238.37 L371.64,238.91 L368.53,239.24 L364.85,239.35 L361.17,239.24 L358.06,238.91 L355.17,238.37 L352.44,237.62 L349.88,236.65 L347.46,235.49 L345.20,234.12 L343.11,232.56 L341.19,230.81 L339.44,228.89 L337.88,226.80 L336.51,224.54 L335.35,222.12 L334.38,219.56 L333.63,216.83 L333.09,213.94 L332.76,210.83 L332.65,207.15 L332.76,203.47 L333.09,200.36 L333.63,197.47 L334.38,194.74 L335.35,192.18 L336.51,189.76 L337.88,187.50 L339.44,185.41 L341.19,183.49 L343.11,181.74 L345.20,180.18 L347.46,178.81 L349.88,177.65 L352.44,176.68 L355.17,175.93 L358.06,175.39 L361.17,175.06 L364.85,174.95 L368.53,175.06 L371.64,175.39 L374.53,175.93 L377.26,176.68 L379.82,177.65 L382.24,178.81 L384.50,180.18 L386.59,181.74 L388.51,183.49 L390.26,185.41 L391.82,187.50 L393.19,189.76 L394.35,192.18 L395.32,194.74 L396.07,197.47 L396.61,200.36 L396.94,203.47 Z" fill="#4a66a6" opacity="0.45"/>
<use href="#tfg" transform="translate(302.6,153.4)"/>
</g>
<path d="M397.05,207.15 L396.94,210.83 L396.61,213.94 L396.07,216.83 L395.32,219.56 L394.35,222.12 L393.19,224.54 L391.82,226.80 L390.26,228.89 L388.51,230.81 L386.59,232.56 L384.50,234.12 L382.24,235.49 L379.82,236.65 L377.26,237.62 L374.53,238.37 L371.64,238.91 L368.53,239.24 L364.85,239.35 L361.17,239.24 L358.06,238.91 L355.17,238.37 L352.44,237.62 L349.88,236.65 L347.46,235.49 L345.20,234.12 L343.11,232.56 L341.19,230.81 L339.44,228.89 L337.88,226.80 L336.51,224.54 L335.35,222.12 L334.38,219.56 L333.63,216.83 L333.09,213.94 L332.76,210.83 L332.65,207.15 L332.76,203.47 L333.09,200.36 L333.63,197.47 L334.38,194.74 L335.35,192.18 L336.51,189.76 L337.88,187.50 L339.44,185.41 L341.19,183.49 L343.11,181.74 L345.20,180.18 L347.46,178.81 L349.88,177.65 L352.44,176.68 L355.17,175.93 L358.06,175.39 L361.17,175.06 L364.85,174.95 L368.53,175.06 L371.64,175.39 L374.53,175.93 L377.26,176.68 L379.82,177.65 L382.24,178.81 L384.50,180.18 L386.59,181.74 L388.51,183.49 L390.26,185.41 L391.82,187.50 L393.19,189.76 L394.35,192.18 L395.32,194.74 L396.07,197.47 L396.61,200.36 L396.94,203.47 Z" fill="none" stroke="#23434b" stroke-width="3.8" filter="url(#ringblur)"/>
</g>
<rect x="327.3" y="171.0" width="74.40" height="72.60" fill="none" stroke="#e23b3b" stroke-width="1.0"/>
<rect x="326.80" y="165.00" width="27.10" height="6.20" fill="#e53c3c"/>
<text x="327.40" y="170.30" font-size="7.6" fill="#fff" textLength="25.90" lengthAdjust="spacingAndGlyphs">Droplet</text>
<rect x="362.40" y="183.40" width="13.30" height="6.50" fill="#f08a8a"/>
<text x="363.00" y="189.00" font-size="7.2" fill="#fff" textLength="12.10" lengthAdjust="spacingAndGlyphs">Cell</text>
<rect x="363.70" y="189.90" width="2.60" height="2.60" fill="none" stroke="#f08a8a" stroke-width="0.9"/>
<rect x="391.80" y="196.70" width="12.90" height="6.30" fill="#f08a8a"/>
<text x="392.40" y="202.10" font-size="7.2" fill="#fff" textLength="11.70" lengthAdjust="spacingAndGlyphs">Cell</text>
<rect x="392.20" y="203.00" width="3.00" height="3.70" fill="none" stroke="#f08a8a" stroke-width="0.9"/>
<circle cx="334.54" cy="215.35" r="0.9" fill="none" stroke="#e8721f" stroke-width="0.8"/>
<circle cx="338.99" cy="219.33" r="1.1" fill="none" stroke="#e8721f" stroke-width="0.8"/>
<circle cx="341.52" cy="216.94" r="0.9" fill="none" stroke="#e8721f" stroke-width="0.8"/>
<circle cx="337.71" cy="209.31" r="0.7" fill="none" stroke="#e8721f" stroke-width="0.8"/>
<rect x="332.00" y="201.00" width="28.50" height="6.40" fill="#e8721f"/>
<text x="332.60" y="206.50" font-size="7.2" fill="#fff" textLength="27.30" lengthAdjust="spacingAndGlyphs">Bubbles</text>
<rect x="332.40" y="207.40" width="11.90" height="15.50" fill="none" stroke="#e8721f" stroke-width="0.9"/>
<text transform="translate(361.10,148.20) scale(1.03,1)" font-size="10.2" text-anchor="middle" font-weight="normal" fill="#111" letter-spacing="0" >20 μm</text>
<g clip-path="url(#tclip4)"><g filter="url(#tblur)">
<use href="#tbg" transform="translate(430.6,153.4)"/>
<path d="M525.55,207.15 L525.44,210.83 L525.11,213.94 L524.57,216.83 L523.82,219.56 L522.85,222.12 L521.69,224.54 L520.32,226.80 L518.76,228.89 L517.01,230.81 L515.09,232.56 L513.00,234.12 L510.74,235.49 L508.32,236.65 L505.76,237.62 L503.03,238.37 L500.14,238.91 L497.03,239.24 L493.35,239.35 L489.67,239.24 L486.56,238.91 L483.67,238.37 L480.94,237.62 L478.38,236.65 L475.96,235.49 L473.70,234.12 L471.61,232.56 L469.69,230.81 L467.94,228.89 L466.38,226.80 L465.01,224.54 L463.85,222.12 L462.88,219.56 L462.13,216.83 L461.59,213.94 L461.26,210.83 L461.15,207.15 L461.26,203.47 L461.59,200.36 L462.13,197.47 L462.88,194.74 L463.85,192.18 L465.01,189.76 L466.38,187.50 L467.94,185.41 L469.69,183.49 L471.61,181.74 L473.70,180.18 L475.96,178.81 L478.38,177.65 L480.94,176.68 L483.67,175.93 L486.56,175.39 L489.67,175.06 L493.35,174.95 L497.03,175.06 L500.14,175.39 L503.03,175.93 L505.76,176.68 L508.32,177.65 L510.74,178.81 L513.00,180.18 L515.09,181.74 L517.01,183.49 L518.76,185.41 L520.32,187.50 L521.69,189.76 L522.85,192.18 L523.82,194.74 L524.57,197.47 L525.11,200.36 L525.44,203.47 Z" fill="#4a66a6" opacity="0.45"/>
<use href="#tfg" transform="translate(430.6,153.4)"/>
</g>
<path d="M525.55,207.15 L525.44,210.83 L525.11,213.94 L524.57,216.83 L523.82,219.56 L522.85,222.12 L521.69,224.54 L520.32,226.80 L518.76,228.89 L517.01,230.81 L515.09,232.56 L513.00,234.12 L510.74,235.49 L508.32,236.65 L505.76,237.62 L503.03,238.37 L500.14,238.91 L497.03,239.24 L493.35,239.35 L489.67,239.24 L486.56,238.91 L483.67,238.37 L480.94,237.62 L478.38,236.65 L475.96,235.49 L473.70,234.12 L471.61,232.56 L469.69,230.81 L467.94,228.89 L466.38,226.80 L465.01,224.54 L463.85,222.12 L462.88,219.56 L462.13,216.83 L461.59,213.94 L461.26,210.83 L461.15,207.15 L461.26,203.47 L461.59,200.36 L462.13,197.47 L462.88,194.74 L463.85,192.18 L465.01,189.76 L466.38,187.50 L467.94,185.41 L469.69,183.49 L471.61,181.74 L473.70,180.18 L475.96,178.81 L478.38,177.65 L480.94,176.68 L483.67,175.93 L486.56,175.39 L489.67,175.06 L493.35,174.95 L497.03,175.06 L500.14,175.39 L503.03,175.93 L505.76,176.68 L508.32,177.65 L510.74,178.81 L513.00,180.18 L515.09,181.74 L517.01,183.49 L518.76,185.41 L520.32,187.50 L521.69,189.76 L522.85,192.18 L523.82,194.74 L524.57,197.47 L525.11,200.36 L525.44,203.47 Z" fill="none" stroke="#23434b" stroke-width="3.8" filter="url(#ringblur)"/>
</g>
<rect x="455.0" y="171.0" width="74.80" height="72.60" fill="none" stroke="#e23b3b" stroke-width="1.0"/>
<rect x="454.50" y="165.00" width="27.10" height="6.20" fill="#e53c3c"/>
<text x="455.10" y="170.30" font-size="7.6" fill="#fff" textLength="25.90" lengthAdjust="spacingAndGlyphs">Droplet</text>
<rect x="491.00" y="183.40" width="12.80" height="6.50" fill="#f08a8a"/>
<text x="491.60" y="189.00" font-size="7.2" fill="#fff" textLength="11.60" lengthAdjust="spacingAndGlyphs">Cell</text>
<rect x="491.80" y="189.90" width="2.60" height="2.70" fill="none" stroke="#f08a8a" stroke-width="0.9"/>
<rect x="519.90" y="195.70" width="12.30" height="6.10" fill="#f08a8a"/>
<text x="520.50" y="200.90" font-size="7.2" fill="#fff" textLength="11.10" lengthAdjust="spacingAndGlyphs">Cell</text>
<rect x="520.30" y="201.80" width="3.90" height="3.80" fill="none" stroke="#f08a8a" stroke-width="0.9"/>
<circle cx="462.04" cy="214.40" r="0.9" fill="none" stroke="#e8721f" stroke-width="0.8"/>
<circle cx="467.01" cy="217.90" r="1.1" fill="none" stroke="#e8721f" stroke-width="0.8"/>
<circle cx="469.85" cy="215.80" r="0.9" fill="none" stroke="#e8721f" stroke-width="0.8"/>
<circle cx="465.59" cy="209.08" r="0.7" fill="none" stroke="#e8721f" stroke-width="0.8"/>
<rect x="459.20" y="201.00" width="28.40" height="6.40" fill="#e8721f"/>
<text x="459.80" y="206.50" font-size="7.2" fill="#fff" textLength="27.20" lengthAdjust="spacingAndGlyphs">Bubbles</text>
<rect x="459.60" y="207.40" width="13.40" height="13.60" fill="none" stroke="#e8721f" stroke-width="0.9"/>
<text transform="translate(487.90,148.20) scale(1.03,1)" font-size="10.2" text-anchor="middle" font-weight="normal" fill="#111" letter-spacing="0" >60 μm</text>
<g clip-path="url(#tclip5)"><g filter="url(#tblur)">
<use href="#tbg" transform="translate(558.2,153.4)"/>
<path d="M653.75,206.95 L653.64,210.80 L653.30,214.06 L652.75,217.09 L651.97,219.94 L650.98,222.62 L649.78,225.15 L648.37,227.51 L646.77,229.70 L644.97,231.72 L643.00,233.54 L640.84,235.17 L638.52,236.61 L636.04,237.83 L633.40,238.84 L630.61,239.63 L627.63,240.19 L624.43,240.54 L620.65,240.65 L616.87,240.54 L613.67,240.19 L610.69,239.63 L607.90,238.84 L605.26,237.83 L602.78,236.61 L600.46,235.17 L598.30,233.54 L596.33,231.72 L594.53,229.70 L592.93,227.51 L591.52,225.15 L590.32,222.62 L589.33,219.94 L588.55,217.09 L588.00,214.06 L587.66,210.80 L587.55,206.95 L587.66,203.10 L588.00,199.84 L588.55,196.81 L589.33,193.96 L590.32,191.28 L591.52,188.75 L592.93,186.39 L594.53,184.20 L596.33,182.18 L598.30,180.36 L600.46,178.73 L602.78,177.29 L605.26,176.07 L607.90,175.06 L610.69,174.27 L613.67,173.71 L616.87,173.36 L620.65,173.25 L624.43,173.36 L627.63,173.71 L630.61,174.27 L633.40,175.06 L636.04,176.07 L638.52,177.29 L640.84,178.73 L643.00,180.36 L644.97,182.18 L646.77,184.20 L648.37,186.39 L649.78,188.75 L650.98,191.28 L651.97,193.96 L652.75,196.81 L653.30,199.84 L653.64,203.10 Z" fill="#2c5a6e" opacity="0.5"/>
<use href="#tfg" transform="translate(558.2,153.4)"/>
</g>
<path d="M653.75,206.95 L653.64,210.80 L653.30,214.06 L652.75,217.09 L651.97,219.94 L650.98,222.62 L649.78,225.15 L648.37,227.51 L646.77,229.70 L644.97,231.72 L643.00,233.54 L640.84,235.17 L638.52,236.61 L636.04,237.83 L633.40,238.84 L630.61,239.63 L627.63,240.19 L624.43,240.54 L620.65,240.65 L616.87,240.54 L613.67,240.19 L610.69,239.63 L607.90,238.84 L605.26,237.83 L602.78,236.61 L600.46,235.17 L598.30,233.54 L596.33,231.72 L594.53,229.70 L592.93,227.51 L591.52,225.15 L590.32,222.62 L589.33,219.94 L588.55,217.09 L588.00,214.06 L587.66,210.80 L587.55,206.95 L587.66,203.10 L588.00,199.84 L588.55,196.81 L589.33,193.96 L590.32,191.28 L591.52,188.75 L592.93,186.39 L594.53,184.20 L596.33,182.18 L598.30,180.36 L600.46,178.73 L602.78,177.29 L605.26,176.07 L607.90,175.06 L610.69,174.27 L613.67,173.71 L616.87,173.36 L620.65,173.25 L624.43,173.36 L627.63,173.71 L630.61,174.27 L633.40,175.06 L636.04,176.07 L638.52,177.29 L640.84,178.73 L643.00,180.36 L644.97,182.18 L646.77,184.20 L648.37,186.39 L649.78,188.75 L650.98,191.28 L651.97,193.96 L652.75,196.81 L653.30,199.84 L653.64,203.10 Z" fill="none" stroke="#24434f" stroke-width="3.0" opacity="0.85" filter="url(#ringblur2)"/>
</g>
<rect x="581.9" y="169.7" width="76.20" height="75.60" fill="none" stroke="#e23b3b" stroke-width="1.0"/>
<rect x="581.40" y="163.70" width="27.10" height="6.20" fill="#e53c3c"/>
<text x="582.00" y="169.00" font-size="7.6" fill="#fff" textLength="25.90" lengthAdjust="spacingAndGlyphs">Droplet</text>
<rect x="648.40" y="195.80" width="26.00" height="6.20" fill="#e8721f"/>
<text x="649.00" y="201.10" font-size="7.2" fill="#fff" textLength="24.80" lengthAdjust="spacingAndGlyphs">Bubble</text>
<rect x="648.80" y="202.00" width="3.00" height="3.30" fill="none" stroke="#e8721f" stroke-width="0.9"/>
<text transform="translate(621.40,148.20) scale(1.03,1)" font-size="10.2" text-anchor="middle" font-weight="normal" fill="#111" letter-spacing="0" >100 μm</text>
<defs><filter id="shblur" x="-30%" y="-60%" width="160%" height="220%"><feGaussianBlur stdDeviation="3.2"/></filter><filter id="plblur" x="-5%" y="-5%" width="110%" height="110%"><feGaussianBlur stdDeviation="0.3"/></filter><marker id="arrh" markerWidth="8" markerHeight="8" refX="7" refY="3.5" orient="auto" markerUnits="userSpaceOnUse"><path d="M0,0 L8,3.5 L0,7 z" fill="#3e5f8a"/></marker><marker id="arrr" markerWidth="9" markerHeight="9" refX="8" refY="3.5" orient="auto" markerUnits="userSpaceOnUse"><path d="M0,0 L9,3.5 L0,7 z" fill="#c0141c"/></marker></defs>
<polygon points="224,83 284,85.5 288,88.5 232,111 224,111" fill="#8a8a8a" opacity="0.5" filter="url(#shblur)"/>
<g filter="url(#plblur)"><polygon points="83.80,12.20 214.20,12.20 230.50,110.60 49.20,110.60" fill="#8cb9da"/>
<polyline points="60.16,79.44 94.53,110.60" stroke="rgba(70,110,140,0.13)" stroke-width="1.2" fill="none"/>
<polyline points="69.33,53.37 139.85,110.60" stroke="rgba(70,110,140,0.13)" stroke-width="1.2" fill="none"/>
<polyline points="77.11,31.23 185.17,110.60" stroke="rgba(70,110,140,0.13)" stroke-width="1.2" fill="none"/>
<polyline points="83.80,12.20 230.50,110.60" stroke="rgba(70,110,140,0.13)" stroke-width="1.2" fill="none"/>
<polyline points="116.40,12.20 225.34,79.44" stroke="rgba(70,110,140,0.13)" stroke-width="1.2" fill="none"/>
<polyline points="116.40,12.20 77.11,31.23" stroke="rgba(70,110,140,0.13)" stroke-width="1.2" fill="none"/>
<polyline points="149.00,12.20 221.02,53.37" stroke="rgba(70,110,140,0.13)" stroke-width="1.2" fill="none"/>
<polyline points="149.00,12.20 69.33,53.37" stroke="rgba(70,110,140,0.13)" stroke-width="1.2" fill="none"/>
<polyline points="181.60,12.20 217.35,31.23" stroke="rgba(70,110,140,0.13)" stroke-width="1.2" fill="none"/>
<polyline points="181.60,12.20 60.16,79.44" stroke="rgba(70,110,140,0.13)" stroke-width="1.2" fill="none"/>
<polyline points="214.20,12.20 49.20,110.60" stroke="rgba(70,110,140,0.13)" stroke-width="1.2" fill="none"/>
<polyline points="217.35,31.23 94.53,110.60" stroke="rgba(70,110,140,0.13)" stroke-width="1.2" fill="none"/>
<polyline points="221.02,53.37 139.85,110.60" stroke="rgba(70,110,140,0.13)" stroke-width="1.2" fill="none"/>
<polyline points="225.34,79.44 185.17,110.60" stroke="rgba(70,110,140,0.13)" stroke-width="1.2" fill="none"/>
<polygon points="170.68,52.40 170.48,54.26 169.89,56.11 168.91,57.92 167.55,59.65 165.84,61.27 163.80,62.76 161.47,64.07 158.87,65.19 156.07,66.08 153.12,66.74 150.06,67.14 146.97,67.27 143.90,67.14 140.91,66.74 138.06,66.08 135.41,65.19 133.00,64.07 130.88,62.76 129.08,61.27 127.64,59.65 126.58,57.92 125.90,56.11 125.61,54.26 125.72,52.40 126.20,50.56 127.05,48.78 128.25,47.08 129.76,45.49 131.57,44.03 133.63,42.73 135.92,41.59 138.39,40.64 141.00,39.89 143.72,39.34 146.51,39.01 149.32,38.90 152.11,39.01 154.84,39.34 157.47,39.89 159.96,40.64 162.28,41.59 164.37,42.73 166.22,44.03 167.78,45.49 169.04,47.08 169.95,48.78 170.50,50.56" fill="#6a96d2" fill-opacity="0.5"/>
<polygon points="88.13,12.20 99.93,12.20 98.61,16.80 86.59,16.80" fill="#ffffff"/>
<polygon points="84.90,23.62 97.82,23.62 96.96,26.65 83.89,26.65" fill="#ffffff"/>
<polygon points="82.26,29.76 94.88,29.76 92.93,36.55 79.98,36.55" fill="#ffffff"/>
<polygon points="77.97,44.48 91.91,44.48 90.91,48.02 76.79,48.02" fill="#ffffff"/>
<polygon points="74.94,51.64 88.59,51.64 86.30,59.61 72.27,59.61" fill="#ffffff"/>
<polygon points="69.84,68.93 84.99,68.93 83.81,73.11 68.46,73.11" fill="#ffffff"/>
<polygon points="66.32,77.40 81.18,77.40 78.46,86.85 63.16,86.85" fill="#ffffff"/>
<polygon points="60.19,97.98 76.76,97.98 75.35,102.99 58.53,102.99" fill="#ffffff"/>
<polygon points="56.04,108.14 72.34,108.14 71.63,110.60 55.22,110.60" fill="#ffffff"/>
<polygon points="120.73,12.20 132.53,12.20 131.80,16.80 119.78,16.80" fill="#ffffff"/>
<polygon points="118.97,23.62 131.90,23.62 131.43,26.65 118.36,26.65" fill="#ffffff"/>
<polygon points="117.13,29.76 129.75,29.76 128.68,36.55 115.73,36.55" fill="#ffffff"/>
<polygon points="114.74,44.48 128.69,44.48 128.15,48.02 114.02,48.02" fill="#ffffff"/>
<polygon points="112.64,51.64 126.29,51.64 125.03,59.61 111.00,59.61" fill="#ffffff"/>
<polygon points="109.78,68.93 124.93,68.93 124.28,73.11 108.93,73.11" fill="#ffffff"/>
<polygon points="107.35,77.40 122.21,77.40 120.71,86.85 105.41,86.85" fill="#ffffff"/>
<polygon points="103.88,97.98 120.46,97.98 119.69,102.99 102.87,102.99" fill="#ffffff"/>
<polygon points="101.05,108.14 117.34,108.14 116.95,110.60 100.54,110.60" fill="#ffffff"/>
<polygon points="153.33,12.20 165.13,12.20 165.00,16.80 152.98,16.80" fill="#ffffff"/>
<polygon points="153.05,23.62 165.98,23.62 165.90,26.65 152.83,26.65" fill="#ffffff"/>
<polygon points="152.00,29.76 164.62,29.76 164.43,36.55 151.48,36.55" fill="#ffffff"/>
<polygon points="151.51,44.48 165.46,44.48 165.38,48.02 151.25,48.02" fill="#ffffff"/>
<polygon points="150.34,51.64 163.99,51.64 163.76,59.61 149.73,59.61" fill="#ffffff"/>
<polygon points="149.72,68.93 164.86,68.93 164.76,73.11 149.41,73.11" fill="#ffffff"/>
<polygon points="148.38,77.40 163.24,77.40 162.97,86.85 147.67,86.85" fill="#ffffff"/>
<polygon points="147.58,97.98 164.15,97.98 164.03,102.99 147.21,102.99" fill="#ffffff"/>
<polygon points="146.05,108.14 162.35,108.14 162.28,110.60 145.87,110.60" fill="#ffffff"/>
<polygon points="185.93,12.20 197.73,12.20 198.19,16.80 186.17,16.80" fill="#ffffff"/>
<polygon points="187.13,23.62 200.05,23.62 200.37,26.65 187.30,26.65" fill="#ffffff"/>
<polygon points="186.87,29.76 199.49,29.76 200.17,36.55 187.23,36.55" fill="#ffffff"/>
<polygon points="188.29,44.48 202.24,44.48 202.61,48.02 188.49,48.02" fill="#ffffff"/>
<polygon points="188.04,51.64 201.69,51.64 202.49,59.61 188.46,59.61" fill="#ffffff"/>
<polygon points="189.65,68.93 204.80,68.93 205.24,73.11 189.88,73.11" fill="#ffffff"/>
<polygon points="189.42,77.40 204.27,77.40 205.22,86.85 189.92,86.85" fill="#ffffff"/>
<polygon points="191.27,97.98 207.84,97.98 208.37,102.99 191.55,102.99" fill="#ffffff"/>
<polygon points="191.06,108.14 207.36,108.14 207.60,110.60 191.19,110.60" fill="#ffffff"/>
<polygon points="85.99,12.20 86.89,12.20 53.50,110.60 52.25,110.60" fill="#e2f6ff"/>
<polygon points="118.59,12.20 119.49,12.20 98.82,110.60 97.57,110.60" fill="#e2f6ff"/>
<polygon points="151.19,12.20 152.09,12.20 144.15,110.60 142.90,110.60" fill="#e2f6ff"/>
<polygon points="183.79,12.20 184.69,12.20 189.47,110.60 188.22,110.60" fill="#e2f6ff"/>
<polygon points="82.98,14.54 214.59,14.54 214.67,15.04 82.80,15.04" fill="#e2f6ff"/>
<polygon points="78.98,25.90 216.47,25.90 216.56,26.45 78.79,26.45" fill="#e2f6ff"/>
<polygon points="77.58,29.89 217.13,29.89 217.22,30.46 77.38,30.46" fill="#e2f6ff"/>
<polygon points="76.16,33.94 217.80,33.94 217.90,34.51 75.95,34.51" fill="#e2f6ff"/>
<polygon points="71.51,47.14 219.99,47.14 220.09,47.78 71.29,47.78" fill="#e2f6ff"/>
<polygon points="69.87,51.81 220.76,51.81 220.87,52.46 69.64,52.46" fill="#e2f6ff"/>
<polygon points="68.21,56.54 221.54,56.54 221.66,57.21 67.97,57.21" fill="#e2f6ff"/>
<polygon points="62.75,72.07 224.12,72.07 224.24,72.82 62.48,72.82" fill="#e2f6ff"/>
<polygon points="60.81,77.59 225.03,77.59 225.16,78.37 60.53,78.37" fill="#e2f6ff"/>
<polygon points="58.83,83.20 225.96,83.20 226.09,84.01 58.55,84.01" fill="#e2f6ff"/>
<polygon points="52.31,101.75 229.03,101.75 229.18,102.65 52.00,102.65" fill="#e2f6ff"/>
<polygon points="49.98,108.37 230.13,108.37 230.29,109.31 49.65,109.31" fill="#e2f6ff"/>
<polygon points="79.15,26.62 94.00,26.62 92.99,30.07 77.94,30.07" fill="#d8f4ff" opacity="0.9"/>
<polygon points="87.13,27.30 91.54,27.30 90.99,29.09 86.56,29.09" fill="#ffffff"/>
<polyline points="85.62,26.82 81.71,29.58 80.99,29.51 80.39,29.31 79.97,29.01 79.76,28.62 79.79,28.19 80.05,27.77 80.52,27.38 81.16,27.08 81.89,26.89 82.64,26.82 84.72,29.58" fill="none" stroke="#e8fbff" stroke-width="1.3"/>
<polygon points="71.67,47.98 87.72,47.98 86.53,52.01 70.26,52.01" fill="#d8f4ff" opacity="0.9"/>
<polygon points="80.27,48.77 85.03,48.77 84.40,50.87 79.60,50.87" fill="#ffffff"/>
<polyline points="78.65,48.21 74.35,51.44 73.58,51.36 72.93,51.13 72.48,50.77 72.27,50.32 72.32,49.82 72.61,49.32 73.13,48.87 73.83,48.52 74.62,48.29 75.44,48.21 77.60,51.44" fill="none" stroke="#e8fbff" stroke-width="1.3"/>
<polygon points="62.89,73.06 80.33,73.06 78.93,77.83 61.22,77.83" fill="#d8f4ff" opacity="0.9"/>
<polygon points="72.22,74.00 77.40,74.00 76.65,76.48 71.43,76.48" fill="#ffffff"/>
<polyline points="70.47,73.34 65.70,77.15 64.85,77.06 64.16,76.79 63.68,76.36 63.47,75.83 63.53,75.24 63.87,74.65 64.45,74.12 65.22,73.70 66.09,73.43 66.98,73.34 69.23,77.15" fill="none" stroke="#e8fbff" stroke-width="1.3"/>
<polygon points="52.43,102.93 71.54,102.93 69.85,108.66 50.42,108.66" fill="#d8f4ff" opacity="0.9"/>
<polygon points="62.62,104.06 68.29,104.06 67.39,107.04 61.67,107.04" fill="#ffffff"/>
<polyline points="60.73,103.27 55.36,107.85 54.44,107.74 53.69,107.41 53.18,106.90 52.96,106.25 53.06,105.54 53.45,104.84 54.11,104.20 54.96,103.70 55.92,103.38 56.90,103.27 59.24,107.85" fill="none" stroke="#e8fbff" stroke-width="1.3"/>
<polygon points="113.61,26.62 128.47,26.62 127.90,30.07 112.85,30.07" fill="#d8f4ff" opacity="0.9"/>
<polygon points="121.68,27.30 126.09,27.30 125.78,29.09 121.34,29.09" fill="#ffffff"/>
<polyline points="120.11,26.82 116.56,29.58 115.83,29.51 115.21,29.31 114.74,29.01 114.48,28.62 114.46,28.19 114.67,27.77 115.09,27.38 115.68,27.08 116.38,26.89 117.13,26.82 119.57,29.58" fill="none" stroke="#e8fbff" stroke-width="1.3"/>
<polygon points="108.90,47.98 124.94,47.98 124.28,52.01 108.01,52.01" fill="#d8f4ff" opacity="0.9"/>
<polygon points="117.60,48.77 122.36,48.77 122.00,50.87 117.20,50.87" fill="#ffffff"/>
<polyline points="115.91,48.21 112.03,51.44 111.24,51.36 110.57,51.13 110.07,50.77 109.80,50.32 109.78,49.82 110.02,49.32 110.48,48.87 111.12,48.52 111.89,48.29 112.70,48.21 115.28,51.44" fill="none" stroke="#e8fbff" stroke-width="1.3"/>
<polygon points="103.36,73.06 120.80,73.06 120.02,77.83 102.31,77.83" fill="#d8f4ff" opacity="0.9"/>
<polygon points="112.81,74.00 117.99,74.00 117.56,76.48 112.34,76.48" fill="#ffffff"/>
<polyline points="110.98,73.34 106.70,77.15 105.84,77.06 105.11,76.79 104.58,76.36 104.29,75.83 104.28,75.24 104.55,74.65 105.06,74.12 105.77,73.70 106.60,73.43 107.49,73.34 110.23,77.15" fill="none" stroke="#e8fbff" stroke-width="1.3"/>
<polygon points="96.77,102.93 115.87,102.93 114.93,108.66 95.50,108.66" fill="#d8f4ff" opacity="0.9"/>
<polygon points="107.10,104.06 112.77,104.06 112.26,107.04 106.53,107.04" fill="#ffffff"/>
<polyline points="105.11,103.27 100.33,107.85 99.40,107.74 98.60,107.41 98.03,106.90 97.73,106.25 97.73,105.54 98.03,104.84 98.60,104.20 99.39,103.70 100.31,103.38 101.28,103.27 104.21,107.85" fill="none" stroke="#e8fbff" stroke-width="1.3"/>
<polygon points="148.08,26.62 162.93,26.62 162.81,30.07 147.76,30.07" fill="#d8f4ff" opacity="0.9"/>
<polygon points="156.23,27.30 160.64,27.30 160.56,29.09 156.13,29.09" fill="#ffffff"/>
<polyline points="154.60,26.82 151.41,29.58 150.67,29.51 150.02,29.31 149.51,29.01 149.21,28.62 149.13,28.19 149.28,27.77 149.65,27.38 150.20,27.08 150.88,26.89 151.62,26.82 154.41,29.58" fill="none" stroke="#e8fbff" stroke-width="1.3"/>
<polygon points="146.12,47.98 162.17,47.98 162.02,52.01 145.75,52.01" fill="#d8f4ff" opacity="0.9"/>
<polygon points="154.93,48.77 159.69,48.77 159.60,50.87 154.80,50.87" fill="#ffffff"/>
<polyline points="153.17,48.21 149.70,51.44 148.91,51.36 148.20,51.13 147.66,50.77 147.33,50.32 147.25,49.82 147.42,49.32 147.82,48.87 148.42,48.52 149.15,48.29 149.95,48.21 152.95,51.44" fill="none" stroke="#e8fbff" stroke-width="1.3"/>
<polygon points="143.83,73.06 161.27,73.06 161.10,77.83 143.39,77.83" fill="#d8f4ff" opacity="0.9"/>
<polygon points="153.40,74.00 158.58,74.00 158.47,76.48 153.25,76.48" fill="#ffffff"/>
<polyline points="151.49,73.34 147.70,77.15 146.83,77.06 146.06,76.79 145.48,76.36 145.12,75.83 145.04,75.24 145.22,74.65 145.67,74.12 146.32,73.70 147.12,73.43 147.99,73.34 151.23,77.15" fill="none" stroke="#e8fbff" stroke-width="1.3"/>
<polygon points="141.10,102.93 160.21,102.93 160.00,108.66 140.57,108.66" fill="#d8f4ff" opacity="0.9"/>
<polygon points="151.58,104.06 157.25,104.06 157.12,107.04 151.40,107.04" fill="#ffffff"/>
<polyline points="149.48,103.27 145.30,107.85 144.35,107.74 143.51,107.41 142.87,106.90 142.49,106.25 142.40,105.54 142.61,104.84 143.10,104.20 143.82,103.70 144.70,103.38 145.66,103.27 149.18,107.85" fill="none" stroke="#e8fbff" stroke-width="1.3"/>
<polygon points="182.54,26.62 197.39,26.62 197.72,30.07 182.67,30.07" fill="#d8f4ff" opacity="0.9"/>
<polygon points="190.79,27.30 195.20,27.30 195.35,29.09 190.91,29.09" fill="#ffffff"/>
<polyline points="189.09,26.82 186.26,29.58 185.51,29.51 184.83,29.31 184.29,29.01 183.93,28.62 183.79,28.19 183.89,27.77 184.22,27.38 184.73,27.08 185.38,26.89 186.12,26.82 189.26,29.58" fill="none" stroke="#e8fbff" stroke-width="1.3"/>
<polygon points="183.35,47.98 199.39,47.98 199.77,52.01 183.50,52.01" fill="#d8f4ff" opacity="0.9"/>
<polygon points="192.26,48.77 197.02,48.77 197.20,50.87 192.41,50.87" fill="#ffffff"/>
<polyline points="190.42,48.21 187.38,51.44 186.57,51.36 185.84,51.13 185.25,50.77 184.86,50.32 184.71,49.82 184.82,49.32 185.16,48.87 185.72,48.52 186.42,48.29 187.21,48.21 190.63,51.44" fill="none" stroke="#e8fbff" stroke-width="1.3"/>
<polygon points="184.30,73.06 201.74,73.06 202.19,77.83 184.48,77.83" fill="#d8f4ff" opacity="0.9"/>
<polygon points="193.99,74.00 199.17,74.00 199.38,76.48 194.16,76.48" fill="#ffffff"/>
<polyline points="191.99,73.34 188.70,77.15 187.82,77.06 187.02,76.79 186.37,76.36 185.95,75.83 185.79,75.24 185.90,74.65 186.27,74.12 186.88,73.70 187.64,73.43 188.50,73.34 192.23,77.15" fill="none" stroke="#e8fbff" stroke-width="1.3"/>
<polygon points="185.43,102.93 204.54,102.93 205.08,108.66 185.65,108.66" fill="#d8f4ff" opacity="0.9"/>
<polygon points="196.06,104.06 201.73,104.06 201.99,107.04 196.26,107.04" fill="#ffffff"/>
<polyline points="193.86,103.27 190.27,107.85 189.31,107.74 188.43,107.41 187.72,106.90 187.25,106.25 187.07,105.54 187.19,104.84 187.60,104.20 188.26,103.70 189.09,103.38 190.03,103.27 194.15,107.85" fill="none" stroke="#e8fbff" stroke-width="1.3"/>
<polygon points="170.68,52.40 170.48,54.26 169.89,56.11 168.91,57.92 167.55,59.65 165.84,61.27 163.80,62.76 161.47,64.07 158.87,65.19 156.07,66.08 153.12,66.74 150.06,67.14 146.97,67.27 143.90,67.14 140.91,66.74 138.06,66.08 135.41,65.19 133.00,64.07 130.88,62.76 129.08,61.27 127.64,59.65 126.58,57.92 125.90,56.11 125.61,54.26 125.72,52.40 126.20,50.56 127.05,48.78 128.25,47.08 129.76,45.49 131.57,44.03 133.63,42.73 135.92,41.59 138.39,40.64 141.00,39.89 143.72,39.34 146.51,39.01 149.32,38.90 152.11,39.01 154.84,39.34 157.47,39.89 159.96,40.64 162.28,41.59 164.37,42.73 166.22,44.03 167.78,45.49 169.04,47.08 169.95,48.78 170.50,50.56" fill="#8fb4dc" fill-opacity="0.25" stroke="#4f7a7c" stroke-width="1.9"/>
<polyline points="49.45,109.89 230.38,109.89" stroke="#e8f6ff" stroke-width="1.4" fill="none"/>
<polygon points="83.80,12.20 214.20,12.20 230.50,110.60 49.20,110.60" fill="none" stroke="#cfe9fb" stroke-width="0.8"/></g>
<polygon points="224,230.3 284,232.8 288,235.8 232,258.3 224,258.3" fill="#8a8a8a" opacity="0.5" filter="url(#shblur)"/>
<g filter="url(#plblur)"><polygon points="83.80,159.50 214.20,159.50 230.50,257.90 49.20,257.90" fill="#8cb9da"/>
<polyline points="60.16,226.74 94.53,257.90" stroke="rgba(70,110,140,0.13)" stroke-width="1.2" fill="none"/>
<polyline points="69.33,200.67 139.85,257.90" stroke="rgba(70,110,140,0.13)" stroke-width="1.2" fill="none"/>
<polyline points="77.11,178.53 185.17,257.90" stroke="rgba(70,110,140,0.13)" stroke-width="1.2" fill="none"/>
<polyline points="83.80,159.50 230.50,257.90" stroke="rgba(70,110,140,0.13)" stroke-width="1.2" fill="none"/>
<polyline points="116.40,159.50 225.34,226.74" stroke="rgba(70,110,140,0.13)" stroke-width="1.2" fill="none"/>
<polyline points="116.40,159.50 77.11,178.53" stroke="rgba(70,110,140,0.13)" stroke-width="1.2" fill="none"/>
<polyline points="149.00,159.50 221.02,200.67" stroke="rgba(70,110,140,0.13)" stroke-width="1.2" fill="none"/>
<polyline points="149.00,159.50 69.33,200.67" stroke="rgba(70,110,140,0.13)" stroke-width="1.2" fill="none"/>
<polyline points="181.60,159.50 217.35,178.53" stroke="rgba(70,110,140,0.13)" stroke-width="1.2" fill="none"/>
<polyline points="181.60,159.50 60.16,226.74" stroke="rgba(70,110,140,0.13)" stroke-width="1.2" fill="none"/>
<polyline points="214.20,159.50 49.20,257.90" stroke="rgba(70,110,140,0.13)" stroke-width="1.2" fill="none"/>
<polyline points="217.35,178.53 94.53,257.90" stroke="rgba(70,110,140,0.13)" stroke-width="1.2" fill="none"/>
<polyline points="221.02,200.67 139.85,257.90" stroke="rgba(70,110,140,0.13)" stroke-width="1.2" fill="none"/>
<polyline points="225.34,226.74 185.17,257.90" stroke="rgba(70,110,140,0.13)" stroke-width="1.2" fill="none"/>
<polygon points="170.68,199.70 170.48,201.56 169.89,203.41 168.91,205.22 167.55,206.95 165.84,208.57 163.80,210.06 161.47,211.37 158.87,212.49 156.07,213.38 153.12,214.04 150.06,214.44 146.97,214.57 143.90,214.44 140.91,214.04 138.06,213.38 135.41,212.49 133.00,211.37 130.88,210.06 129.08,208.57 127.64,206.95 126.58,205.22 125.90,203.41 125.61,201.56 125.72,199.70 126.20,197.86 127.05,196.08 128.25,194.38 129.76,192.79 131.57,191.33 133.63,190.03 135.92,188.89 138.39,187.94 141.00,187.19 143.72,186.64 146.51,186.31 149.32,186.20 152.11,186.31 154.84,186.64 157.47,187.19 159.96,187.94 162.28,188.89 164.37,190.03 166.22,191.33 167.78,192.79 169.04,194.38 169.95,196.08 170.50,197.86" fill="#6a96d2" fill-opacity="0.5"/>
<polygon points="88.13,159.50 99.93,159.50 98.61,164.10 86.59,164.10" fill="#ffffff"/>
<polygon points="84.90,170.92 97.82,170.92 96.96,173.95 83.89,173.95" fill="#ffffff"/>
<polygon points="82.26,177.06 94.88,177.06 92.93,183.85 79.98,183.85" fill="#ffffff"/>
<polygon points="77.97,191.78 91.91,191.78 90.91,195.32 76.79,195.32" fill="#ffffff"/>
<polygon points="74.94,198.94 88.59,198.94 86.30,206.91 72.27,206.91" fill="#ffffff"/>
<polygon points="69.84,216.23 84.99,216.23 83.81,220.41 68.46,220.41" fill="#ffffff"/>
<polygon points="66.32,224.70 81.18,224.70 78.46,234.15 63.16,234.15" fill="#ffffff"/>
<polygon points="60.19,245.28 76.76,245.28 75.35,250.29 58.53,250.29" fill="#ffffff"/>
<polygon points="56.04,255.44 72.34,255.44 71.63,257.90 55.22,257.90" fill="#ffffff"/>
<polygon points="120.73,159.50 132.53,159.50 131.80,164.10 119.78,164.10" fill="#ffffff"/>
<polygon points="118.97,170.92 131.90,170.92 131.43,173.95 118.36,173.95" fill="#ffffff"/>
<polygon points="117.13,177.06 129.75,177.06 128.68,183.85 115.73,183.85" fill="#ffffff"/>
<polygon points="114.74,191.78 128.69,191.78 128.15,195.32 114.02,195.32" fill="#ffffff"/>
<polygon points="112.64,198.94 126.29,198.94 125.03,206.91 111.00,206.91" fill="#ffffff"/>
<polygon points="109.78,216.23 124.93,216.23 124.28,220.41 108.93,220.41" fill="#ffffff"/>
<polygon points="107.35,224.70 122.21,224.70 120.71,234.15 105.41,234.15" fill="#ffffff"/>
<polygon points="103.88,245.28 120.46,245.28 119.69,250.29 102.87,250.29" fill="#ffffff"/>
<polygon points="101.05,255.44 117.34,255.44 116.95,257.90 100.54,257.90" fill="#ffffff"/>
<polygon points="153.33,159.50 165.13,159.50 165.00,164.10 152.98,164.10" fill="#ffffff"/>
<polygon points="153.05,170.92 165.98,170.92 165.90,173.95 152.83,173.95" fill="#ffffff"/>
<polygon points="152.00,177.06 164.62,177.06 164.43,183.85 151.48,183.85" fill="#ffffff"/>
<polygon points="151.51,191.78 165.46,191.78 165.38,195.32 151.25,195.32" fill="#ffffff"/>
<polygon points="150.34,198.94 163.99,198.94 163.76,206.91 149.73,206.91" fill="#ffffff"/>
<polygon points="149.72,216.23 164.86,216.23 164.76,220.41 149.41,220.41" fill="#ffffff"/>
<polygon points="148.38,224.70 163.24,224.70 162.97,234.15 147.67,234.15" fill="#ffffff"/>
<polygon points="147.58,245.28 164.15,245.28 164.03,250.29 147.21,250.29" fill="#ffffff"/>
<polygon points="146.05,255.44 162.35,255.44 162.28,257.90 145.87,257.90" fill="#ffffff"/>
<polygon points="185.93,159.50 197.73,159.50 198.19,164.10 186.17,164.10" fill="#ffffff"/>
<polygon points="187.13,170.92 200.05,170.92 200.37,173.95 187.30,173.95" fill="#ffffff"/>
<polygon points="186.87,177.06 199.49,177.06 200.17,183.85 187.23,183.85" fill="#ffffff"/>
<polygon points="188.29,191.78 202.24,191.78 202.61,195.32 188.49,195.32" fill="#ffffff"/>
<polygon points="188.04,198.94 201.69,198.94 202.49,206.91 188.46,206.91" fill="#ffffff"/>
<polygon points="189.65,216.23 204.80,216.23 205.24,220.41 189.88,220.41" fill="#ffffff"/>
<polygon points="189.42,224.70 204.27,224.70 205.22,234.15 189.92,234.15" fill="#ffffff"/>
<polygon points="191.27,245.28 207.84,245.28 208.37,250.29 191.55,250.29" fill="#ffffff"/>
<polygon points="191.06,255.44 207.36,255.44 207.60,257.90 191.19,257.90" fill="#ffffff"/>
<polygon points="85.99,159.50 86.89,159.50 53.50,257.90 52.25,257.90" fill="#e2f6ff"/>
<polygon points="118.59,159.50 119.49,159.50 98.82,257.90 97.57,257.90" fill="#e2f6ff"/>
<polygon points="151.19,159.50 152.09,159.50 144.15,257.90 142.90,257.90" fill="#e2f6ff"/>
<polygon points="183.79,159.50 184.69,159.50 189.47,257.90 188.22,257.90" fill="#e2f6ff"/>
<polygon points="82.98,161.84 214.59,161.84 214.67,162.34 82.80,162.34" fill="#e2f6ff"/>
<polygon points="78.98,173.20 216.47,173.20 216.56,173.75 78.79,173.75" fill="#e2f6ff"/>
<polygon points="77.58,177.19 217.13,177.19 217.22,177.76 77.38,177.76" fill="#e2f6ff"/>
<polygon points="76.16,181.24 217.80,181.24 217.90,181.81 75.95,181.81" fill="#e2f6ff"/>
<polygon points="71.51,194.44 219.99,194.44 220.09,195.08 71.29,195.08" fill="#e2f6ff"/>
<polygon points="69.87,199.11 220.76,199.11 220.87,199.76 69.64,199.76" fill="#e2f6ff"/>
<polygon points="68.21,203.84 221.54,203.84 221.66,204.51 67.97,204.51" fill="#e2f6ff"/>
<polygon points="62.75,219.37 224.12,219.37 224.24,220.12 62.48,220.12" fill="#e2f6ff"/>
<polygon points="60.81,224.89 225.03,224.89 225.16,225.67 60.53,225.67" fill="#e2f6ff"/>
<polygon points="58.83,230.50 225.96,230.50 226.09,231.31 58.55,231.31" fill="#e2f6ff"/>
<polygon points="52.31,249.05 229.03,249.05 229.18,249.95 52.00,249.95" fill="#e2f6ff"/>
<polygon points="49.98,255.67 230.13,255.67 230.29,256.61 49.65,256.61" fill="#e2f6ff"/>
<polygon points="79.15,173.92 94.00,173.92 92.99,177.37 77.94,177.37" fill="#d8f4ff" opacity="0.9"/>
<polygon points="87.13,174.60 91.54,174.60 90.99,176.39 86.56,176.39" fill="#ffffff"/>
<polyline points="85.62,174.12 81.71,176.88 80.99,176.81 80.39,176.61 79.97,176.31 79.76,175.92 79.79,175.49 80.05,175.07 80.52,174.68 81.16,174.38 81.89,174.19 82.64,174.12 84.72,176.88" fill="none" stroke="#e8fbff" stroke-width="1.3"/>
<polygon points="71.67,195.28 87.72,195.28 86.53,199.31 70.26,199.31" fill="#d8f4ff" opacity="0.9"/>
<polygon points="80.27,196.07 85.03,196.07 84.40,198.17 79.60,198.17" fill="#ffffff"/>
<polyline points="78.65,195.51 74.35,198.74 73.58,198.66 72.93,198.43 72.48,198.07 72.27,197.62 72.32,197.12 72.61,196.62 73.13,196.17 73.83,195.82 74.62,195.59 75.44,195.51 77.60,198.74" fill="none" stroke="#e8fbff" stroke-width="1.3"/>
<polygon points="62.89,220.36 80.33,220.36 78.93,225.13 61.22,225.13" fill="#d8f4ff" opacity="0.9"/>
<polygon points="72.22,221.30 77.40,221.30 76.65,223.78 71.43,223.78" fill="#ffffff"/>
<polyline points="70.47,220.64 65.70,224.45 64.85,224.36 64.16,224.09 63.68,223.66 63.47,223.13 63.53,222.54 63.87,221.95 64.45,221.42 65.22,221.00 66.09,220.73 66.98,220.64 69.23,224.45" fill="none" stroke="#e8fbff" stroke-width="1.3"/>
<polygon points="52.43,250.23 71.54,250.23 69.85,255.96 50.42,255.96" fill="#d8f4ff" opacity="0.9"/>
<polygon points="62.62,251.36 68.29,251.36 67.39,254.34 61.67,254.34" fill="#ffffff"/>
<polyline points="60.73,250.57 55.36,255.15 54.44,255.04 53.69,254.71 53.18,254.20 52.96,253.55 53.06,252.84 53.45,252.14 54.11,251.50 54.96,251.00 55.92,250.68 56.90,250.57 59.24,255.15" fill="none" stroke="#e8fbff" stroke-width="1.3"/>
<polygon points="113.61,173.92 128.47,173.92 127.90,177.37 112.85,177.37" fill="#d8f4ff" opacity="0.9"/>
<polygon points="121.68,174.60 126.09,174.60 125.78,176.39 121.34,176.39" fill="#ffffff"/>
<polyline points="120.11,174.12 116.56,176.88 115.83,176.81 115.21,176.61 114.74,176.31 114.48,175.92 114.46,175.49 114.67,175.07 115.09,174.68 115.68,174.38 116.38,174.19 117.13,174.12 119.57,176.88" fill="none" stroke="#e8fbff" stroke-width="1.3"/>
<polygon points="108.90,195.28 124.94,195.28 124.28,199.31 108.01,199.31" fill="#d8f4ff" opacity="0.9"/>
<polygon points="117.60,196.07 122.36,196.07 122.00,198.17 117.20,198.17" fill="#ffffff"/>
<polyline points="115.91,195.51 112.03,198.74 111.24,198.66 110.57,198.43 110.07,198.07 109.80,197.62 109.78,197.12 110.02,196.62 110.48,196.17 111.12,195.82 111.89,195.59 112.70,195.51 115.28,198.74" fill="none" stroke="#e8fbff" stroke-width="1.3"/>
<polygon points="103.36,220.36 120.80,220.36 120.02,225.13 102.31,225.13" fill="#d8f4ff" opacity="0.9"/>
<polygon points="112.81,221.30 117.99,221.30 117.56,223.78 112.34,223.78" fill="#ffffff"/>
<polyline points="110.98,220.64 106.70,224.45 105.84,224.36 105.11,224.09 104.58,223.66 104.29,223.13 104.28,222.54 104.55,221.95 105.06,221.42 105.77,221.00 106.60,220.73 107.49,220.64 110.23,224.45" fill="none" stroke="#e8fbff" stroke-width="1.3"/>
<polygon points="96.77,250.23 115.87,250.23 114.93,255.96 95.50,255.96" fill="#d8f4ff" opacity="0.9"/>
<polygon points="107.10,251.36 112.77,251.36 112.26,254.34 106.53,254.34" fill="#ffffff"/>
<polyline points="105.11,250.57 100.33,255.15 99.40,255.04 98.60,254.71 98.03,254.20 97.73,253.55 97.73,252.84 98.03,252.14 98.60,251.50 99.39,251.00 100.31,250.68 101.28,250.57 104.21,255.15" fill="none" stroke="#e8fbff" stroke-width="1.3"/>
<polygon points="148.08,173.92 162.93,173.92 162.81,177.37 147.76,177.37" fill="#d8f4ff" opacity="0.9"/>
<polygon points="156.23,174.60 160.64,174.60 160.56,176.39 156.13,176.39" fill="#ffffff"/>
<polyline points="154.60,174.12 151.41,176.88 150.67,176.81 150.02,176.61 149.51,176.31 149.21,175.92 149.13,175.49 149.28,175.07 149.65,174.68 150.20,174.38 150.88,174.19 151.62,174.12 154.41,176.88" fill="none" stroke="#e8fbff" stroke-width="1.3"/>
<polygon points="146.12,195.28 162.17,195.28 162.02,199.31 145.75,199.31" fill="#d8f4ff" opacity="0.9"/>
<polygon points="154.93,196.07 159.69,196.07 159.60,198.17 154.80,198.17" fill="#ffffff"/>
<polyline points="153.17,195.51 149.70,198.74 148.91,198.66 148.20,198.43 147.66,198.07 147.33,197.62 147.25,197.12 147.42,196.62 147.82,196.17 148.42,195.82 149.15,195.59 149.95,195.51 152.95,198.74" fill="none" stroke="#e8fbff" stroke-width="1.3"/>
<polygon points="143.83,220.36 161.27,220.36 161.10,225.13 143.39,225.13" fill="#d8f4ff" opacity="0.9"/>
<polygon points="153.40,221.30 158.58,221.30 158.47,223.78 153.25,223.78" fill="#ffffff"/>
<polyline points="151.49,220.64 147.70,224.45 146.83,224.36 146.06,224.09 145.48,223.66 145.12,223.13 145.04,222.54 145.22,221.95 145.67,221.42 146.32,221.00 147.12,220.73 147.99,220.64 151.23,224.45" fill="none" stroke="#e8fbff" stroke-width="1.3"/>
<polygon points="141.10,250.23 160.21,250.23 160.00,255.96 140.57,255.96" fill="#d8f4ff" opacity="0.9"/>
<polygon points="151.58,251.36 157.25,251.36 157.12,254.34 151.40,254.34" fill="#ffffff"/>
<polyline points="149.48,250.57 145.30,255.15 144.35,255.04 143.51,254.71 142.87,254.20 142.49,253.55 142.40,252.84 142.61,252.14 143.10,251.50 143.82,251.00 144.70,250.68 145.66,250.57 149.18,255.15" fill="none" stroke="#e8fbff" stroke-width="1.3"/>
<polygon points="182.54,173.92 197.39,173.92 197.72,177.37 182.67,177.37" fill="#d8f4ff" opacity="0.9"/>
<polygon points="190.79,174.60 195.20,174.60 195.35,176.39 190.91,176.39" fill="#ffffff"/>
<polyline points="189.09,174.12 186.26,176.88 185.51,176.81 184.83,176.61 184.29,176.31 183.93,175.92 183.79,175.49 183.89,175.07 184.22,174.68 184.73,174.38 185.38,174.19 186.12,174.12 189.26,176.88" fill="none" stroke="#e8fbff" stroke-width="1.3"/>
<polygon points="183.35,195.28 199.39,195.28 199.77,199.31 183.50,199.31" fill="#d8f4ff" opacity="0.9"/>
<polygon points="192.26,196.07 197.02,196.07 197.20,198.17 192.41,198.17" fill="#ffffff"/>
<polyline points="190.42,195.51 187.38,198.74 186.57,198.66 185.84,198.43 185.25,198.07 184.86,197.62 184.71,197.12 184.82,196.62 185.16,196.17 185.72,195.82 186.42,195.59 187.21,195.51 190.63,198.74" fill="none" stroke="#e8fbff" stroke-width="1.3"/>
<polygon points="184.30,220.36 201.74,220.36 202.19,225.13 184.48,225.13" fill="#d8f4ff" opacity="0.9"/>
<polygon points="193.99,221.30 199.17,221.30 199.38,223.78 194.16,223.78" fill="#ffffff"/>
<polyline points="191.99,220.64 188.70,224.45 187.82,224.36 187.02,224.09 186.37,223.66 185.95,223.13 185.79,222.54 185.90,221.95 186.27,221.42 186.88,221.00 187.64,220.73 188.50,220.64 192.23,224.45" fill="none" stroke="#e8fbff" stroke-width="1.3"/>
<polygon points="185.43,250.23 204.54,250.23 205.08,255.96 185.65,255.96" fill="#d8f4ff" opacity="0.9"/>
<polygon points="196.06,251.36 201.73,251.36 201.99,254.34 196.26,254.34" fill="#ffffff"/>
<polyline points="193.86,250.57 190.27,255.15 189.31,255.04 188.43,254.71 187.72,254.20 187.25,253.55 187.07,252.84 187.19,252.14 187.60,251.50 188.26,251.00 189.09,250.68 190.03,250.57 194.15,255.15" fill="none" stroke="#e8fbff" stroke-width="1.3"/>
<polygon points="170.68,199.70 170.48,201.56 169.89,203.41 168.91,205.22 167.55,206.95 165.84,208.57 163.80,210.06 161.47,211.37 158.87,212.49 156.07,213.38 153.12,214.04 150.06,214.44 146.97,214.57 143.90,214.44 140.91,214.04 138.06,213.38 135.41,212.49 133.00,211.37 130.88,210.06 129.08,208.57 127.64,206.95 126.58,205.22 125.90,203.41 125.61,201.56 125.72,199.70 126.20,197.86 127.05,196.08 128.25,194.38 129.76,192.79 131.57,191.33 133.63,190.03 135.92,188.89 138.39,187.94 141.00,187.19 143.72,186.64 146.51,186.31 149.32,186.20 152.11,186.31 154.84,186.64 157.47,187.19 159.96,187.94 162.28,188.89 164.37,190.03 166.22,191.33 167.78,192.79 169.04,194.38 169.95,196.08 170.50,197.86" fill="#8fb4dc" fill-opacity="0.25" stroke="#4f7a7c" stroke-width="1.9"/>
<polyline points="49.45,257.19 230.38,257.19" stroke="#e8f6ff" stroke-width="1.4" fill="none"/>
<polygon points="83.80,159.50 214.20,159.50 230.50,257.90 49.20,257.90" fill="none" stroke="#cfe9fb" stroke-width="0.8"/></g>
<polygon points="224,156.3 284,158.8 288,161.8 232,184.3 224,184.3" fill="#8a8a8a" opacity="0.5" filter="url(#shblur)"/>
<g filter="url(#plblur)"><polygon points="83.80,85.50 214.20,85.50 230.50,183.90 49.20,183.90" fill="#8cb9da"/>
<polyline points="60.16,152.74 94.53,183.90" stroke="rgba(70,110,140,0.13)" stroke-width="1.2" fill="none"/>
<polyline points="69.33,126.67 139.85,183.90" stroke="rgba(70,110,140,0.13)" stroke-width="1.2" fill="none"/>
<polyline points="77.11,104.53 185.17,183.90" stroke="rgba(70,110,140,0.13)" stroke-width="1.2" fill="none"/>
<polyline points="83.80,85.50 230.50,183.90" stroke="rgba(70,110,140,0.13)" stroke-width="1.2" fill="none"/>
<polyline points="116.40,85.50 225.34,152.74" stroke="rgba(70,110,140,0.13)" stroke-width="1.2" fill="none"/>
<polyline points="116.40,85.50 77.11,104.53" stroke="rgba(70,110,140,0.13)" stroke-width="1.2" fill="none"/>
<polyline points="149.00,85.50 221.02,126.67" stroke="rgba(70,110,140,0.13)" stroke-width="1.2" fill="none"/>
<polyline points="149.00,85.50 69.33,126.67" stroke="rgba(70,110,140,0.13)" stroke-width="1.2" fill="none"/>
<polyline points="181.60,85.50 217.35,104.53" stroke="rgba(70,110,140,0.13)" stroke-width="1.2" fill="none"/>
<polyline points="181.60,85.50 60.16,152.74" stroke="rgba(70,110,140,0.13)" stroke-width="1.2" fill="none"/>
<polyline points="214.20,85.50 49.20,183.90" stroke="rgba(70,110,140,0.13)" stroke-width="1.2" fill="none"/>
<polyline points="217.35,104.53 94.53,183.90" stroke="rgba(70,110,140,0.13)" stroke-width="1.2" fill="none"/>
<polyline points="221.02,126.67 139.85,183.90" stroke="rgba(70,110,140,0.13)" stroke-width="1.2" fill="none"/>
<polyline points="225.34,152.74 185.17,183.90" stroke="rgba(70,110,140,0.13)" stroke-width="1.2" fill="none"/>
<polygon points="170.68,125.70 170.48,127.56 169.89,129.41 168.91,131.22 167.55,132.95 165.84,134.57 163.80,136.06 161.47,137.37 158.87,138.49 156.07,139.38 153.12,140.04 150.06,140.44 146.97,140.57 143.90,140.44 140.91,140.04 138.06,139.38 135.41,138.49 133.00,137.37 130.88,136.06 129.08,134.57 127.64,132.95 126.58,131.22 125.90,129.41 125.61,127.56 125.72,125.70 126.20,123.86 127.05,122.08 128.25,120.38 129.76,118.79 131.57,117.33 133.63,116.03 135.92,114.89 138.39,113.94 141.00,113.19 143.72,112.64 146.51,112.31 149.32,112.20 152.11,112.31 154.84,112.64 157.47,113.19 159.96,113.94 162.28,114.89 164.37,116.03 166.22,117.33 167.78,118.79 169.04,120.38 169.95,122.08 170.50,123.86" fill="#6a96d2" fill-opacity="0.5"/>
<polygon points="88.13,85.50 99.93,85.50 98.61,90.10 86.59,90.10" fill="#ffffff"/>
<polygon points="84.90,96.92 97.82,96.92 96.96,99.95 83.89,99.95" fill="#ffffff"/>
<polygon points="82.26,103.06 94.88,103.06 92.93,109.85 79.98,109.85" fill="#ffffff"/>
<polygon points="77.97,117.78 91.91,117.78 90.91,121.32 76.79,121.32" fill="#ffffff"/>
<polygon points="74.94,124.94 88.59,124.94 86.30,132.91 72.27,132.91" fill="#ffffff"/>
<polygon points="69.84,142.23 84.99,142.23 83.81,146.41 68.46,146.41" fill="#ffffff"/>
<polygon points="66.32,150.70 81.18,150.70 78.46,160.15 63.16,160.15" fill="#ffffff"/>
<polygon points="60.19,171.28 76.76,171.28 75.35,176.29 58.53,176.29" fill="#ffffff"/>
<polygon points="56.04,181.44 72.34,181.44 71.63,183.90 55.22,183.90" fill="#ffffff"/>
<polygon points="120.73,85.50 132.53,85.50 131.80,90.10 119.78,90.10" fill="#ffffff"/>
<polygon points="118.97,96.92 131.90,96.92 131.43,99.95 118.36,99.95" fill="#ffffff"/>
<polygon points="117.13,103.06 129.75,103.06 128.68,109.85 115.73,109.85" fill="#ffffff"/>
<polygon points="114.74,117.78 128.69,117.78 128.15,121.32 114.02,121.32" fill="#ffffff"/>
<polygon points="112.64,124.94 126.29,124.94 125.03,132.91 111.00,132.91" fill="#ffffff"/>
<polygon points="109.78,142.23 124.93,142.23 124.28,146.41 108.93,146.41" fill="#ffffff"/>
<polygon points="107.35,150.70 122.21,150.70 120.71,160.15 105.41,160.15" fill="#ffffff"/>
<polygon points="103.88,171.28 120.46,171.28 119.69,176.29 102.87,176.29" fill="#ffffff"/>
<polygon points="101.05,181.44 117.34,181.44 116.95,183.90 100.54,183.90" fill="#ffffff"/>
<polygon points="153.33,85.50 165.13,85.50 165.00,90.10 152.98,90.10" fill="#ffffff"/>
<polygon points="153.05,96.92 165.98,96.92 165.90,99.95 152.83,99.95" fill="#ffffff"/>
<polygon points="152.00,103.06 164.62,103.06 164.43,109.85 151.48,109.85" fill="#ffffff"/>
<polygon points="151.51,117.78 165.46,117.78 165.38,121.32 151.25,121.32" fill="#ffffff"/>
<polygon points="150.34,124.94 163.99,124.94 163.76,132.91 149.73,132.91" fill="#ffffff"/>
<polygon points="149.72,142.23 164.86,142.23 164.76,146.41 149.41,146.41" fill="#ffffff"/>
<polygon points="148.38,150.70 163.24,150.70 162.97,160.15 147.67,160.15" fill="#ffffff"/>
<polygon points="147.58,171.28 164.15,171.28 164.03,176.29 147.21,176.29" fill="#ffffff"/>
<polygon points="146.05,181.44 162.35,181.44 162.28,183.90 145.87,183.90" fill="#ffffff"/>
<polygon points="185.93,85.50 197.73,85.50 198.19,90.10 186.17,90.10" fill="#ffffff"/>
<polygon points="187.13,96.92 200.05,96.92 200.37,99.95 187.30,99.95" fill="#ffffff"/>
<polygon points="186.87,103.06 199.49,103.06 200.17,109.85 187.23,109.85" fill="#ffffff"/>
<polygon points="188.29,117.78 202.24,117.78 202.61,121.32 188.49,121.32" fill="#ffffff"/>
<polygon points="188.04,124.94 201.69,124.94 202.49,132.91 188.46,132.91" fill="#ffffff"/>
<polygon points="189.65,142.23 204.80,142.23 205.24,146.41 189.88,146.41" fill="#ffffff"/>
<polygon points="189.42,150.70 204.27,150.70 205.22,160.15 189.92,160.15" fill="#ffffff"/>
<polygon points="191.27,171.28 207.84,171.28 208.37,176.29 191.55,176.29" fill="#ffffff"/>
<polygon points="191.06,181.44 207.36,181.44 207.60,183.90 191.19,183.90" fill="#ffffff"/>
<polygon points="85.99,85.50 86.89,85.50 53.50,183.90 52.25,183.90" fill="#e2f6ff"/>
<polygon points="118.59,85.50 119.49,85.50 98.82,183.90 97.57,183.90" fill="#e2f6ff"/>
<polygon points="151.19,85.50 152.09,85.50 144.15,183.90 142.90,183.90" fill="#e2f6ff"/>
<polygon points="183.79,85.50 184.69,85.50 189.47,183.90 188.22,183.90" fill="#e2f6ff"/>
<polygon points="82.98,87.84 214.59,87.84 214.67,88.34 82.80,88.34" fill="#e2f6ff"/>
<polygon points="78.98,99.20 216.47,99.20 216.56,99.75 78.79,99.75" fill="#e2f6ff"/>
<polygon points="77.58,103.19 217.13,103.19 217.22,103.76 77.38,103.76" fill="#e2f6ff"/>
<polygon points="76.16,107.24 217.80,107.24 217.90,107.81 75.95,107.81" fill="#e2f6ff"/>
<polygon points="71.51,120.44 219.99,120.44 220.09,121.08 71.29,121.08" fill="#e2f6ff"/>
<polygon points="69.87,125.11 220.76,125.11 220.87,125.76 69.64,125.76" fill="#e2f6ff"/>
<polygon points="68.21,129.84 221.54,129.84 221.66,130.51 67.97,130.51" fill="#e2f6ff"/>
<polygon points="62.75,145.37 224.12,145.37 224.24,146.12 62.48,146.12" fill="#e2f6ff"/>
<polygon points="60.81,150.89 225.03,150.89 225.16,151.67 60.53,151.67" fill="#e2f6ff"/>
<polygon points="58.83,156.50 225.96,156.50 226.09,157.31 58.55,157.31" fill="#e2f6ff"/>
<polygon points="52.31,175.05 229.03,175.05 229.18,175.95 52.00,175.95" fill="#e2f6ff"/>
<polygon points="49.98,181.67 230.13,181.67 230.29,182.61 49.65,182.61" fill="#e2f6ff"/>
<polygon points="79.15,99.92 94.00,99.92 92.99,103.37 77.94,103.37" fill="#d8f4ff" opacity="0.9"/>
<polygon points="87.13,100.60 91.54,100.60 90.99,102.39 86.56,102.39" fill="#ffffff"/>
<polyline points="85.62,100.12 81.71,102.88 80.99,102.81 80.39,102.61 79.97,102.31 79.76,101.92 79.79,101.49 80.05,101.07 80.52,100.68 81.16,100.38 81.89,100.19 82.64,100.12 84.72,102.88" fill="none" stroke="#e8fbff" stroke-width="1.3"/>
<polygon points="71.67,121.28 87.72,121.28 86.53,125.31 70.26,125.31" fill="#d8f4ff" opacity="0.9"/>
<polygon points="80.27,122.07 85.03,122.07 84.40,124.17 79.60,124.17" fill="#ffffff"/>
<polyline points="78.65,121.51 74.35,124.74 73.58,124.66 72.93,124.43 72.48,124.07 72.27,123.62 72.32,123.12 72.61,122.62 73.13,122.17 73.83,121.82 74.62,121.59 75.44,121.51 77.60,124.74" fill="none" stroke="#e8fbff" stroke-width="1.3"/>
<polygon points="62.89,146.36 80.33,146.36 78.93,151.13 61.22,151.13" fill="#d8f4ff" opacity="0.9"/>
<polygon points="72.22,147.30 77.40,147.30 76.65,149.78 71.43,149.78" fill="#ffffff"/>
<polyline points="70.47,146.64 65.70,150.45 64.85,150.36 64.16,150.09 63.68,149.66 63.47,149.13 63.53,148.54 63.87,147.95 64.45,147.42 65.22,147.00 66.09,146.73 66.98,146.64 69.23,150.45" fill="none" stroke="#e8fbff" stroke-width="1.3"/>
<polygon points="52.43,176.23 71.54,176.23 69.85,181.96 50.42,181.96" fill="#d8f4ff" opacity="0.9"/>
<polygon points="62.62,177.36 68.29,177.36 67.39,180.34 61.67,180.34" fill="#ffffff"/>
<polyline points="60.73,176.57 55.36,181.15 54.44,181.04 53.69,180.71 53.18,180.20 52.96,179.55 53.06,178.84 53.45,178.14 54.11,177.50 54.96,177.00 55.92,176.68 56.90,176.57 59.24,181.15" fill="none" stroke="#e8fbff" stroke-width="1.3"/>
<polygon points="113.61,99.92 128.47,99.92 127.90,103.37 112.85,103.37" fill="#d8f4ff" opacity="0.9"/>
<polygon points="121.68,100.60 126.09,100.60 125.78,102.39 121.34,102.39" fill="#ffffff"/>
<polyline points="120.11,100.12 116.56,102.88 115.83,102.81 115.21,102.61 114.74,102.31 114.48,101.92 114.46,101.49 114.67,101.07 115.09,100.68 115.68,100.38 116.38,100.19 117.13,100.12 119.57,102.88" fill="none" stroke="#e8fbff" stroke-width="1.3"/>
<polygon points="108.90,121.28 124.94,121.28 124.28,125.31 108.01,125.31" fill="#d8f4ff" opacity="0.9"/>
<polygon points="117.60,122.07 122.36,122.07 122.00,124.17 117.20,124.17" fill="#ffffff"/>
<polyline points="115.91,121.51 112.03,124.74 111.24,124.66 110.57,124.43 110.07,124.07 109.80,123.62 109.78,123.12 110.02,122.62 110.48,122.17 111.12,121.82 111.89,121.59 112.70,121.51 115.28,124.74" fill="none" stroke="#e8fbff" stroke-width="1.3"/>
<polygon points="103.36,146.36 120.80,146.36 120.02,151.13 102.31,151.13" fill="#d8f4ff" opacity="0.9"/>
<polygon points="112.81,147.30 117.99,147.30 117.56,149.78 112.34,149.78" fill="#ffffff"/>
<polyline points="110.98,146.64 106.70,150.45 105.84,150.36 105.11,150.09 104.58,149.66 104.29,149.13 104.28,148.54 104.55,147.95 105.06,147.42 105.77,147.00 106.60,146.73 107.49,146.64 110.23,150.45" fill="none" stroke="#e8fbff" stroke-width="1.3"/>
<polygon points="96.77,176.23 115.87,176.23 114.93,181.96 95.50,181.96" fill="#d8f4ff" opacity="0.9"/>
<polygon points="107.10,177.36 112.77,177.36 112.26,180.34 106.53,180.34" fill="#ffffff"/>
<polyline points="105.11,176.57 100.33,181.15 99.40,181.04 98.60,180.71 98.03,180.20 97.73,179.55 97.73,178.84 98.03,178.14 98.60,177.50 99.39,177.00 100.31,176.68 101.28,176.57 104.21,181.15" fill="none" stroke="#e8fbff" stroke-width="1.3"/>
<polygon points="148.08,99.92 162.93,99.92 162.81,103.37 147.76,103.37" fill="#d8f4ff" opacity="0.9"/>
<polygon points="156.23,100.60 160.64,100.60 160.56,102.39 156.13,102.39" fill="#ffffff"/>
<polyline points="154.60,100.12 151.41,102.88 150.67,102.81 150.02,102.61 149.51,102.31 149.21,101.92 149.13,101.49 149.28,101.07 149.65,100.68 150.20,100.38 150.88,100.19 151.62,100.12 154.41,102.88" fill="none" stroke="#e8fbff" stroke-width="1.3"/>
<polygon points="146.12,121.28 162.17,121.28 162.02,125.31 145.75,125.31" fill="#d8f4ff" opacity="0.9"/>
<polygon points="154.93,122.07 159.69,122.07 159.60,124.17 154.80,124.17" fill="#ffffff"/>
<polyline points="153.17,121.51 149.70,124.74 148.91,124.66 148.20,124.43 147.66,124.07 147.33,123.62 147.25,123.12 147.42,122.62 147.82,122.17 148.42,121.82 149.15,121.59 149.95,121.51 152.95,124.74" fill="none" stroke="#e8fbff" stroke-width="1.3"/>
<polygon points="143.83,146.36 161.27,146.36 161.10,151.13 143.39,151.13" fill="#d8f4ff" opacity="0.9"/>
<polygon points="153.40,147.30 158.58,147.30 158.47,149.78 153.25,149.78" fill="#ffffff"/>
<polyline points="151.49,146.64 147.70,150.45 146.83,150.36 146.06,150.09 145.48,149.66 145.12,149.13 145.04,148.54 145.22,147.95 145.67,147.42 146.32,147.00 147.12,146.73 147.99,146.64 151.23,150.45" fill="none" stroke="#e8fbff" stroke-width="1.3"/>
<polygon points="141.10,176.23 160.21,176.23 160.00,181.96 140.57,181.96" fill="#d8f4ff" opacity="0.9"/>
<polygon points="151.58,177.36 157.25,177.36 157.12,180.34 151.40,180.34" fill="#ffffff"/>
<polyline points="149.48,176.57 145.30,181.15 144.35,181.04 143.51,180.71 142.87,180.20 142.49,179.55 142.40,178.84 142.61,178.14 143.10,177.50 143.82,177.00 144.70,176.68 145.66,176.57 149.18,181.15" fill="none" stroke="#e8fbff" stroke-width="1.3"/>
<polygon points="182.54,99.92 197.39,99.92 197.72,103.37 182.67,103.37" fill="#d8f4ff" opacity="0.9"/>
<polygon points="190.79,100.60 195.20,100.60 195.35,102.39 190.91,102.39" fill="#ffffff"/>
<polyline points="189.09,100.12 186.26,102.88 185.51,102.81 184.83,102.61 184.29,102.31 183.93,101.92 183.79,101.49 183.89,101.07 184.22,100.68 184.73,100.38 185.38,100.19 186.12,100.12 189.26,102.88" fill="none" stroke="#e8fbff" stroke-width="1.3"/>
<polygon points="183.35,121.28 199.39,121.28 199.77,125.31 183.50,125.31" fill="#d8f4ff" opacity="0.9"/>
<polygon points="192.26,122.07 197.02,122.07 197.20,124.17 192.41,124.17" fill="#ffffff"/>
<polyline points="190.42,121.51 187.38,124.74 186.57,124.66 185.84,124.43 185.25,124.07 184.86,123.62 184.71,123.12 184.82,122.62 185.16,122.17 185.72,121.82 186.42,121.59 187.21,121.51 190.63,124.74" fill="none" stroke="#e8fbff" stroke-width="1.3"/>
<polygon points="184.30,146.36 201.74,146.36 202.19,151.13 184.48,151.13" fill="#d8f4ff" opacity="0.9"/>
<polygon points="193.99,147.30 199.17,147.30 199.38,149.78 194.16,149.78" fill="#ffffff"/>
<polyline points="191.99,146.64 188.70,150.45 187.82,150.36 187.02,150.09 186.37,149.66 185.95,149.13 185.79,148.54 185.90,147.95 186.27,147.42 186.88,147.00 187.64,146.73 188.50,146.64 192.23,150.45" fill="none" stroke="#e8fbff" stroke-width="1.3"/>
<polygon points="185.43,176.23 204.54,176.23 205.08,181.96 185.65,181.96" fill="#d8f4ff" opacity="0.9"/>
<polygon points="196.06,177.36 201.73,177.36 201.99,180.34 196.26,180.34" fill="#ffffff"/>
<polyline points="193.86,176.57 190.27,181.15 189.31,181.04 188.43,180.71 187.72,180.20 187.25,179.55 187.07,178.84 187.19,178.14 187.60,177.50 188.26,177.00 189.09,176.68 190.03,176.57 194.15,181.15" fill="none" stroke="#e8fbff" stroke-width="1.3"/>
<polygon points="170.68,125.70 170.48,127.56 169.89,129.41 168.91,131.22 167.55,132.95 165.84,134.57 163.80,136.06 161.47,137.37 158.87,138.49 156.07,139.38 153.12,140.04 150.06,140.44 146.97,140.57 143.90,140.44 140.91,140.04 138.06,139.38 135.41,138.49 133.00,137.37 130.88,136.06 129.08,134.57 127.64,132.95 126.58,131.22 125.90,129.41 125.61,127.56 125.72,125.70 126.20,123.86 127.05,122.08 128.25,120.38 129.76,118.79 131.57,117.33 133.63,116.03 135.92,114.89 138.39,113.94 141.00,113.19 143.72,112.64 146.51,112.31 149.32,112.20 152.11,112.31 154.84,112.64 157.47,113.19 159.96,113.94 162.28,114.89 164.37,116.03 166.22,117.33 167.78,118.79 169.04,120.38 169.95,122.08 170.50,123.86" fill="#8fb4dc" fill-opacity="0.25" stroke="#4f7a7c" stroke-width="1.9"/>
<polyline points="49.45,183.19 230.38,183.19" stroke="#e8f6ff" stroke-width="1.4" fill="none"/>
<polygon points="83.80,85.50 214.20,85.50 230.50,183.90 49.20,183.90" fill="none" stroke="#cfe9fb" stroke-width="0.8"/></g>
<line x1="231.3" y1="58.1" x2="302.0" y2="21.2" stroke="#3e5f8a" stroke-width="1.3" marker-end="url(#arrh)"/>
<line x1="234.0" y1="225.5" x2="298.8" y2="258.3" stroke="#3e5f8a" stroke-width="1.3" marker-end="url(#arrh)"/>
<line x1="89.6" y1="179.0" x2="89.6" y2="114.5" stroke="#c0141c" stroke-width="1.4" marker-end="url(#arrr)"/>
<line x1="89.6" y1="191.0" x2="89.6" y2="259.6" stroke="#c0141c" stroke-width="1.4" marker-end="url(#arrr)"/>
<rect x="109.5" y="169.0" width="66.3" height="13.8" fill="#c8101a"/>
<text transform="translate(142.60,179.60) scale(1.03,1)" font-size="10.2" text-anchor="middle" font-weight="normal" fill="#ffffff" letter-spacing="0" >Focal plane</text>
<text transform="translate(43.50,152.20) scale(1.03,1)" font-size="10.2" text-anchor="start" font-weight="normal" fill="#111" letter-spacing="0" >−100 μm</text>
<text transform="translate(45.00,225.60) scale(1.03,1)" font-size="10.2" text-anchor="start" font-weight="normal" fill="#111" letter-spacing="0" >+100 μm</text>
<text transform="translate(42.90,8.70) scale(1.03,1)" font-size="15" text-anchor="start" font-weight="bold" fill="#000" letter-spacing="0" >a</text>
</svg>
</div></body></html>
